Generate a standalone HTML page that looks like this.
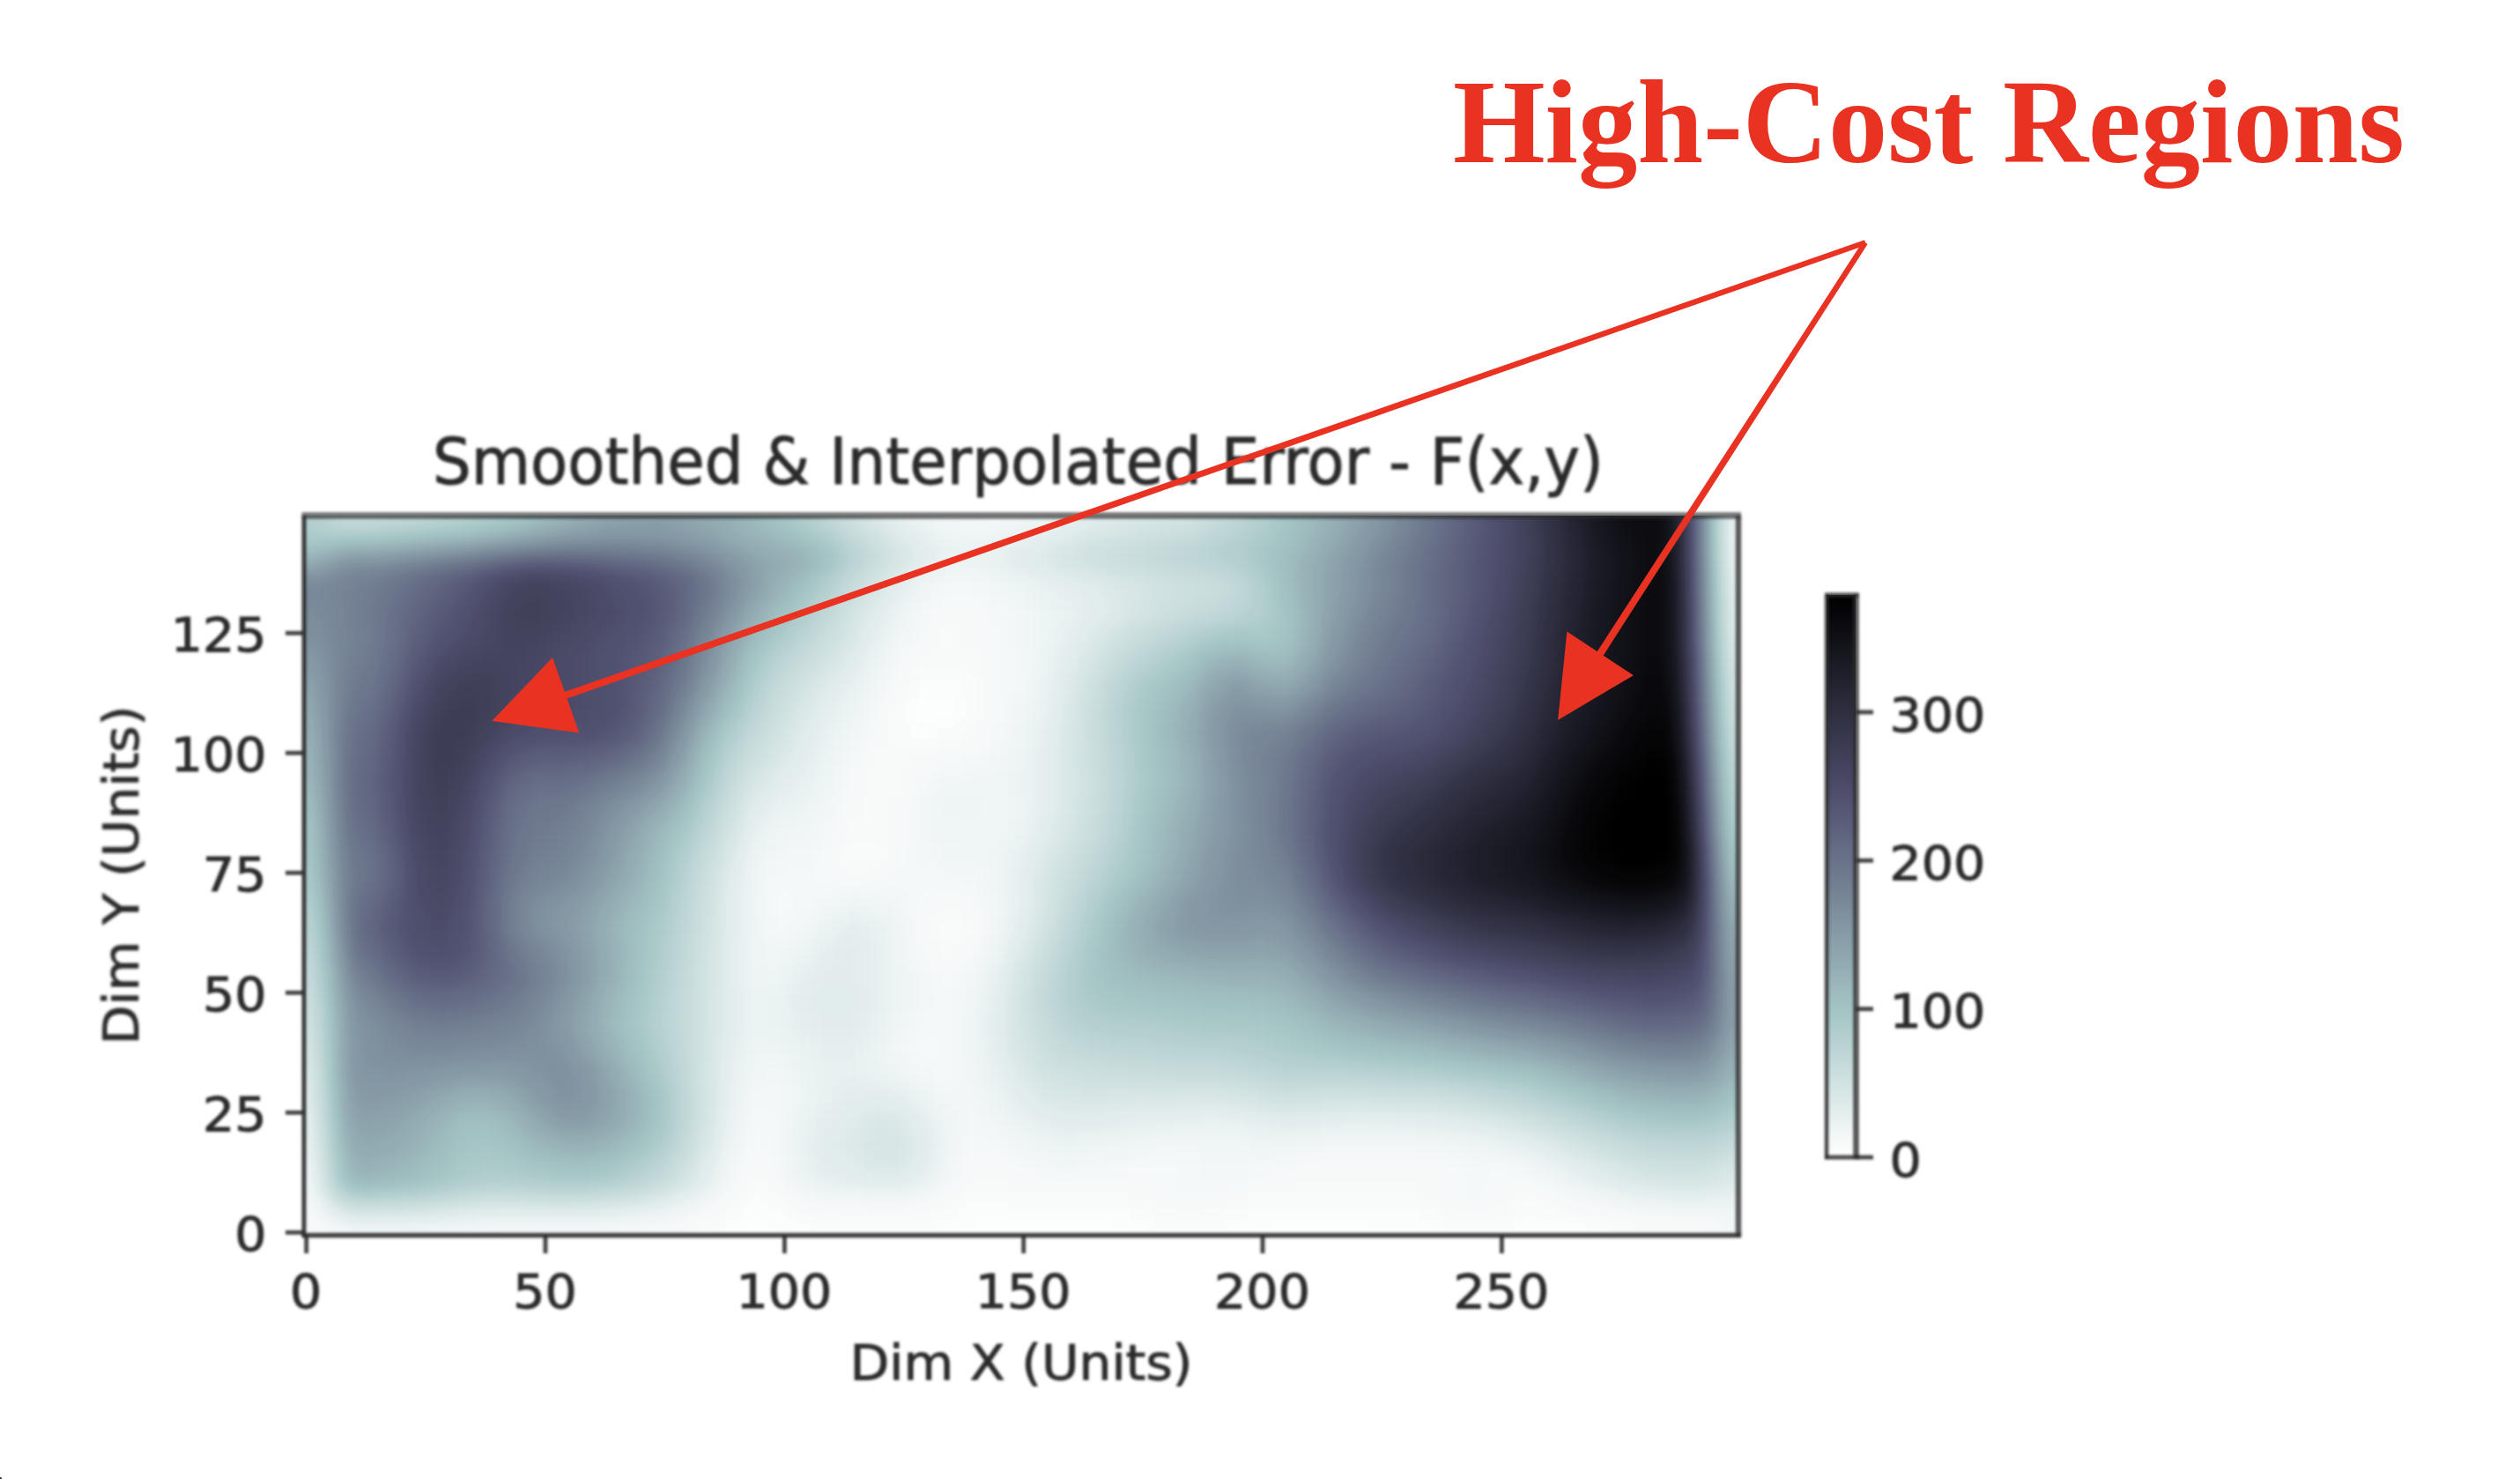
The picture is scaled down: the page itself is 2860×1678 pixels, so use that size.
<!DOCTYPE html>
<html lang="en">
<head>
<meta charset="utf-8">
<title>Smoothed &amp; Interpolated Error - F(x,y)</title>
<style>
html,body{margin:0;padding:0;background:#fff;}
body{width:2860px;height:1678px;overflow:hidden;}
svg{display:block;}
.dj{font-family:"DejaVu Sans","Liberation Sans",sans-serif;fill:#2b2b2b;}
.hc{font-family:"Liberation Serif","Times New Roman",serif;font-weight:bold;fill:#e93222;}
</style>
</head>
<body>
<svg width="2860" height="1678" viewBox="0 0 2860 1678">
<defs>
<clipPath id="axclip"><rect x="345.0" y="585.0" width="1628.0" height="816.0"/></clipPath>
<filter id="hm" filterUnits="userSpaceOnUse" primitiveUnits="userSpaceOnUse" x="275.0" y="515.0" width="1768.0" height="956.0" color-interpolation-filters="sRGB">
<feGaussianBlur in="SourceGraphic" stdDeviation="10" result="p"/>
<feComponentTransfer in="p">
<feFuncR type="table" tableValues="1.000 0.968 0.936 0.898 0.866 0.828 0.796 0.764 0.727 0.694 0.657 0.635 0.614 0.590 0.570 0.546 0.525 0.504 0.480 0.460 0.436 0.415 0.395 0.371 0.350 0.326 0.305 0.285 0.261 0.240 0.216 0.196 0.175 0.151 0.130 0.106 0.086 0.065 0.041 0.021 0.000"/>
<feFuncG type="table" tableValues="1.000 0.979 0.959 0.935 0.914 0.890 0.870 0.849 0.825 0.804 0.780 0.753 0.725 0.692 0.663 0.630 0.602 0.574 0.541 0.512 0.479 0.451 0.423 0.390 0.361 0.328 0.305 0.285 0.261 0.240 0.216 0.196 0.175 0.151 0.130 0.106 0.086 0.065 0.041 0.021 0.000"/>
<feFuncB type="table" tableValues="1.000 0.979 0.959 0.935 0.914 0.890 0.870 0.849 0.825 0.804 0.780 0.760 0.739 0.715 0.695 0.671 0.650 0.629 0.605 0.585 0.561 0.540 0.520 0.496 0.475 0.451 0.425 0.396 0.363 0.334 0.301 0.272 0.243 0.210 0.181 0.148 0.119 0.091 0.057 0.029 0.000"/>
</feComponentTransfer>
</filter>
<linearGradient id="cbg" x1="0" y1="0" x2="0" y2="1"><stop offset="0.00" stop-color="#000000"/><stop offset="0.05" stop-color="#0a0a0f"/><stop offset="0.10" stop-color="#16161e"/><stop offset="0.15" stop-color="#21212e"/><stop offset="0.20" stop-color="#2d2d3e"/><stop offset="0.25" stop-color="#37374d"/><stop offset="0.30" stop-color="#42425d"/><stop offset="0.35" stop-color="#4e4e6c"/><stop offset="0.40" stop-color="#595c79"/><stop offset="0.45" stop-color="#656c84"/><stop offset="0.50" stop-color="#6f7a8f"/><stop offset="0.55" stop-color="#7a8a9a"/><stop offset="0.60" stop-color="#869aa6"/><stop offset="0.65" stop-color="#91a9b1"/><stop offset="0.70" stop-color="#9db9bc"/><stop offset="0.75" stop-color="#a7c7c7"/><stop offset="0.80" stop-color="#b9d2d2"/><stop offset="0.85" stop-color="#cbdede"/><stop offset="0.90" stop-color="#dde9e9"/><stop offset="0.95" stop-color="#eff5f4"/><stop offset="1.00" stop-color="#ffffff"/></linearGradient>
<filter id="soft" x="-5%" y="-5%" width="110%" height="110%"><feGaussianBlur stdDeviation="1.7"/></filter>
<filter id="soft2" x="-5%" y="-5%" width="110%" height="110%"><feGaussianBlur stdDeviation="0.7"/></filter>
</defs>
<rect width="2860" height="1678" fill="#fff"/>

<!-- heatmap -->
<g clip-path="url(#axclip)">
<g filter="url(#hm)">
<rect x="265.0" y="505.0" width="1788.0" height="976.0" fill="#000"/>
<rect x="300.0" y="540.0" width="45.6" height="25.6" fill="#3a3a3a"/>
<rect x="345.0" y="540.0" width="10.6" height="25.6" fill="#393939"/>
<rect x="355.0" y="540.0" width="10.6" height="25.6" fill="#363636"/>
<rect x="365.0" y="540.0" width="10.6" height="25.6" fill="#313131"/>
<rect x="375.0" y="540.0" width="10.6" height="25.6" fill="#2c2c2c"/>
<rect x="385.0" y="540.0" width="10.6" height="25.6" fill="#282828"/>
<rect x="395.0" y="540.0" width="10.6" height="25.6" fill="#272727"/>
<rect x="405.0" y="540.0" width="28.0" height="25.6" fill="#292929"/>
<rect x="432.4" y="540.0" width="28.0" height="25.6" fill="#2b2b2b"/>
<rect x="459.7" y="540.0" width="28.0" height="25.6" fill="#2d2d2d"/>
<rect x="487.1" y="540.0" width="28.0" height="25.6" fill="#303030"/>
<rect x="514.5" y="540.0" width="28.0" height="25.6" fill="#343434"/>
<rect x="541.9" y="540.0" width="28.0" height="25.6" fill="#393939"/>
<rect x="569.2" y="540.0" width="28.0" height="25.6" fill="#3f3f3f"/>
<rect x="596.6" y="540.0" width="28.0" height="25.6" fill="#474747"/>
<rect x="624.0" y="540.0" width="28.0" height="25.6" fill="#505050"/>
<rect x="651.3" y="540.0" width="28.0" height="25.6" fill="#565656"/>
<rect x="678.7" y="540.0" width="28.0" height="25.6" fill="#5c5c5c"/>
<rect x="706.1" y="540.0" width="28.0" height="25.6" fill="#5e5e5e"/>
<rect x="733.4" y="540.0" width="28.0" height="25.6" fill="#5f5f5f"/>
<rect x="760.8" y="540.0" width="28.0" height="25.6" fill="#5c5c5c"/>
<rect x="788.2" y="540.0" width="28.0" height="25.6" fill="#585858"/>
<rect x="815.6" y="540.0" width="28.0" height="25.6" fill="#525252"/>
<rect x="842.9" y="540.0" width="28.0" height="25.6" fill="#4b4b4b"/>
<rect x="870.3" y="540.0" width="28.0" height="25.6" fill="#424242"/>
<rect x="897.7" y="540.0" width="28.0" height="25.6" fill="#383838"/>
<rect x="925.0" y="540.0" width="28.0" height="25.6" fill="#2e2e2e"/>
<rect x="952.4" y="540.0" width="28.0" height="25.6" fill="#232323"/>
<rect x="979.8" y="540.0" width="28.0" height="25.6" fill="#1a1a1a"/>
<rect x="1007.1" y="540.0" width="28.0" height="25.6" fill="#121212"/>
<rect x="1034.5" y="540.0" width="28.0" height="25.6" fill="#0d0d0d"/>
<rect x="1061.9" y="540.0" width="28.0" height="25.6" fill="#0a0a0a"/>
<rect x="1089.3" y="540.0" width="28.0" height="25.6" fill="#090909"/>
<rect x="1116.6" y="540.0" width="28.0" height="25.6" fill="#080808"/>
<rect x="1144.0" y="540.0" width="28.0" height="25.6" fill="#0a0a0a"/>
<rect x="1171.4" y="540.0" width="28.0" height="25.6" fill="#0c0c0c"/>
<rect x="1198.7" y="540.0" width="28.0" height="25.6" fill="#101010"/>
<rect x="1226.1" y="540.0" width="28.0" height="25.6" fill="#151515"/>
<rect x="1253.5" y="540.0" width="28.0" height="25.6" fill="#181818"/>
<rect x="1280.9" y="540.0" width="28.0" height="25.6" fill="#1b1b1b"/>
<rect x="1308.2" y="540.0" width="28.0" height="25.6" fill="#1d1d1d"/>
<rect x="1335.6" y="540.0" width="28.0" height="25.6" fill="#202020"/>
<rect x="1363.0" y="540.0" width="28.0" height="25.6" fill="#272727"/>
<rect x="1390.3" y="540.0" width="28.0" height="25.6" fill="#2e2e2e"/>
<rect x="1417.7" y="540.0" width="28.0" height="25.6" fill="#373737"/>
<rect x="1445.1" y="540.0" width="28.0" height="25.6" fill="#404040"/>
<rect x="1472.4" y="540.0" width="28.0" height="25.6" fill="#4a4a4a"/>
<rect x="1499.8" y="540.0" width="28.0" height="25.6" fill="#535353"/>
<rect x="1527.2" y="540.0" width="28.0" height="25.6" fill="#5e5e5e"/>
<rect x="1554.6" y="540.0" width="28.0" height="25.6" fill="#696969"/>
<rect x="1581.9" y="540.0" width="28.0" height="25.6" fill="#767676"/>
<rect x="1609.3" y="540.0" width="28.0" height="25.6" fill="#828282"/>
<rect x="1636.7" y="540.0" width="28.0" height="25.6" fill="#8f8f8f"/>
<rect x="1664.0" y="540.0" width="28.0" height="25.6" fill="#9b9b9b"/>
<rect x="1691.4" y="540.0" width="28.0" height="25.6" fill="#a7a7a7"/>
<rect x="1718.8" y="540.0" width="28.0" height="25.6" fill="#b4b4b4"/>
<rect x="1746.1" y="540.0" width="28.0" height="25.6" fill="#c5c5c5"/>
<rect x="1773.5" y="540.0" width="28.0" height="25.6" fill="#d6d6d6"/>
<rect x="1800.9" y="540.0" width="28.0" height="25.6" fill="#e4e4e4"/>
<rect x="1828.3" y="540.0" width="28.0" height="25.6" fill="#efefef"/>
<rect x="1855.6" y="540.0" width="28.0" height="25.6" fill="#f1f1f1"/>
<rect x="1883.0" y="540.0" width="10.6" height="25.6" fill="#f2f2f2"/>
<rect x="1893.0" y="540.0" width="10.6" height="25.6" fill="#e7e7e7"/>
<rect x="1903.0" y="540.0" width="10.6" height="25.6" fill="#cdcdcd"/>
<rect x="1913.0" y="540.0" width="10.6" height="25.6" fill="#ababab"/>
<rect x="1923.0" y="540.0" width="10.6" height="25.6" fill="#838383"/>
<rect x="1933.0" y="540.0" width="10.6" height="25.6" fill="#5b5b5b"/>
<rect x="1943.0" y="540.0" width="10.6" height="25.6" fill="#373737"/>
<rect x="1953.0" y="540.0" width="10.6" height="25.6" fill="#1a1a1a"/>
<rect x="1963.0" y="540.0" width="10.6" height="25.6" fill="#0a0a0a"/>
<rect x="1973.0" y="540.0" width="45.6" height="25.6" fill="#080808"/>
<rect x="300.0" y="565.0" width="45.6" height="20.6" fill="#3a3a3a"/>
<rect x="345.0" y="565.0" width="10.6" height="20.6" fill="#393939"/>
<rect x="355.0" y="565.0" width="10.6" height="20.6" fill="#363636"/>
<rect x="365.0" y="565.0" width="10.6" height="20.6" fill="#313131"/>
<rect x="375.0" y="565.0" width="10.6" height="20.6" fill="#2c2c2c"/>
<rect x="385.0" y="565.0" width="10.6" height="20.6" fill="#282828"/>
<rect x="395.0" y="565.0" width="10.6" height="20.6" fill="#272727"/>
<rect x="405.0" y="565.0" width="28.0" height="20.6" fill="#292929"/>
<rect x="432.4" y="565.0" width="28.0" height="20.6" fill="#2b2b2b"/>
<rect x="459.7" y="565.0" width="28.0" height="20.6" fill="#2d2d2d"/>
<rect x="487.1" y="565.0" width="28.0" height="20.6" fill="#303030"/>
<rect x="514.5" y="565.0" width="28.0" height="20.6" fill="#343434"/>
<rect x="541.9" y="565.0" width="28.0" height="20.6" fill="#393939"/>
<rect x="569.2" y="565.0" width="28.0" height="20.6" fill="#3f3f3f"/>
<rect x="596.6" y="565.0" width="28.0" height="20.6" fill="#474747"/>
<rect x="624.0" y="565.0" width="28.0" height="20.6" fill="#505050"/>
<rect x="651.3" y="565.0" width="28.0" height="20.6" fill="#565656"/>
<rect x="678.7" y="565.0" width="28.0" height="20.6" fill="#5c5c5c"/>
<rect x="706.1" y="565.0" width="28.0" height="20.6" fill="#5e5e5e"/>
<rect x="733.4" y="565.0" width="28.0" height="20.6" fill="#5f5f5f"/>
<rect x="760.8" y="565.0" width="28.0" height="20.6" fill="#5c5c5c"/>
<rect x="788.2" y="565.0" width="28.0" height="20.6" fill="#585858"/>
<rect x="815.6" y="565.0" width="28.0" height="20.6" fill="#525252"/>
<rect x="842.9" y="565.0" width="28.0" height="20.6" fill="#4b4b4b"/>
<rect x="870.3" y="565.0" width="28.0" height="20.6" fill="#424242"/>
<rect x="897.7" y="565.0" width="28.0" height="20.6" fill="#383838"/>
<rect x="925.0" y="565.0" width="28.0" height="20.6" fill="#2e2e2e"/>
<rect x="952.4" y="565.0" width="28.0" height="20.6" fill="#232323"/>
<rect x="979.8" y="565.0" width="28.0" height="20.6" fill="#1a1a1a"/>
<rect x="1007.1" y="565.0" width="28.0" height="20.6" fill="#121212"/>
<rect x="1034.5" y="565.0" width="28.0" height="20.6" fill="#0d0d0d"/>
<rect x="1061.9" y="565.0" width="28.0" height="20.6" fill="#0a0a0a"/>
<rect x="1089.3" y="565.0" width="28.0" height="20.6" fill="#090909"/>
<rect x="1116.6" y="565.0" width="28.0" height="20.6" fill="#080808"/>
<rect x="1144.0" y="565.0" width="28.0" height="20.6" fill="#0a0a0a"/>
<rect x="1171.4" y="565.0" width="28.0" height="20.6" fill="#0c0c0c"/>
<rect x="1198.7" y="565.0" width="28.0" height="20.6" fill="#101010"/>
<rect x="1226.1" y="565.0" width="28.0" height="20.6" fill="#151515"/>
<rect x="1253.5" y="565.0" width="28.0" height="20.6" fill="#181818"/>
<rect x="1280.9" y="565.0" width="28.0" height="20.6" fill="#1b1b1b"/>
<rect x="1308.2" y="565.0" width="28.0" height="20.6" fill="#1d1d1d"/>
<rect x="1335.6" y="565.0" width="28.0" height="20.6" fill="#202020"/>
<rect x="1363.0" y="565.0" width="28.0" height="20.6" fill="#272727"/>
<rect x="1390.3" y="565.0" width="28.0" height="20.6" fill="#2e2e2e"/>
<rect x="1417.7" y="565.0" width="28.0" height="20.6" fill="#373737"/>
<rect x="1445.1" y="565.0" width="28.0" height="20.6" fill="#404040"/>
<rect x="1472.4" y="565.0" width="28.0" height="20.6" fill="#4a4a4a"/>
<rect x="1499.8" y="565.0" width="28.0" height="20.6" fill="#535353"/>
<rect x="1527.2" y="565.0" width="28.0" height="20.6" fill="#5e5e5e"/>
<rect x="1554.6" y="565.0" width="28.0" height="20.6" fill="#696969"/>
<rect x="1581.9" y="565.0" width="28.0" height="20.6" fill="#767676"/>
<rect x="1609.3" y="565.0" width="28.0" height="20.6" fill="#828282"/>
<rect x="1636.7" y="565.0" width="28.0" height="20.6" fill="#8f8f8f"/>
<rect x="1664.0" y="565.0" width="28.0" height="20.6" fill="#9b9b9b"/>
<rect x="1691.4" y="565.0" width="28.0" height="20.6" fill="#a7a7a7"/>
<rect x="1718.8" y="565.0" width="28.0" height="20.6" fill="#b4b4b4"/>
<rect x="1746.1" y="565.0" width="28.0" height="20.6" fill="#c5c5c5"/>
<rect x="1773.5" y="565.0" width="28.0" height="20.6" fill="#d6d6d6"/>
<rect x="1800.9" y="565.0" width="28.0" height="20.6" fill="#e4e4e4"/>
<rect x="1828.3" y="565.0" width="28.0" height="20.6" fill="#efefef"/>
<rect x="1855.6" y="565.0" width="28.0" height="20.6" fill="#f1f1f1"/>
<rect x="1883.0" y="565.0" width="10.6" height="20.6" fill="#f2f2f2"/>
<rect x="1893.0" y="565.0" width="10.6" height="20.6" fill="#e7e7e7"/>
<rect x="1903.0" y="565.0" width="10.6" height="20.6" fill="#cdcdcd"/>
<rect x="1913.0" y="565.0" width="10.6" height="20.6" fill="#ababab"/>
<rect x="1923.0" y="565.0" width="10.6" height="20.6" fill="#838383"/>
<rect x="1933.0" y="565.0" width="10.6" height="20.6" fill="#5b5b5b"/>
<rect x="1943.0" y="565.0" width="10.6" height="20.6" fill="#373737"/>
<rect x="1953.0" y="565.0" width="10.6" height="20.6" fill="#1a1a1a"/>
<rect x="1963.0" y="565.0" width="10.6" height="20.6" fill="#0a0a0a"/>
<rect x="1973.0" y="565.0" width="45.6" height="20.6" fill="#080808"/>
<rect x="300.0" y="585.0" width="45.6" height="10.6" fill="#3a3a3a"/>
<rect x="345.0" y="585.0" width="10.6" height="10.6" fill="#393939"/>
<rect x="355.0" y="585.0" width="10.6" height="10.6" fill="#363636"/>
<rect x="365.0" y="585.0" width="10.6" height="10.6" fill="#323232"/>
<rect x="375.0" y="585.0" width="10.6" height="10.6" fill="#2d2d2d"/>
<rect x="385.0" y="585.0" width="10.6" height="10.6" fill="#292929"/>
<rect x="395.0" y="585.0" width="10.6" height="10.6" fill="#282828"/>
<rect x="405.0" y="585.0" width="28.0" height="10.6" fill="#2a2a2a"/>
<rect x="432.4" y="585.0" width="28.0" height="10.6" fill="#2c2c2c"/>
<rect x="459.7" y="585.0" width="28.0" height="10.6" fill="#2e2e2e"/>
<rect x="487.1" y="585.0" width="28.0" height="10.6" fill="#313131"/>
<rect x="514.5" y="585.0" width="28.0" height="10.6" fill="#353535"/>
<rect x="541.9" y="585.0" width="28.0" height="10.6" fill="#3a3a3a"/>
<rect x="569.2" y="585.0" width="28.0" height="10.6" fill="#404040"/>
<rect x="596.6" y="585.0" width="28.0" height="10.6" fill="#484848"/>
<rect x="624.0" y="585.0" width="28.0" height="10.6" fill="#505050"/>
<rect x="651.3" y="585.0" width="28.0" height="10.6" fill="#575757"/>
<rect x="678.7" y="585.0" width="28.0" height="10.6" fill="#5c5c5c"/>
<rect x="706.1" y="585.0" width="28.0" height="10.6" fill="#5f5f5f"/>
<rect x="733.4" y="585.0" width="28.0" height="10.6" fill="#606060"/>
<rect x="760.8" y="585.0" width="28.0" height="10.6" fill="#5d5d5d"/>
<rect x="788.2" y="585.0" width="28.0" height="10.6" fill="#585858"/>
<rect x="815.6" y="585.0" width="28.0" height="10.6" fill="#525252"/>
<rect x="842.9" y="585.0" width="28.0" height="10.6" fill="#4b4b4b"/>
<rect x="870.3" y="585.0" width="28.0" height="10.6" fill="#424242"/>
<rect x="897.7" y="585.0" width="28.0" height="10.6" fill="#393939"/>
<rect x="925.0" y="585.0" width="28.0" height="10.6" fill="#2e2e2e"/>
<rect x="952.4" y="585.0" width="28.0" height="10.6" fill="#232323"/>
<rect x="979.8" y="585.0" width="28.0" height="10.6" fill="#1a1a1a"/>
<rect x="1007.1" y="585.0" width="28.0" height="10.6" fill="#121212"/>
<rect x="1034.5" y="585.0" width="28.0" height="10.6" fill="#0e0e0e"/>
<rect x="1061.9" y="585.0" width="28.0" height="10.6" fill="#0a0a0a"/>
<rect x="1089.3" y="585.0" width="28.0" height="10.6" fill="#090909"/>
<rect x="1116.6" y="585.0" width="28.0" height="10.6" fill="#080808"/>
<rect x="1144.0" y="585.0" width="28.0" height="10.6" fill="#0a0a0a"/>
<rect x="1171.4" y="585.0" width="28.0" height="10.6" fill="#0c0c0c"/>
<rect x="1198.7" y="585.0" width="28.0" height="10.6" fill="#111111"/>
<rect x="1226.1" y="585.0" width="28.0" height="10.6" fill="#151515"/>
<rect x="1253.5" y="585.0" width="28.0" height="10.6" fill="#181818"/>
<rect x="1280.9" y="585.0" width="28.0" height="10.6" fill="#1b1b1b"/>
<rect x="1308.2" y="585.0" width="28.0" height="10.6" fill="#1e1e1e"/>
<rect x="1335.6" y="585.0" width="28.0" height="10.6" fill="#202020"/>
<rect x="1363.0" y="585.0" width="28.0" height="10.6" fill="#272727"/>
<rect x="1390.3" y="585.0" width="28.0" height="10.6" fill="#2e2e2e"/>
<rect x="1417.7" y="585.0" width="28.0" height="10.6" fill="#373737"/>
<rect x="1445.1" y="585.0" width="28.0" height="10.6" fill="#414141"/>
<rect x="1472.4" y="585.0" width="28.0" height="10.6" fill="#4a4a4a"/>
<rect x="1499.8" y="585.0" width="28.0" height="10.6" fill="#535353"/>
<rect x="1527.2" y="585.0" width="28.0" height="10.6" fill="#5e5e5e"/>
<rect x="1554.6" y="585.0" width="28.0" height="10.6" fill="#6a6a6a"/>
<rect x="1581.9" y="585.0" width="28.0" height="10.6" fill="#767676"/>
<rect x="1609.3" y="585.0" width="28.0" height="10.6" fill="#838383"/>
<rect x="1636.7" y="585.0" width="28.0" height="10.6" fill="#8f8f8f"/>
<rect x="1664.0" y="585.0" width="28.0" height="10.6" fill="#9b9b9b"/>
<rect x="1691.4" y="585.0" width="28.0" height="10.6" fill="#a7a7a7"/>
<rect x="1718.8" y="585.0" width="28.0" height="10.6" fill="#b4b4b4"/>
<rect x="1746.1" y="585.0" width="28.0" height="10.6" fill="#c5c5c5"/>
<rect x="1773.5" y="585.0" width="28.0" height="10.6" fill="#d6d6d6"/>
<rect x="1800.9" y="585.0" width="28.0" height="10.6" fill="#e3e3e3"/>
<rect x="1828.3" y="585.0" width="28.0" height="10.6" fill="#efefef"/>
<rect x="1855.6" y="585.0" width="28.0" height="10.6" fill="#f1f1f1"/>
<rect x="1883.0" y="585.0" width="10.6" height="10.6" fill="#f2f2f2"/>
<rect x="1893.0" y="585.0" width="10.6" height="10.6" fill="#e7e7e7"/>
<rect x="1903.0" y="585.0" width="10.6" height="10.6" fill="#cdcdcd"/>
<rect x="1913.0" y="585.0" width="10.6" height="10.6" fill="#ababab"/>
<rect x="1923.0" y="585.0" width="10.6" height="10.6" fill="#838383"/>
<rect x="1933.0" y="585.0" width="10.6" height="10.6" fill="#5b5b5b"/>
<rect x="1943.0" y="585.0" width="10.6" height="10.6" fill="#373737"/>
<rect x="1953.0" y="585.0" width="10.6" height="10.6" fill="#1a1a1a"/>
<rect x="1963.0" y="585.0" width="10.6" height="10.6" fill="#0a0a0a"/>
<rect x="1973.0" y="585.0" width="45.6" height="10.6" fill="#080808"/>
<rect x="300.0" y="595.0" width="55.6" height="10.6" fill="#3a3a3a"/>
<rect x="355.0" y="595.0" width="10.6" height="10.6" fill="#383838"/>
<rect x="365.0" y="595.0" width="10.6" height="10.6" fill="#353535"/>
<rect x="375.0" y="595.0" width="10.6" height="10.6" fill="#323232"/>
<rect x="385.0" y="595.0" width="10.6" height="10.6" fill="#313131"/>
<rect x="395.0" y="595.0" width="10.6" height="10.6" fill="#303030"/>
<rect x="405.0" y="595.0" width="28.0" height="10.6" fill="#313131"/>
<rect x="432.4" y="595.0" width="28.0" height="10.6" fill="#343434"/>
<rect x="459.7" y="595.0" width="28.0" height="10.6" fill="#363636"/>
<rect x="487.1" y="595.0" width="28.0" height="10.6" fill="#3a3a3a"/>
<rect x="514.5" y="595.0" width="28.0" height="10.6" fill="#3d3d3d"/>
<rect x="541.9" y="595.0" width="28.0" height="10.6" fill="#424242"/>
<rect x="569.2" y="595.0" width="28.0" height="10.6" fill="#484848"/>
<rect x="596.6" y="595.0" width="28.0" height="10.6" fill="#505050"/>
<rect x="624.0" y="595.0" width="28.0" height="10.6" fill="#575757"/>
<rect x="651.3" y="595.0" width="28.0" height="10.6" fill="#5d5d5d"/>
<rect x="678.7" y="595.0" width="28.0" height="10.6" fill="#616161"/>
<rect x="706.1" y="595.0" width="55.3" height="10.6" fill="#636363"/>
<rect x="760.8" y="595.0" width="28.0" height="10.6" fill="#606060"/>
<rect x="788.2" y="595.0" width="28.0" height="10.6" fill="#5b5b5b"/>
<rect x="815.6" y="595.0" width="28.0" height="10.6" fill="#545454"/>
<rect x="842.9" y="595.0" width="28.0" height="10.6" fill="#4d4d4d"/>
<rect x="870.3" y="595.0" width="28.0" height="10.6" fill="#464646"/>
<rect x="897.7" y="595.0" width="28.0" height="10.6" fill="#3d3d3d"/>
<rect x="925.0" y="595.0" width="28.0" height="10.6" fill="#333333"/>
<rect x="952.4" y="595.0" width="28.0" height="10.6" fill="#272727"/>
<rect x="979.8" y="595.0" width="28.0" height="10.6" fill="#1d1d1d"/>
<rect x="1007.1" y="595.0" width="28.0" height="10.6" fill="#141414"/>
<rect x="1034.5" y="595.0" width="28.0" height="10.6" fill="#0f0f0f"/>
<rect x="1061.9" y="595.0" width="28.0" height="10.6" fill="#0b0b0b"/>
<rect x="1089.3" y="595.0" width="55.3" height="10.6" fill="#0a0a0a"/>
<rect x="1144.0" y="595.0" width="28.0" height="10.6" fill="#0d0d0d"/>
<rect x="1171.4" y="595.0" width="28.0" height="10.6" fill="#0f0f0f"/>
<rect x="1198.7" y="595.0" width="28.0" height="10.6" fill="#141414"/>
<rect x="1226.1" y="595.0" width="28.0" height="10.6" fill="#181818"/>
<rect x="1253.5" y="595.0" width="28.0" height="10.6" fill="#1b1b1b"/>
<rect x="1280.9" y="595.0" width="28.0" height="10.6" fill="#1f1f1f"/>
<rect x="1308.2" y="595.0" width="28.0" height="10.6" fill="#212121"/>
<rect x="1335.6" y="595.0" width="28.0" height="10.6" fill="#242424"/>
<rect x="1363.0" y="595.0" width="28.0" height="10.6" fill="#2b2b2b"/>
<rect x="1390.3" y="595.0" width="28.0" height="10.6" fill="#313131"/>
<rect x="1417.7" y="595.0" width="28.0" height="10.6" fill="#393939"/>
<rect x="1445.1" y="595.0" width="28.0" height="10.6" fill="#424242"/>
<rect x="1472.4" y="595.0" width="28.0" height="10.6" fill="#4b4b4b"/>
<rect x="1499.8" y="595.0" width="28.0" height="10.6" fill="#555555"/>
<rect x="1527.2" y="595.0" width="28.0" height="10.6" fill="#606060"/>
<rect x="1554.6" y="595.0" width="28.0" height="10.6" fill="#6b6b6b"/>
<rect x="1581.9" y="595.0" width="28.0" height="10.6" fill="#777777"/>
<rect x="1609.3" y="595.0" width="28.0" height="10.6" fill="#838383"/>
<rect x="1636.7" y="595.0" width="28.0" height="10.6" fill="#8f8f8f"/>
<rect x="1664.0" y="595.0" width="28.0" height="10.6" fill="#9b9b9b"/>
<rect x="1691.4" y="595.0" width="28.0" height="10.6" fill="#a7a7a7"/>
<rect x="1718.8" y="595.0" width="28.0" height="10.6" fill="#b4b4b4"/>
<rect x="1746.1" y="595.0" width="28.0" height="10.6" fill="#c5c5c5"/>
<rect x="1773.5" y="595.0" width="28.0" height="10.6" fill="#d5d5d5"/>
<rect x="1800.9" y="595.0" width="28.0" height="10.6" fill="#e3e3e3"/>
<rect x="1828.3" y="595.0" width="28.0" height="10.6" fill="#eeeeee"/>
<rect x="1855.6" y="595.0" width="28.0" height="10.6" fill="#f0f0f0"/>
<rect x="1883.0" y="595.0" width="10.6" height="10.6" fill="#f2f2f2"/>
<rect x="1893.0" y="595.0" width="10.6" height="10.6" fill="#e7e7e7"/>
<rect x="1903.0" y="595.0" width="10.6" height="10.6" fill="#cdcdcd"/>
<rect x="1913.0" y="595.0" width="10.6" height="10.6" fill="#ababab"/>
<rect x="1923.0" y="595.0" width="10.6" height="10.6" fill="#838383"/>
<rect x="1933.0" y="595.0" width="10.6" height="10.6" fill="#5b5b5b"/>
<rect x="1943.0" y="595.0" width="10.6" height="10.6" fill="#373737"/>
<rect x="1953.0" y="595.0" width="10.6" height="10.6" fill="#1a1a1a"/>
<rect x="1963.0" y="595.0" width="10.6" height="10.6" fill="#0a0a0a"/>
<rect x="1973.0" y="595.0" width="45.6" height="10.6" fill="#080808"/>
<rect x="300.0" y="605.0" width="65.6" height="10.6" fill="#3a3a3a"/>
<rect x="365.0" y="605.0" width="10.6" height="10.6" fill="#3b3b3b"/>
<rect x="375.0" y="605.0" width="10.6" height="10.6" fill="#3c3c3c"/>
<rect x="385.0" y="605.0" width="20.6" height="10.6" fill="#3d3d3d"/>
<rect x="405.0" y="605.0" width="28.0" height="10.6" fill="#3e3e3e"/>
<rect x="432.4" y="605.0" width="28.0" height="10.6" fill="#404040"/>
<rect x="459.7" y="605.0" width="28.0" height="10.6" fill="#444444"/>
<rect x="487.1" y="605.0" width="28.0" height="10.6" fill="#484848"/>
<rect x="514.5" y="605.0" width="28.0" height="10.6" fill="#4b4b4b"/>
<rect x="541.9" y="605.0" width="28.0" height="10.6" fill="#515151"/>
<rect x="569.2" y="605.0" width="28.0" height="10.6" fill="#575757"/>
<rect x="596.6" y="605.0" width="28.0" height="10.6" fill="#5e5e5e"/>
<rect x="624.0" y="605.0" width="28.0" height="10.6" fill="#636363"/>
<rect x="651.3" y="605.0" width="28.0" height="10.6" fill="#676767"/>
<rect x="678.7" y="605.0" width="55.3" height="10.6" fill="#6a6a6a"/>
<rect x="733.4" y="605.0" width="28.0" height="10.6" fill="#696969"/>
<rect x="760.8" y="605.0" width="28.0" height="10.6" fill="#656565"/>
<rect x="788.2" y="605.0" width="28.0" height="10.6" fill="#5f5f5f"/>
<rect x="815.6" y="605.0" width="28.0" height="10.6" fill="#585858"/>
<rect x="842.9" y="605.0" width="28.0" height="10.6" fill="#515151"/>
<rect x="870.3" y="605.0" width="28.0" height="10.6" fill="#4b4b4b"/>
<rect x="897.7" y="605.0" width="28.0" height="10.6" fill="#444444"/>
<rect x="925.0" y="605.0" width="28.0" height="10.6" fill="#393939"/>
<rect x="952.4" y="605.0" width="28.0" height="10.6" fill="#2c2c2c"/>
<rect x="979.8" y="605.0" width="28.0" height="10.6" fill="#222222"/>
<rect x="1007.1" y="605.0" width="28.0" height="10.6" fill="#181818"/>
<rect x="1034.5" y="605.0" width="28.0" height="10.6" fill="#121212"/>
<rect x="1061.9" y="605.0" width="82.7" height="10.6" fill="#0d0d0d"/>
<rect x="1144.0" y="605.0" width="28.0" height="10.6" fill="#101010"/>
<rect x="1171.4" y="605.0" width="28.0" height="10.6" fill="#131313"/>
<rect x="1198.7" y="605.0" width="28.0" height="10.6" fill="#181818"/>
<rect x="1226.1" y="605.0" width="28.0" height="10.6" fill="#1d1d1d"/>
<rect x="1253.5" y="605.0" width="28.0" height="10.6" fill="#202020"/>
<rect x="1280.9" y="605.0" width="28.0" height="10.6" fill="#232323"/>
<rect x="1308.2" y="605.0" width="28.0" height="10.6" fill="#262626"/>
<rect x="1335.6" y="605.0" width="28.0" height="10.6" fill="#292929"/>
<rect x="1363.0" y="605.0" width="28.0" height="10.6" fill="#303030"/>
<rect x="1390.3" y="605.0" width="28.0" height="10.6" fill="#353535"/>
<rect x="1417.7" y="605.0" width="28.0" height="10.6" fill="#3c3c3c"/>
<rect x="1445.1" y="605.0" width="28.0" height="10.6" fill="#434343"/>
<rect x="1472.4" y="605.0" width="28.0" height="10.6" fill="#4d4d4d"/>
<rect x="1499.8" y="605.0" width="28.0" height="10.6" fill="#575757"/>
<rect x="1527.2" y="605.0" width="28.0" height="10.6" fill="#636363"/>
<rect x="1554.6" y="605.0" width="28.0" height="10.6" fill="#6e6e6e"/>
<rect x="1581.9" y="605.0" width="28.0" height="10.6" fill="#7a7a7a"/>
<rect x="1609.3" y="605.0" width="28.0" height="10.6" fill="#858585"/>
<rect x="1636.7" y="605.0" width="28.0" height="10.6" fill="#919191"/>
<rect x="1664.0" y="605.0" width="28.0" height="10.6" fill="#9c9c9c"/>
<rect x="1691.4" y="605.0" width="28.0" height="10.6" fill="#a7a7a7"/>
<rect x="1718.8" y="605.0" width="28.0" height="10.6" fill="#b3b3b3"/>
<rect x="1746.1" y="605.0" width="28.0" height="10.6" fill="#c4c4c4"/>
<rect x="1773.5" y="605.0" width="28.0" height="10.6" fill="#d4d4d4"/>
<rect x="1800.9" y="605.0" width="28.0" height="10.6" fill="#e1e1e1"/>
<rect x="1828.3" y="605.0" width="28.0" height="10.6" fill="#ececec"/>
<rect x="1855.6" y="605.0" width="28.0" height="10.6" fill="#f0f0f0"/>
<rect x="1883.0" y="605.0" width="10.6" height="10.6" fill="#f1f1f1"/>
<rect x="1893.0" y="605.0" width="10.6" height="10.6" fill="#e7e7e7"/>
<rect x="1903.0" y="605.0" width="10.6" height="10.6" fill="#cdcdcd"/>
<rect x="1913.0" y="605.0" width="10.6" height="10.6" fill="#ababab"/>
<rect x="1923.0" y="605.0" width="10.6" height="10.6" fill="#838383"/>
<rect x="1933.0" y="605.0" width="10.6" height="10.6" fill="#5b5b5b"/>
<rect x="1943.0" y="605.0" width="10.6" height="10.6" fill="#373737"/>
<rect x="1953.0" y="605.0" width="10.6" height="10.6" fill="#1a1a1a"/>
<rect x="1963.0" y="605.0" width="10.6" height="10.6" fill="#0a0a0a"/>
<rect x="1973.0" y="605.0" width="45.6" height="10.6" fill="#080808"/>
<rect x="300.0" y="615.0" width="55.6" height="10.6" fill="#424242"/>
<rect x="355.0" y="615.0" width="10.6" height="10.6" fill="#444444"/>
<rect x="365.0" y="615.0" width="10.6" height="10.6" fill="#474747"/>
<rect x="375.0" y="615.0" width="10.6" height="10.6" fill="#4a4a4a"/>
<rect x="385.0" y="615.0" width="10.6" height="10.6" fill="#4c4c4c"/>
<rect x="395.0" y="615.0" width="38.0" height="10.6" fill="#4e4e4e"/>
<rect x="432.4" y="615.0" width="28.0" height="10.6" fill="#515151"/>
<rect x="459.7" y="615.0" width="28.0" height="10.6" fill="#555555"/>
<rect x="487.1" y="615.0" width="28.0" height="10.6" fill="#595959"/>
<rect x="514.5" y="615.0" width="28.0" height="10.6" fill="#5e5e5e"/>
<rect x="541.9" y="615.0" width="28.0" height="10.6" fill="#646464"/>
<rect x="569.2" y="615.0" width="28.0" height="10.6" fill="#6b6b6b"/>
<rect x="596.6" y="615.0" width="28.0" height="10.6" fill="#707070"/>
<rect x="624.0" y="615.0" width="28.0" height="10.6" fill="#747474"/>
<rect x="651.3" y="615.0" width="28.0" height="10.6" fill="#757575"/>
<rect x="678.7" y="615.0" width="28.0" height="10.6" fill="#767676"/>
<rect x="706.1" y="615.0" width="28.0" height="10.6" fill="#757575"/>
<rect x="733.4" y="615.0" width="28.0" height="10.6" fill="#727272"/>
<rect x="760.8" y="615.0" width="28.0" height="10.6" fill="#6d6d6d"/>
<rect x="788.2" y="615.0" width="28.0" height="10.6" fill="#666666"/>
<rect x="815.6" y="615.0" width="28.0" height="10.6" fill="#5d5d5d"/>
<rect x="842.9" y="615.0" width="28.0" height="10.6" fill="#565656"/>
<rect x="870.3" y="615.0" width="28.0" height="10.6" fill="#515151"/>
<rect x="897.7" y="615.0" width="28.0" height="10.6" fill="#4b4b4b"/>
<rect x="925.0" y="615.0" width="28.0" height="10.6" fill="#404040"/>
<rect x="952.4" y="615.0" width="28.0" height="10.6" fill="#323232"/>
<rect x="979.8" y="615.0" width="28.0" height="10.6" fill="#262626"/>
<rect x="1007.1" y="615.0" width="28.0" height="10.6" fill="#1c1c1c"/>
<rect x="1034.5" y="615.0" width="28.0" height="10.6" fill="#141414"/>
<rect x="1061.9" y="615.0" width="55.3" height="10.6" fill="#0f0f0f"/>
<rect x="1116.6" y="615.0" width="28.0" height="10.6" fill="#101010"/>
<rect x="1144.0" y="615.0" width="28.0" height="10.6" fill="#131313"/>
<rect x="1171.4" y="615.0" width="28.0" height="10.6" fill="#171717"/>
<rect x="1198.7" y="615.0" width="28.0" height="10.6" fill="#1c1c1c"/>
<rect x="1226.1" y="615.0" width="28.0" height="10.6" fill="#212121"/>
<rect x="1253.5" y="615.0" width="28.0" height="10.6" fill="#242424"/>
<rect x="1280.9" y="615.0" width="28.0" height="10.6" fill="#272727"/>
<rect x="1308.2" y="615.0" width="28.0" height="10.6" fill="#2b2b2b"/>
<rect x="1335.6" y="615.0" width="28.0" height="10.6" fill="#2e2e2e"/>
<rect x="1363.0" y="615.0" width="28.0" height="10.6" fill="#343434"/>
<rect x="1390.3" y="615.0" width="28.0" height="10.6" fill="#393939"/>
<rect x="1417.7" y="615.0" width="28.0" height="10.6" fill="#3e3e3e"/>
<rect x="1445.1" y="615.0" width="28.0" height="10.6" fill="#454545"/>
<rect x="1472.4" y="615.0" width="28.0" height="10.6" fill="#4f4f4f"/>
<rect x="1499.8" y="615.0" width="28.0" height="10.6" fill="#5a5a5a"/>
<rect x="1527.2" y="615.0" width="28.0" height="10.6" fill="#666666"/>
<rect x="1554.6" y="615.0" width="28.0" height="10.6" fill="#717171"/>
<rect x="1581.9" y="615.0" width="28.0" height="10.6" fill="#7c7c7c"/>
<rect x="1609.3" y="615.0" width="28.0" height="10.6" fill="#878787"/>
<rect x="1636.7" y="615.0" width="28.0" height="10.6" fill="#929292"/>
<rect x="1664.0" y="615.0" width="28.0" height="10.6" fill="#9d9d9d"/>
<rect x="1691.4" y="615.0" width="28.0" height="10.6" fill="#a7a7a7"/>
<rect x="1718.8" y="615.0" width="28.0" height="10.6" fill="#b3b3b3"/>
<rect x="1746.1" y="615.0" width="28.0" height="10.6" fill="#c3c3c3"/>
<rect x="1773.5" y="615.0" width="28.0" height="10.6" fill="#d3d3d3"/>
<rect x="1800.9" y="615.0" width="28.0" height="10.6" fill="#e0e0e0"/>
<rect x="1828.3" y="615.0" width="28.0" height="10.6" fill="#ebebeb"/>
<rect x="1855.6" y="615.0" width="28.0" height="10.6" fill="#f0f0f0"/>
<rect x="1883.0" y="615.0" width="10.6" height="10.6" fill="#f1f1f1"/>
<rect x="1893.0" y="615.0" width="10.6" height="10.6" fill="#e7e7e7"/>
<rect x="1903.0" y="615.0" width="10.6" height="10.6" fill="#cecece"/>
<rect x="1913.0" y="615.0" width="10.6" height="10.6" fill="#ababab"/>
<rect x="1923.0" y="615.0" width="10.6" height="10.6" fill="#838383"/>
<rect x="1933.0" y="615.0" width="10.6" height="10.6" fill="#5b5b5b"/>
<rect x="1943.0" y="615.0" width="10.6" height="10.6" fill="#373737"/>
<rect x="1953.0" y="615.0" width="10.6" height="10.6" fill="#1b1b1b"/>
<rect x="1963.0" y="615.0" width="10.6" height="10.6" fill="#0b0b0b"/>
<rect x="1973.0" y="615.0" width="45.6" height="10.6" fill="#090909"/>
<rect x="300.0" y="625.0" width="55.6" height="10.6" fill="#4d4d4d"/>
<rect x="355.0" y="625.0" width="10.6" height="10.6" fill="#505050"/>
<rect x="365.0" y="625.0" width="10.6" height="10.6" fill="#545454"/>
<rect x="375.0" y="625.0" width="10.6" height="10.6" fill="#595959"/>
<rect x="385.0" y="625.0" width="10.6" height="10.6" fill="#5d5d5d"/>
<rect x="395.0" y="625.0" width="38.0" height="10.6" fill="#5f5f5f"/>
<rect x="432.4" y="625.0" width="28.0" height="10.6" fill="#626262"/>
<rect x="459.7" y="625.0" width="28.0" height="10.6" fill="#686868"/>
<rect x="487.1" y="625.0" width="28.0" height="10.6" fill="#6d6d6d"/>
<rect x="514.5" y="625.0" width="28.0" height="10.6" fill="#727272"/>
<rect x="541.9" y="625.0" width="28.0" height="10.6" fill="#7a7a7a"/>
<rect x="569.2" y="625.0" width="28.0" height="10.6" fill="#818181"/>
<rect x="596.6" y="625.0" width="28.0" height="10.6" fill="#858585"/>
<rect x="624.0" y="625.0" width="28.0" height="10.6" fill="#878787"/>
<rect x="651.3" y="625.0" width="28.0" height="10.6" fill="#868686"/>
<rect x="678.7" y="625.0" width="28.0" height="10.6" fill="#848484"/>
<rect x="706.1" y="625.0" width="28.0" height="10.6" fill="#818181"/>
<rect x="733.4" y="625.0" width="28.0" height="10.6" fill="#7e7e7e"/>
<rect x="760.8" y="625.0" width="28.0" height="10.6" fill="#777777"/>
<rect x="788.2" y="625.0" width="28.0" height="10.6" fill="#6f6f6f"/>
<rect x="815.6" y="625.0" width="28.0" height="10.6" fill="#646464"/>
<rect x="842.9" y="625.0" width="28.0" height="10.6" fill="#5b5b5b"/>
<rect x="870.3" y="625.0" width="28.0" height="10.6" fill="#555555"/>
<rect x="897.7" y="625.0" width="28.0" height="10.6" fill="#505050"/>
<rect x="925.0" y="625.0" width="28.0" height="10.6" fill="#444444"/>
<rect x="952.4" y="625.0" width="28.0" height="10.6" fill="#353535"/>
<rect x="979.8" y="625.0" width="28.0" height="10.6" fill="#282828"/>
<rect x="1007.1" y="625.0" width="28.0" height="10.6" fill="#1d1d1d"/>
<rect x="1034.5" y="625.0" width="28.0" height="10.6" fill="#151515"/>
<rect x="1061.9" y="625.0" width="28.0" height="10.6" fill="#101010"/>
<rect x="1089.3" y="625.0" width="28.0" height="10.6" fill="#0f0f0f"/>
<rect x="1116.6" y="625.0" width="28.0" height="10.6" fill="#111111"/>
<rect x="1144.0" y="625.0" width="28.0" height="10.6" fill="#151515"/>
<rect x="1171.4" y="625.0" width="28.0" height="10.6" fill="#191919"/>
<rect x="1198.7" y="625.0" width="28.0" height="10.6" fill="#1e1e1e"/>
<rect x="1226.1" y="625.0" width="28.0" height="10.6" fill="#232323"/>
<rect x="1253.5" y="625.0" width="28.0" height="10.6" fill="#262626"/>
<rect x="1280.9" y="625.0" width="28.0" height="10.6" fill="#292929"/>
<rect x="1308.2" y="625.0" width="28.0" height="10.6" fill="#2d2d2d"/>
<rect x="1335.6" y="625.0" width="28.0" height="10.6" fill="#303030"/>
<rect x="1363.0" y="625.0" width="28.0" height="10.6" fill="#343434"/>
<rect x="1390.3" y="625.0" width="28.0" height="10.6" fill="#393939"/>
<rect x="1417.7" y="625.0" width="28.0" height="10.6" fill="#3f3f3f"/>
<rect x="1445.1" y="625.0" width="28.0" height="10.6" fill="#474747"/>
<rect x="1472.4" y="625.0" width="28.0" height="10.6" fill="#515151"/>
<rect x="1499.8" y="625.0" width="28.0" height="10.6" fill="#5c5c5c"/>
<rect x="1527.2" y="625.0" width="28.0" height="10.6" fill="#686868"/>
<rect x="1554.6" y="625.0" width="28.0" height="10.6" fill="#737373"/>
<rect x="1581.9" y="625.0" width="28.0" height="10.6" fill="#7e7e7e"/>
<rect x="1609.3" y="625.0" width="28.0" height="10.6" fill="#888888"/>
<rect x="1636.7" y="625.0" width="28.0" height="10.6" fill="#939393"/>
<rect x="1664.0" y="625.0" width="28.0" height="10.6" fill="#9d9d9d"/>
<rect x="1691.4" y="625.0" width="28.0" height="10.6" fill="#a8a8a8"/>
<rect x="1718.8" y="625.0" width="28.0" height="10.6" fill="#b3b3b3"/>
<rect x="1746.1" y="625.0" width="28.0" height="10.6" fill="#c3c3c3"/>
<rect x="1773.5" y="625.0" width="28.0" height="10.6" fill="#d2d2d2"/>
<rect x="1800.9" y="625.0" width="28.0" height="10.6" fill="#dfdfdf"/>
<rect x="1828.3" y="625.0" width="28.0" height="10.6" fill="#e9e9e9"/>
<rect x="1855.6" y="625.0" width="28.0" height="10.6" fill="#efefef"/>
<rect x="1883.0" y="625.0" width="10.6" height="10.6" fill="#f2f2f2"/>
<rect x="1893.0" y="625.0" width="10.6" height="10.6" fill="#e7e7e7"/>
<rect x="1903.0" y="625.0" width="10.6" height="10.6" fill="#cecece"/>
<rect x="1913.0" y="625.0" width="10.6" height="10.6" fill="#acacac"/>
<rect x="1923.0" y="625.0" width="10.6" height="10.6" fill="#848484"/>
<rect x="1933.0" y="625.0" width="10.6" height="10.6" fill="#5c5c5c"/>
<rect x="1943.0" y="625.0" width="10.6" height="10.6" fill="#383838"/>
<rect x="1953.0" y="625.0" width="10.6" height="10.6" fill="#1c1c1c"/>
<rect x="1963.0" y="625.0" width="10.6" height="10.6" fill="#0c0c0c"/>
<rect x="1973.0" y="625.0" width="45.6" height="10.6" fill="#0a0a0a"/>
<rect x="300.0" y="635.0" width="45.6" height="10.6" fill="#575757"/>
<rect x="345.0" y="635.0" width="10.6" height="10.6" fill="#585858"/>
<rect x="355.0" y="635.0" width="10.6" height="10.6" fill="#5b5b5b"/>
<rect x="365.0" y="635.0" width="10.6" height="10.6" fill="#606060"/>
<rect x="375.0" y="635.0" width="10.6" height="10.6" fill="#666666"/>
<rect x="385.0" y="635.0" width="10.6" height="10.6" fill="#6b6b6b"/>
<rect x="395.0" y="635.0" width="38.0" height="10.6" fill="#6e6e6e"/>
<rect x="432.4" y="635.0" width="28.0" height="10.6" fill="#727272"/>
<rect x="459.7" y="635.0" width="28.0" height="10.6" fill="#797979"/>
<rect x="487.1" y="635.0" width="28.0" height="10.6" fill="#7f7f7f"/>
<rect x="514.5" y="635.0" width="28.0" height="10.6" fill="#868686"/>
<rect x="541.9" y="635.0" width="28.0" height="10.6" fill="#8e8e8e"/>
<rect x="569.2" y="635.0" width="28.0" height="10.6" fill="#969696"/>
<rect x="596.6" y="635.0" width="28.0" height="10.6" fill="#9a9a9a"/>
<rect x="624.0" y="635.0" width="28.0" height="10.6" fill="#999999"/>
<rect x="651.3" y="635.0" width="28.0" height="10.6" fill="#979797"/>
<rect x="678.7" y="635.0" width="28.0" height="10.6" fill="#939393"/>
<rect x="706.1" y="635.0" width="28.0" height="10.6" fill="#8f8f8f"/>
<rect x="733.4" y="635.0" width="28.0" height="10.6" fill="#8a8a8a"/>
<rect x="760.8" y="635.0" width="28.0" height="10.6" fill="#828282"/>
<rect x="788.2" y="635.0" width="28.0" height="10.6" fill="#777777"/>
<rect x="815.6" y="635.0" width="28.0" height="10.6" fill="#6b6b6b"/>
<rect x="842.9" y="635.0" width="28.0" height="10.6" fill="#5f5f5f"/>
<rect x="870.3" y="635.0" width="28.0" height="10.6" fill="#585858"/>
<rect x="897.7" y="635.0" width="28.0" height="10.6" fill="#515151"/>
<rect x="925.0" y="635.0" width="28.0" height="10.6" fill="#444444"/>
<rect x="952.4" y="635.0" width="28.0" height="10.6" fill="#343434"/>
<rect x="979.8" y="635.0" width="28.0" height="10.6" fill="#272727"/>
<rect x="1007.1" y="635.0" width="28.0" height="10.6" fill="#1c1c1c"/>
<rect x="1034.5" y="635.0" width="28.0" height="10.6" fill="#141414"/>
<rect x="1061.9" y="635.0" width="28.0" height="10.6" fill="#0f0f0f"/>
<rect x="1089.3" y="635.0" width="28.0" height="10.6" fill="#0e0e0e"/>
<rect x="1116.6" y="635.0" width="28.0" height="10.6" fill="#111111"/>
<rect x="1144.0" y="635.0" width="28.0" height="10.6" fill="#151515"/>
<rect x="1171.4" y="635.0" width="28.0" height="10.6" fill="#191919"/>
<rect x="1198.7" y="635.0" width="28.0" height="10.6" fill="#1d1d1d"/>
<rect x="1226.1" y="635.0" width="28.0" height="10.6" fill="#212121"/>
<rect x="1253.5" y="635.0" width="28.0" height="10.6" fill="#252525"/>
<rect x="1280.9" y="635.0" width="28.0" height="10.6" fill="#282828"/>
<rect x="1308.2" y="635.0" width="28.0" height="10.6" fill="#2b2b2b"/>
<rect x="1335.6" y="635.0" width="28.0" height="10.6" fill="#2e2e2e"/>
<rect x="1363.0" y="635.0" width="28.0" height="10.6" fill="#323232"/>
<rect x="1390.3" y="635.0" width="28.0" height="10.6" fill="#363636"/>
<rect x="1417.7" y="635.0" width="28.0" height="10.6" fill="#3e3e3e"/>
<rect x="1445.1" y="635.0" width="28.0" height="10.6" fill="#484848"/>
<rect x="1472.4" y="635.0" width="28.0" height="10.6" fill="#535353"/>
<rect x="1499.8" y="635.0" width="28.0" height="10.6" fill="#5e5e5e"/>
<rect x="1527.2" y="635.0" width="28.0" height="10.6" fill="#6a6a6a"/>
<rect x="1554.6" y="635.0" width="28.0" height="10.6" fill="#757575"/>
<rect x="1581.9" y="635.0" width="28.0" height="10.6" fill="#7f7f7f"/>
<rect x="1609.3" y="635.0" width="28.0" height="10.6" fill="#898989"/>
<rect x="1636.7" y="635.0" width="28.0" height="10.6" fill="#949494"/>
<rect x="1664.0" y="635.0" width="28.0" height="10.6" fill="#9e9e9e"/>
<rect x="1691.4" y="635.0" width="28.0" height="10.6" fill="#a8a8a8"/>
<rect x="1718.8" y="635.0" width="28.0" height="10.6" fill="#b4b4b4"/>
<rect x="1746.1" y="635.0" width="28.0" height="10.6" fill="#c3c3c3"/>
<rect x="1773.5" y="635.0" width="28.0" height="10.6" fill="#d2d2d2"/>
<rect x="1800.9" y="635.0" width="28.0" height="10.6" fill="#dedede"/>
<rect x="1828.3" y="635.0" width="28.0" height="10.6" fill="#e9e9e9"/>
<rect x="1855.6" y="635.0" width="28.0" height="10.6" fill="#f0f0f0"/>
<rect x="1883.0" y="635.0" width="10.6" height="10.6" fill="#f2f2f2"/>
<rect x="1893.0" y="635.0" width="10.6" height="10.6" fill="#e8e8e8"/>
<rect x="1903.0" y="635.0" width="10.6" height="10.6" fill="#cfcfcf"/>
<rect x="1913.0" y="635.0" width="10.6" height="10.6" fill="#acacac"/>
<rect x="1923.0" y="635.0" width="10.6" height="10.6" fill="#858585"/>
<rect x="1933.0" y="635.0" width="10.6" height="10.6" fill="#5d5d5d"/>
<rect x="1943.0" y="635.0" width="10.6" height="10.6" fill="#393939"/>
<rect x="1953.0" y="635.0" width="10.6" height="10.6" fill="#1d1d1d"/>
<rect x="1963.0" y="635.0" width="10.6" height="10.6" fill="#0d0d0d"/>
<rect x="1973.0" y="635.0" width="45.6" height="10.6" fill="#0b0b0b"/>
<rect x="300.0" y="645.0" width="55.6" height="10.6" fill="#626262"/>
<rect x="355.0" y="645.0" width="10.6" height="10.6" fill="#656565"/>
<rect x="365.0" y="645.0" width="10.6" height="10.6" fill="#6a6a6a"/>
<rect x="375.0" y="645.0" width="10.6" height="10.6" fill="#6f6f6f"/>
<rect x="385.0" y="645.0" width="10.6" height="10.6" fill="#737373"/>
<rect x="395.0" y="645.0" width="10.6" height="10.6" fill="#767676"/>
<rect x="405.0" y="645.0" width="28.0" height="10.6" fill="#787878"/>
<rect x="432.4" y="645.0" width="28.0" height="10.6" fill="#7d7d7d"/>
<rect x="459.7" y="645.0" width="28.0" height="10.6" fill="#848484"/>
<rect x="487.1" y="645.0" width="28.0" height="10.6" fill="#8c8c8c"/>
<rect x="514.5" y="645.0" width="28.0" height="10.6" fill="#939393"/>
<rect x="541.9" y="645.0" width="28.0" height="10.6" fill="#9d9d9d"/>
<rect x="569.2" y="645.0" width="28.0" height="10.6" fill="#a5a5a5"/>
<rect x="596.6" y="645.0" width="28.0" height="10.6" fill="#a9a9a9"/>
<rect x="624.0" y="645.0" width="28.0" height="10.6" fill="#a7a7a7"/>
<rect x="651.3" y="645.0" width="28.0" height="10.6" fill="#a3a3a3"/>
<rect x="678.7" y="645.0" width="28.0" height="10.6" fill="#9e9e9e"/>
<rect x="706.1" y="645.0" width="28.0" height="10.6" fill="#999999"/>
<rect x="733.4" y="645.0" width="28.0" height="10.6" fill="#939393"/>
<rect x="760.8" y="645.0" width="28.0" height="10.6" fill="#8b8b8b"/>
<rect x="788.2" y="645.0" width="28.0" height="10.6" fill="#7e7e7e"/>
<rect x="815.6" y="645.0" width="28.0" height="10.6" fill="#707070"/>
<rect x="842.9" y="645.0" width="28.0" height="10.6" fill="#626262"/>
<rect x="870.3" y="645.0" width="28.0" height="10.6" fill="#575757"/>
<rect x="897.7" y="645.0" width="28.0" height="10.6" fill="#4e4e4e"/>
<rect x="925.0" y="645.0" width="28.0" height="10.6" fill="#404040"/>
<rect x="952.4" y="645.0" width="28.0" height="10.6" fill="#303030"/>
<rect x="979.8" y="645.0" width="28.0" height="10.6" fill="#242424"/>
<rect x="1007.1" y="645.0" width="28.0" height="10.6" fill="#1a1a1a"/>
<rect x="1034.5" y="645.0" width="28.0" height="10.6" fill="#111111"/>
<rect x="1061.9" y="645.0" width="55.3" height="10.6" fill="#0c0c0c"/>
<rect x="1116.6" y="645.0" width="28.0" height="10.6" fill="#0f0f0f"/>
<rect x="1144.0" y="645.0" width="28.0" height="10.6" fill="#121212"/>
<rect x="1171.4" y="645.0" width="28.0" height="10.6" fill="#161616"/>
<rect x="1198.7" y="645.0" width="28.0" height="10.6" fill="#1a1a1a"/>
<rect x="1226.1" y="645.0" width="28.0" height="10.6" fill="#1e1e1e"/>
<rect x="1253.5" y="645.0" width="28.0" height="10.6" fill="#212121"/>
<rect x="1280.9" y="645.0" width="28.0" height="10.6" fill="#242424"/>
<rect x="1308.2" y="645.0" width="28.0" height="10.6" fill="#272727"/>
<rect x="1335.6" y="645.0" width="28.0" height="10.6" fill="#2a2a2a"/>
<rect x="1363.0" y="645.0" width="28.0" height="10.6" fill="#2d2d2d"/>
<rect x="1390.3" y="645.0" width="28.0" height="10.6" fill="#323232"/>
<rect x="1417.7" y="645.0" width="28.0" height="10.6" fill="#3c3c3c"/>
<rect x="1445.1" y="645.0" width="28.0" height="10.6" fill="#484848"/>
<rect x="1472.4" y="645.0" width="28.0" height="10.6" fill="#545454"/>
<rect x="1499.8" y="645.0" width="28.0" height="10.6" fill="#5f5f5f"/>
<rect x="1527.2" y="645.0" width="28.0" height="10.6" fill="#6a6a6a"/>
<rect x="1554.6" y="645.0" width="28.0" height="10.6" fill="#757575"/>
<rect x="1581.9" y="645.0" width="28.0" height="10.6" fill="#7f7f7f"/>
<rect x="1609.3" y="645.0" width="28.0" height="10.6" fill="#8a8a8a"/>
<rect x="1636.7" y="645.0" width="28.0" height="10.6" fill="#949494"/>
<rect x="1664.0" y="645.0" width="28.0" height="10.6" fill="#9e9e9e"/>
<rect x="1691.4" y="645.0" width="28.0" height="10.6" fill="#a8a8a8"/>
<rect x="1718.8" y="645.0" width="28.0" height="10.6" fill="#b5b5b5"/>
<rect x="1746.1" y="645.0" width="28.0" height="10.6" fill="#c4c4c4"/>
<rect x="1773.5" y="645.0" width="28.0" height="10.6" fill="#d2d2d2"/>
<rect x="1800.9" y="645.0" width="28.0" height="10.6" fill="#dfdfdf"/>
<rect x="1828.3" y="645.0" width="28.0" height="10.6" fill="#e9e9e9"/>
<rect x="1855.6" y="645.0" width="28.0" height="10.6" fill="#f0f0f0"/>
<rect x="1883.0" y="645.0" width="10.6" height="10.6" fill="#f3f3f3"/>
<rect x="1893.0" y="645.0" width="10.6" height="10.6" fill="#e8e8e8"/>
<rect x="1903.0" y="645.0" width="10.6" height="10.6" fill="#d0d0d0"/>
<rect x="1913.0" y="645.0" width="10.6" height="10.6" fill="#adadad"/>
<rect x="1923.0" y="645.0" width="10.6" height="10.6" fill="#868686"/>
<rect x="1933.0" y="645.0" width="10.6" height="10.6" fill="#5e5e5e"/>
<rect x="1943.0" y="645.0" width="10.6" height="10.6" fill="#3a3a3a"/>
<rect x="1953.0" y="645.0" width="10.6" height="10.6" fill="#1e1e1e"/>
<rect x="1963.0" y="645.0" width="10.6" height="10.6" fill="#0e0e0e"/>
<rect x="1973.0" y="645.0" width="45.6" height="10.6" fill="#0c0c0c"/>
<rect x="300.0" y="655.0" width="45.6" height="28.0" fill="#737373"/>
<rect x="345.0" y="655.0" width="20.6" height="28.0" fill="#747474"/>
<rect x="365.0" y="655.0" width="10.6" height="28.0" fill="#757575"/>
<rect x="375.0" y="655.0" width="10.6" height="28.0" fill="#767676"/>
<rect x="385.0" y="655.0" width="10.6" height="28.0" fill="#787878"/>
<rect x="395.0" y="655.0" width="10.6" height="28.0" fill="#797979"/>
<rect x="405.0" y="655.0" width="28.0" height="28.0" fill="#7d7d7d"/>
<rect x="432.4" y="655.0" width="28.0" height="28.0" fill="#838383"/>
<rect x="459.7" y="655.0" width="28.0" height="28.0" fill="#8c8c8c"/>
<rect x="487.1" y="655.0" width="28.0" height="28.0" fill="#949494"/>
<rect x="514.5" y="655.0" width="28.0" height="28.0" fill="#9d9d9d"/>
<rect x="541.9" y="655.0" width="28.0" height="28.0" fill="#a7a7a7"/>
<rect x="569.2" y="655.0" width="28.0" height="28.0" fill="#b0b0b0"/>
<rect x="596.6" y="655.0" width="28.0" height="28.0" fill="#b3b3b3"/>
<rect x="624.0" y="655.0" width="28.0" height="28.0" fill="#b0b0b0"/>
<rect x="651.3" y="655.0" width="28.0" height="28.0" fill="#acacac"/>
<rect x="678.7" y="655.0" width="28.0" height="28.0" fill="#a6a6a6"/>
<rect x="706.1" y="655.0" width="28.0" height="28.0" fill="#a2a2a2"/>
<rect x="733.4" y="655.0" width="28.0" height="28.0" fill="#9b9b9b"/>
<rect x="760.8" y="655.0" width="28.0" height="28.0" fill="#919191"/>
<rect x="788.2" y="655.0" width="28.0" height="28.0" fill="#838383"/>
<rect x="815.6" y="655.0" width="28.0" height="28.0" fill="#717171"/>
<rect x="842.9" y="655.0" width="28.0" height="28.0" fill="#606060"/>
<rect x="870.3" y="655.0" width="28.0" height="28.0" fill="#515151"/>
<rect x="897.7" y="655.0" width="28.0" height="28.0" fill="#444444"/>
<rect x="925.0" y="655.0" width="28.0" height="28.0" fill="#363636"/>
<rect x="952.4" y="655.0" width="28.0" height="28.0" fill="#282828"/>
<rect x="979.8" y="655.0" width="28.0" height="28.0" fill="#1c1c1c"/>
<rect x="1007.1" y="655.0" width="28.0" height="28.0" fill="#131313"/>
<rect x="1034.5" y="655.0" width="28.0" height="28.0" fill="#0c0c0c"/>
<rect x="1061.9" y="655.0" width="55.3" height="28.0" fill="#080808"/>
<rect x="1116.6" y="655.0" width="28.0" height="28.0" fill="#0a0a0a"/>
<rect x="1144.0" y="655.0" width="28.0" height="28.0" fill="#0d0d0d"/>
<rect x="1171.4" y="655.0" width="28.0" height="28.0" fill="#101010"/>
<rect x="1198.7" y="655.0" width="28.0" height="28.0" fill="#131313"/>
<rect x="1226.1" y="655.0" width="28.0" height="28.0" fill="#161616"/>
<rect x="1253.5" y="655.0" width="28.0" height="28.0" fill="#1a1a1a"/>
<rect x="1280.9" y="655.0" width="28.0" height="28.0" fill="#1d1d1d"/>
<rect x="1308.2" y="655.0" width="28.0" height="28.0" fill="#212121"/>
<rect x="1335.6" y="655.0" width="28.0" height="28.0" fill="#242424"/>
<rect x="1363.0" y="655.0" width="28.0" height="28.0" fill="#262626"/>
<rect x="1390.3" y="655.0" width="28.0" height="28.0" fill="#2c2c2c"/>
<rect x="1417.7" y="655.0" width="28.0" height="28.0" fill="#373737"/>
<rect x="1445.1" y="655.0" width="28.0" height="28.0" fill="#464646"/>
<rect x="1472.4" y="655.0" width="28.0" height="28.0" fill="#535353"/>
<rect x="1499.8" y="655.0" width="28.0" height="28.0" fill="#5f5f5f"/>
<rect x="1527.2" y="655.0" width="28.0" height="28.0" fill="#6a6a6a"/>
<rect x="1554.6" y="655.0" width="28.0" height="28.0" fill="#757575"/>
<rect x="1581.9" y="655.0" width="28.0" height="28.0" fill="#7f7f7f"/>
<rect x="1609.3" y="655.0" width="28.0" height="28.0" fill="#8a8a8a"/>
<rect x="1636.7" y="655.0" width="28.0" height="28.0" fill="#949494"/>
<rect x="1664.0" y="655.0" width="28.0" height="28.0" fill="#9e9e9e"/>
<rect x="1691.4" y="655.0" width="28.0" height="28.0" fill="#a9a9a9"/>
<rect x="1718.8" y="655.0" width="28.0" height="28.0" fill="#b6b6b6"/>
<rect x="1746.1" y="655.0" width="28.0" height="28.0" fill="#c6c6c6"/>
<rect x="1773.5" y="655.0" width="28.0" height="28.0" fill="#d4d4d4"/>
<rect x="1800.9" y="655.0" width="28.0" height="28.0" fill="#e0e0e0"/>
<rect x="1828.3" y="655.0" width="28.0" height="28.0" fill="#eaeaea"/>
<rect x="1855.6" y="655.0" width="28.0" height="28.0" fill="#f1f1f1"/>
<rect x="1883.0" y="655.0" width="10.6" height="28.0" fill="#f3f3f3"/>
<rect x="1893.0" y="655.0" width="10.6" height="28.0" fill="#e9e9e9"/>
<rect x="1903.0" y="655.0" width="10.6" height="28.0" fill="#d1d1d1"/>
<rect x="1913.0" y="655.0" width="10.6" height="28.0" fill="#aeaeae"/>
<rect x="1923.0" y="655.0" width="10.6" height="28.0" fill="#878787"/>
<rect x="1933.0" y="655.0" width="10.6" height="28.0" fill="#606060"/>
<rect x="1943.0" y="655.0" width="10.6" height="28.0" fill="#3c3c3c"/>
<rect x="1953.0" y="655.0" width="10.6" height="28.0" fill="#202020"/>
<rect x="1963.0" y="655.0" width="10.6" height="28.0" fill="#101010"/>
<rect x="1973.0" y="655.0" width="45.6" height="28.0" fill="#0e0e0e"/>
<rect x="300.0" y="682.4" width="45.6" height="28.0" fill="#707070"/>
<rect x="345.0" y="682.4" width="20.6" height="28.0" fill="#717171"/>
<rect x="365.0" y="682.4" width="10.6" height="28.0" fill="#737373"/>
<rect x="375.0" y="682.4" width="10.6" height="28.0" fill="#757575"/>
<rect x="385.0" y="682.4" width="10.6" height="28.0" fill="#777777"/>
<rect x="395.0" y="682.4" width="10.6" height="28.0" fill="#7a7a7a"/>
<rect x="405.0" y="682.4" width="28.0" height="28.0" fill="#7e7e7e"/>
<rect x="432.4" y="682.4" width="28.0" height="28.0" fill="#878787"/>
<rect x="459.7" y="682.4" width="28.0" height="28.0" fill="#929292"/>
<rect x="487.1" y="682.4" width="28.0" height="28.0" fill="#9b9b9b"/>
<rect x="514.5" y="682.4" width="28.0" height="28.0" fill="#a3a3a3"/>
<rect x="541.9" y="682.4" width="28.0" height="28.0" fill="#acacac"/>
<rect x="569.2" y="682.4" width="28.0" height="28.0" fill="#b4b4b4"/>
<rect x="596.6" y="682.4" width="28.0" height="28.0" fill="#b5b5b5"/>
<rect x="624.0" y="682.4" width="28.0" height="28.0" fill="#b1b1b1"/>
<rect x="651.3" y="682.4" width="28.0" height="28.0" fill="#acacac"/>
<rect x="678.7" y="682.4" width="28.0" height="28.0" fill="#a8a8a8"/>
<rect x="706.1" y="682.4" width="28.0" height="28.0" fill="#a4a4a4"/>
<rect x="733.4" y="682.4" width="28.0" height="28.0" fill="#9d9d9d"/>
<rect x="760.8" y="682.4" width="28.0" height="28.0" fill="#909090"/>
<rect x="788.2" y="682.4" width="28.0" height="28.0" fill="#7e7e7e"/>
<rect x="815.6" y="682.4" width="28.0" height="28.0" fill="#6a6a6a"/>
<rect x="842.9" y="682.4" width="28.0" height="28.0" fill="#565656"/>
<rect x="870.3" y="682.4" width="28.0" height="28.0" fill="#474747"/>
<rect x="897.7" y="682.4" width="28.0" height="28.0" fill="#3a3a3a"/>
<rect x="925.0" y="682.4" width="28.0" height="28.0" fill="#2d2d2d"/>
<rect x="952.4" y="682.4" width="28.0" height="28.0" fill="#202020"/>
<rect x="979.8" y="682.4" width="28.0" height="28.0" fill="#161616"/>
<rect x="1007.1" y="682.4" width="28.0" height="28.0" fill="#0e0e0e"/>
<rect x="1034.5" y="682.4" width="28.0" height="28.0" fill="#080808"/>
<rect x="1061.9" y="682.4" width="55.3" height="28.0" fill="#060606"/>
<rect x="1116.6" y="682.4" width="28.0" height="28.0" fill="#080808"/>
<rect x="1144.0" y="682.4" width="28.0" height="28.0" fill="#0a0a0a"/>
<rect x="1171.4" y="682.4" width="28.0" height="28.0" fill="#0d0d0d"/>
<rect x="1198.7" y="682.4" width="28.0" height="28.0" fill="#101010"/>
<rect x="1226.1" y="682.4" width="28.0" height="28.0" fill="#141414"/>
<rect x="1253.5" y="682.4" width="28.0" height="28.0" fill="#191919"/>
<rect x="1280.9" y="682.4" width="28.0" height="28.0" fill="#1f1f1f"/>
<rect x="1308.2" y="682.4" width="28.0" height="28.0" fill="#242424"/>
<rect x="1335.6" y="682.4" width="28.0" height="28.0" fill="#292929"/>
<rect x="1363.0" y="682.4" width="28.0" height="28.0" fill="#2c2c2c"/>
<rect x="1390.3" y="682.4" width="28.0" height="28.0" fill="#313131"/>
<rect x="1417.7" y="682.4" width="28.0" height="28.0" fill="#383838"/>
<rect x="1445.1" y="682.4" width="28.0" height="28.0" fill="#424242"/>
<rect x="1472.4" y="682.4" width="28.0" height="28.0" fill="#515151"/>
<rect x="1499.8" y="682.4" width="28.0" height="28.0" fill="#616161"/>
<rect x="1527.2" y="682.4" width="28.0" height="28.0" fill="#6e6e6e"/>
<rect x="1554.6" y="682.4" width="28.0" height="28.0" fill="#797979"/>
<rect x="1581.9" y="682.4" width="28.0" height="28.0" fill="#818181"/>
<rect x="1609.3" y="682.4" width="28.0" height="28.0" fill="#8a8a8a"/>
<rect x="1636.7" y="682.4" width="28.0" height="28.0" fill="#959595"/>
<rect x="1664.0" y="682.4" width="28.0" height="28.0" fill="#a1a1a1"/>
<rect x="1691.4" y="682.4" width="28.0" height="28.0" fill="#acacac"/>
<rect x="1718.8" y="682.4" width="28.0" height="28.0" fill="#b9b9b9"/>
<rect x="1746.1" y="682.4" width="28.0" height="28.0" fill="#c8c8c8"/>
<rect x="1773.5" y="682.4" width="28.0" height="28.0" fill="#d6d6d6"/>
<rect x="1800.9" y="682.4" width="28.0" height="28.0" fill="#e2e2e2"/>
<rect x="1828.3" y="682.4" width="28.0" height="28.0" fill="#ebebeb"/>
<rect x="1855.6" y="682.4" width="28.0" height="28.0" fill="#f1f1f1"/>
<rect x="1883.0" y="682.4" width="10.6" height="28.0" fill="#f3f3f3"/>
<rect x="1893.0" y="682.4" width="10.6" height="28.0" fill="#eaeaea"/>
<rect x="1903.0" y="682.4" width="10.6" height="28.0" fill="#d2d2d2"/>
<rect x="1913.0" y="682.4" width="10.6" height="28.0" fill="#b0b0b0"/>
<rect x="1923.0" y="682.4" width="10.6" height="28.0" fill="#898989"/>
<rect x="1933.0" y="682.4" width="10.6" height="28.0" fill="#626262"/>
<rect x="1943.0" y="682.4" width="10.6" height="28.0" fill="#3e3e3e"/>
<rect x="1953.0" y="682.4" width="10.6" height="28.0" fill="#222222"/>
<rect x="1963.0" y="682.4" width="10.6" height="28.0" fill="#131313"/>
<rect x="1973.0" y="682.4" width="45.6" height="28.0" fill="#101010"/>
<rect x="300.0" y="709.9" width="55.6" height="28.0" fill="#6d6d6d"/>
<rect x="355.0" y="709.9" width="10.6" height="28.0" fill="#6e6e6e"/>
<rect x="365.0" y="709.9" width="10.6" height="28.0" fill="#717171"/>
<rect x="375.0" y="709.9" width="10.6" height="28.0" fill="#747474"/>
<rect x="385.0" y="709.9" width="10.6" height="28.0" fill="#777777"/>
<rect x="395.0" y="709.9" width="10.6" height="28.0" fill="#797979"/>
<rect x="405.0" y="709.9" width="28.0" height="28.0" fill="#7d7d7d"/>
<rect x="432.4" y="709.9" width="28.0" height="28.0" fill="#888888"/>
<rect x="459.7" y="709.9" width="28.0" height="28.0" fill="#969696"/>
<rect x="487.1" y="709.9" width="28.0" height="28.0" fill="#a0a0a0"/>
<rect x="514.5" y="709.9" width="28.0" height="28.0" fill="#a7a7a7"/>
<rect x="541.9" y="709.9" width="28.0" height="28.0" fill="#adadad"/>
<rect x="569.2" y="709.9" width="28.0" height="28.0" fill="#b2b2b2"/>
<rect x="596.6" y="709.9" width="28.0" height="28.0" fill="#b1b1b1"/>
<rect x="624.0" y="709.9" width="28.0" height="28.0" fill="#acacac"/>
<rect x="651.3" y="709.9" width="28.0" height="28.0" fill="#a8a8a8"/>
<rect x="678.7" y="709.9" width="28.0" height="28.0" fill="#a4a4a4"/>
<rect x="706.1" y="709.9" width="28.0" height="28.0" fill="#a0a0a0"/>
<rect x="733.4" y="709.9" width="28.0" height="28.0" fill="#999999"/>
<rect x="760.8" y="709.9" width="28.0" height="28.0" fill="#8a8a8a"/>
<rect x="788.2" y="709.9" width="28.0" height="28.0" fill="#757575"/>
<rect x="815.6" y="709.9" width="28.0" height="28.0" fill="#5e5e5e"/>
<rect x="842.9" y="709.9" width="28.0" height="28.0" fill="#4a4a4a"/>
<rect x="870.3" y="709.9" width="28.0" height="28.0" fill="#3c3c3c"/>
<rect x="897.7" y="709.9" width="28.0" height="28.0" fill="#313131"/>
<rect x="925.0" y="709.9" width="28.0" height="28.0" fill="#262626"/>
<rect x="952.4" y="709.9" width="28.0" height="28.0" fill="#1c1c1c"/>
<rect x="979.8" y="709.9" width="28.0" height="28.0" fill="#121212"/>
<rect x="1007.1" y="709.9" width="28.0" height="28.0" fill="#0b0b0b"/>
<rect x="1034.5" y="709.9" width="28.0" height="28.0" fill="#070707"/>
<rect x="1061.9" y="709.9" width="28.0" height="28.0" fill="#050505"/>
<rect x="1089.3" y="709.9" width="28.0" height="28.0" fill="#060606"/>
<rect x="1116.6" y="709.9" width="28.0" height="28.0" fill="#070707"/>
<rect x="1144.0" y="709.9" width="28.0" height="28.0" fill="#0a0a0a"/>
<rect x="1171.4" y="709.9" width="28.0" height="28.0" fill="#0d0d0d"/>
<rect x="1198.7" y="709.9" width="28.0" height="28.0" fill="#121212"/>
<rect x="1226.1" y="709.9" width="28.0" height="28.0" fill="#191919"/>
<rect x="1253.5" y="709.9" width="28.0" height="28.0" fill="#202020"/>
<rect x="1280.9" y="709.9" width="28.0" height="28.0" fill="#282828"/>
<rect x="1308.2" y="709.9" width="28.0" height="28.0" fill="#2f2f2f"/>
<rect x="1335.6" y="709.9" width="28.0" height="28.0" fill="#363636"/>
<rect x="1363.0" y="709.9" width="28.0" height="28.0" fill="#3d3d3d"/>
<rect x="1390.3" y="709.9" width="28.0" height="28.0" fill="#404040"/>
<rect x="1417.7" y="709.9" width="28.0" height="28.0" fill="#3f3f3f"/>
<rect x="1445.1" y="709.9" width="28.0" height="28.0" fill="#434343"/>
<rect x="1472.4" y="709.9" width="28.0" height="28.0" fill="#525252"/>
<rect x="1499.8" y="709.9" width="28.0" height="28.0" fill="#656565"/>
<rect x="1527.2" y="709.9" width="28.0" height="28.0" fill="#737373"/>
<rect x="1554.6" y="709.9" width="28.0" height="28.0" fill="#7e7e7e"/>
<rect x="1581.9" y="709.9" width="28.0" height="28.0" fill="#858585"/>
<rect x="1609.3" y="709.9" width="28.0" height="28.0" fill="#8d8d8d"/>
<rect x="1636.7" y="709.9" width="28.0" height="28.0" fill="#999999"/>
<rect x="1664.0" y="709.9" width="28.0" height="28.0" fill="#a4a4a4"/>
<rect x="1691.4" y="709.9" width="28.0" height="28.0" fill="#afafaf"/>
<rect x="1718.8" y="709.9" width="28.0" height="28.0" fill="#bbbbbb"/>
<rect x="1746.1" y="709.9" width="28.0" height="28.0" fill="#cacaca"/>
<rect x="1773.5" y="709.9" width="28.0" height="28.0" fill="#d8d8d8"/>
<rect x="1800.9" y="709.9" width="28.0" height="28.0" fill="#e3e3e3"/>
<rect x="1828.3" y="709.9" width="28.0" height="28.0" fill="#ebebeb"/>
<rect x="1855.6" y="709.9" width="28.0" height="28.0" fill="#f1f1f1"/>
<rect x="1883.0" y="709.9" width="10.6" height="28.0" fill="#f3f3f3"/>
<rect x="1893.0" y="709.9" width="10.6" height="28.0" fill="#eaeaea"/>
<rect x="1903.0" y="709.9" width="10.6" height="28.0" fill="#d2d2d2"/>
<rect x="1913.0" y="709.9" width="10.6" height="28.0" fill="#b1b1b1"/>
<rect x="1923.0" y="709.9" width="10.6" height="28.0" fill="#8b8b8b"/>
<rect x="1933.0" y="709.9" width="10.6" height="28.0" fill="#646464"/>
<rect x="1943.0" y="709.9" width="10.6" height="28.0" fill="#414141"/>
<rect x="1953.0" y="709.9" width="10.6" height="28.0" fill="#252525"/>
<rect x="1963.0" y="709.9" width="10.6" height="28.0" fill="#151515"/>
<rect x="1973.0" y="709.9" width="45.6" height="28.0" fill="#131313"/>
<rect x="300.0" y="737.3" width="45.6" height="28.0" fill="#646464"/>
<rect x="345.0" y="737.3" width="10.6" height="28.0" fill="#656565"/>
<rect x="355.0" y="737.3" width="10.6" height="28.0" fill="#686868"/>
<rect x="365.0" y="737.3" width="10.6" height="28.0" fill="#6d6d6d"/>
<rect x="375.0" y="737.3" width="10.6" height="28.0" fill="#737373"/>
<rect x="385.0" y="737.3" width="10.6" height="28.0" fill="#787878"/>
<rect x="395.0" y="737.3" width="10.6" height="28.0" fill="#7b7b7b"/>
<rect x="405.0" y="737.3" width="28.0" height="28.0" fill="#7f7f7f"/>
<rect x="432.4" y="737.3" width="28.0" height="28.0" fill="#8b8b8b"/>
<rect x="459.7" y="737.3" width="28.0" height="28.0" fill="#9c9c9c"/>
<rect x="487.1" y="737.3" width="28.0" height="28.0" fill="#a9a9a9"/>
<rect x="514.5" y="737.3" width="28.0" height="28.0" fill="#afafaf"/>
<rect x="541.9" y="737.3" width="28.0" height="28.0" fill="#b1b1b1"/>
<rect x="569.2" y="737.3" width="28.0" height="28.0" fill="#b0b0b0"/>
<rect x="596.6" y="737.3" width="28.0" height="28.0" fill="#adadad"/>
<rect x="624.0" y="737.3" width="28.0" height="28.0" fill="#a9a9a9"/>
<rect x="651.3" y="737.3" width="28.0" height="28.0" fill="#a6a6a6"/>
<rect x="678.7" y="737.3" width="28.0" height="28.0" fill="#a2a2a2"/>
<rect x="706.1" y="737.3" width="28.0" height="28.0" fill="#9d9d9d"/>
<rect x="733.4" y="737.3" width="28.0" height="28.0" fill="#959595"/>
<rect x="760.8" y="737.3" width="28.0" height="28.0" fill="#858585"/>
<rect x="788.2" y="737.3" width="28.0" height="28.0" fill="#6e6e6e"/>
<rect x="815.6" y="737.3" width="28.0" height="28.0" fill="#565656"/>
<rect x="842.9" y="737.3" width="28.0" height="28.0" fill="#404040"/>
<rect x="870.3" y="737.3" width="28.0" height="28.0" fill="#323232"/>
<rect x="897.7" y="737.3" width="28.0" height="28.0" fill="#282828"/>
<rect x="925.0" y="737.3" width="28.0" height="28.0" fill="#1f1f1f"/>
<rect x="952.4" y="737.3" width="28.0" height="28.0" fill="#161616"/>
<rect x="979.8" y="737.3" width="28.0" height="28.0" fill="#0e0e0e"/>
<rect x="1007.1" y="737.3" width="28.0" height="28.0" fill="#080808"/>
<rect x="1034.5" y="737.3" width="82.7" height="28.0" fill="#050505"/>
<rect x="1116.6" y="737.3" width="28.0" height="28.0" fill="#070707"/>
<rect x="1144.0" y="737.3" width="28.0" height="28.0" fill="#090909"/>
<rect x="1171.4" y="737.3" width="28.0" height="28.0" fill="#0e0e0e"/>
<rect x="1198.7" y="737.3" width="28.0" height="28.0" fill="#151515"/>
<rect x="1226.1" y="737.3" width="28.0" height="28.0" fill="#1e1e1e"/>
<rect x="1253.5" y="737.3" width="28.0" height="28.0" fill="#292929"/>
<rect x="1280.9" y="737.3" width="28.0" height="28.0" fill="#323232"/>
<rect x="1308.2" y="737.3" width="28.0" height="28.0" fill="#3a3a3a"/>
<rect x="1335.6" y="737.3" width="28.0" height="28.0" fill="#424242"/>
<rect x="1363.0" y="737.3" width="28.0" height="28.0" fill="#4e4e4e"/>
<rect x="1390.3" y="737.3" width="28.0" height="28.0" fill="#535353"/>
<rect x="1417.7" y="737.3" width="28.0" height="28.0" fill="#4d4d4d"/>
<rect x="1445.1" y="737.3" width="28.0" height="28.0" fill="#4b4b4b"/>
<rect x="1472.4" y="737.3" width="28.0" height="28.0" fill="#595959"/>
<rect x="1499.8" y="737.3" width="28.0" height="28.0" fill="#6b6b6b"/>
<rect x="1527.2" y="737.3" width="28.0" height="28.0" fill="#787878"/>
<rect x="1554.6" y="737.3" width="28.0" height="28.0" fill="#818181"/>
<rect x="1581.9" y="737.3" width="28.0" height="28.0" fill="#8a8a8a"/>
<rect x="1609.3" y="737.3" width="28.0" height="28.0" fill="#939393"/>
<rect x="1636.7" y="737.3" width="28.0" height="28.0" fill="#9d9d9d"/>
<rect x="1664.0" y="737.3" width="28.0" height="28.0" fill="#a7a7a7"/>
<rect x="1691.4" y="737.3" width="28.0" height="28.0" fill="#b1b1b1"/>
<rect x="1718.8" y="737.3" width="28.0" height="28.0" fill="#bdbdbd"/>
<rect x="1746.1" y="737.3" width="28.0" height="28.0" fill="#cbcbcb"/>
<rect x="1773.5" y="737.3" width="28.0" height="28.0" fill="#d9d9d9"/>
<rect x="1800.9" y="737.3" width="28.0" height="28.0" fill="#e4e4e4"/>
<rect x="1828.3" y="737.3" width="28.0" height="28.0" fill="#ececec"/>
<rect x="1855.6" y="737.3" width="28.0" height="28.0" fill="#f2f2f2"/>
<rect x="1883.0" y="737.3" width="10.6" height="28.0" fill="#f4f4f4"/>
<rect x="1893.0" y="737.3" width="10.6" height="28.0" fill="#ececec"/>
<rect x="1903.0" y="737.3" width="10.6" height="28.0" fill="#d6d6d6"/>
<rect x="1913.0" y="737.3" width="10.6" height="28.0" fill="#b6b6b6"/>
<rect x="1923.0" y="737.3" width="10.6" height="28.0" fill="#909090"/>
<rect x="1933.0" y="737.3" width="10.6" height="28.0" fill="#696969"/>
<rect x="1943.0" y="737.3" width="10.6" height="28.0" fill="#454545"/>
<rect x="1953.0" y="737.3" width="10.6" height="28.0" fill="#292929"/>
<rect x="1963.0" y="737.3" width="10.6" height="28.0" fill="#191919"/>
<rect x="1973.0" y="737.3" width="45.6" height="28.0" fill="#171717"/>
<rect x="300.0" y="764.8" width="45.6" height="28.0" fill="#5c5c5c"/>
<rect x="345.0" y="764.8" width="10.6" height="28.0" fill="#5d5d5d"/>
<rect x="355.0" y="764.8" width="10.6" height="28.0" fill="#626262"/>
<rect x="365.0" y="764.8" width="10.6" height="28.0" fill="#6a6a6a"/>
<rect x="375.0" y="764.8" width="10.6" height="28.0" fill="#737373"/>
<rect x="385.0" y="764.8" width="10.6" height="28.0" fill="#7a7a7a"/>
<rect x="395.0" y="764.8" width="10.6" height="28.0" fill="#7f7f7f"/>
<rect x="405.0" y="764.8" width="28.0" height="28.0" fill="#828282"/>
<rect x="432.4" y="764.8" width="28.0" height="28.0" fill="#909090"/>
<rect x="459.7" y="764.8" width="28.0" height="28.0" fill="#a3a3a3"/>
<rect x="487.1" y="764.8" width="28.0" height="28.0" fill="#b1b1b1"/>
<rect x="514.5" y="764.8" width="28.0" height="28.0" fill="#b6b6b6"/>
<rect x="541.9" y="764.8" width="28.0" height="28.0" fill="#b5b5b5"/>
<rect x="569.2" y="764.8" width="28.0" height="28.0" fill="#b0b0b0"/>
<rect x="596.6" y="764.8" width="28.0" height="28.0" fill="#acacac"/>
<rect x="624.0" y="764.8" width="28.0" height="28.0" fill="#a9a9a9"/>
<rect x="651.3" y="764.8" width="28.0" height="28.0" fill="#a6a6a6"/>
<rect x="678.7" y="764.8" width="28.0" height="28.0" fill="#a3a3a3"/>
<rect x="706.1" y="764.8" width="28.0" height="28.0" fill="#9c9c9c"/>
<rect x="733.4" y="764.8" width="28.0" height="28.0" fill="#919191"/>
<rect x="760.8" y="764.8" width="28.0" height="28.0" fill="#7e7e7e"/>
<rect x="788.2" y="764.8" width="28.0" height="28.0" fill="#666666"/>
<rect x="815.6" y="764.8" width="28.0" height="28.0" fill="#4e4e4e"/>
<rect x="842.9" y="764.8" width="28.0" height="28.0" fill="#393939"/>
<rect x="870.3" y="764.8" width="28.0" height="28.0" fill="#2a2a2a"/>
<rect x="897.7" y="764.8" width="28.0" height="28.0" fill="#202020"/>
<rect x="925.0" y="764.8" width="28.0" height="28.0" fill="#181818"/>
<rect x="952.4" y="764.8" width="28.0" height="28.0" fill="#111111"/>
<rect x="979.8" y="764.8" width="28.0" height="28.0" fill="#0b0b0b"/>
<rect x="1007.1" y="764.8" width="28.0" height="28.0" fill="#060606"/>
<rect x="1034.5" y="764.8" width="55.3" height="28.0" fill="#030303"/>
<rect x="1089.3" y="764.8" width="28.0" height="28.0" fill="#040404"/>
<rect x="1116.6" y="764.8" width="28.0" height="28.0" fill="#070707"/>
<rect x="1144.0" y="764.8" width="28.0" height="28.0" fill="#090909"/>
<rect x="1171.4" y="764.8" width="28.0" height="28.0" fill="#0f0f0f"/>
<rect x="1198.7" y="764.8" width="28.0" height="28.0" fill="#181818"/>
<rect x="1226.1" y="764.8" width="28.0" height="28.0" fill="#232323"/>
<rect x="1253.5" y="764.8" width="28.0" height="28.0" fill="#303030"/>
<rect x="1280.9" y="764.8" width="28.0" height="28.0" fill="#3b3b3b"/>
<rect x="1308.2" y="764.8" width="28.0" height="28.0" fill="#434343"/>
<rect x="1335.6" y="764.8" width="28.0" height="28.0" fill="#4c4c4c"/>
<rect x="1363.0" y="764.8" width="28.0" height="28.0" fill="#5b5b5b"/>
<rect x="1390.3" y="764.8" width="28.0" height="28.0" fill="#636363"/>
<rect x="1417.7" y="764.8" width="28.0" height="28.0" fill="#5d5d5d"/>
<rect x="1445.1" y="764.8" width="28.0" height="28.0" fill="#5a5a5a"/>
<rect x="1472.4" y="764.8" width="28.0" height="28.0" fill="#656565"/>
<rect x="1499.8" y="764.8" width="28.0" height="28.0" fill="#767676"/>
<rect x="1527.2" y="764.8" width="28.0" height="28.0" fill="#808080"/>
<rect x="1554.6" y="764.8" width="28.0" height="28.0" fill="#878787"/>
<rect x="1581.9" y="764.8" width="28.0" height="28.0" fill="#8f8f8f"/>
<rect x="1609.3" y="764.8" width="28.0" height="28.0" fill="#999999"/>
<rect x="1636.7" y="764.8" width="28.0" height="28.0" fill="#a1a1a1"/>
<rect x="1664.0" y="764.8" width="28.0" height="28.0" fill="#aaaaaa"/>
<rect x="1691.4" y="764.8" width="28.0" height="28.0" fill="#b4b4b4"/>
<rect x="1718.8" y="764.8" width="28.0" height="28.0" fill="#c0c0c0"/>
<rect x="1746.1" y="764.8" width="28.0" height="28.0" fill="#cecece"/>
<rect x="1773.5" y="764.8" width="28.0" height="28.0" fill="#dbdbdb"/>
<rect x="1800.9" y="764.8" width="28.0" height="28.0" fill="#e5e5e5"/>
<rect x="1828.3" y="764.8" width="28.0" height="28.0" fill="#ededed"/>
<rect x="1855.6" y="764.8" width="28.0" height="28.0" fill="#f3f3f3"/>
<rect x="1883.0" y="764.8" width="10.6" height="28.0" fill="#f5f5f5"/>
<rect x="1893.0" y="764.8" width="10.6" height="28.0" fill="#efefef"/>
<rect x="1903.0" y="764.8" width="10.6" height="28.0" fill="#dadada"/>
<rect x="1913.0" y="764.8" width="10.6" height="28.0" fill="#bababa"/>
<rect x="1923.0" y="764.8" width="10.6" height="28.0" fill="#949494"/>
<rect x="1933.0" y="764.8" width="10.6" height="28.0" fill="#6d6d6d"/>
<rect x="1943.0" y="764.8" width="10.6" height="28.0" fill="#494949"/>
<rect x="1953.0" y="764.8" width="10.6" height="28.0" fill="#2d2d2d"/>
<rect x="1963.0" y="764.8" width="10.6" height="28.0" fill="#1c1c1c"/>
<rect x="1973.0" y="764.8" width="45.6" height="28.0" fill="#1a1a1a"/>
<rect x="300.0" y="792.2" width="45.6" height="28.0" fill="#565656"/>
<rect x="345.0" y="792.2" width="10.6" height="28.0" fill="#575757"/>
<rect x="355.0" y="792.2" width="10.6" height="28.0" fill="#5e5e5e"/>
<rect x="365.0" y="792.2" width="10.6" height="28.0" fill="#686868"/>
<rect x="375.0" y="792.2" width="10.6" height="28.0" fill="#737373"/>
<rect x="385.0" y="792.2" width="10.6" height="28.0" fill="#7d7d7d"/>
<rect x="395.0" y="792.2" width="10.6" height="28.0" fill="#838383"/>
<rect x="405.0" y="792.2" width="28.0" height="28.0" fill="#878787"/>
<rect x="432.4" y="792.2" width="28.0" height="28.0" fill="#969696"/>
<rect x="459.7" y="792.2" width="28.0" height="28.0" fill="#aaaaaa"/>
<rect x="487.1" y="792.2" width="28.0" height="28.0" fill="#b6b6b6"/>
<rect x="514.5" y="792.2" width="28.0" height="28.0" fill="#b9b9b9"/>
<rect x="541.9" y="792.2" width="28.0" height="28.0" fill="#b5b5b5"/>
<rect x="569.2" y="792.2" width="28.0" height="28.0" fill="#afafaf"/>
<rect x="596.6" y="792.2" width="28.0" height="28.0" fill="#aaaaaa"/>
<rect x="624.0" y="792.2" width="28.0" height="28.0" fill="#a8a8a8"/>
<rect x="651.3" y="792.2" width="28.0" height="28.0" fill="#a7a7a7"/>
<rect x="678.7" y="792.2" width="28.0" height="28.0" fill="#a4a4a4"/>
<rect x="706.1" y="792.2" width="28.0" height="28.0" fill="#9b9b9b"/>
<rect x="733.4" y="792.2" width="28.0" height="28.0" fill="#8c8c8c"/>
<rect x="760.8" y="792.2" width="28.0" height="28.0" fill="#757575"/>
<rect x="788.2" y="792.2" width="28.0" height="28.0" fill="#5a5a5a"/>
<rect x="815.6" y="792.2" width="28.0" height="28.0" fill="#444444"/>
<rect x="842.9" y="792.2" width="28.0" height="28.0" fill="#323232"/>
<rect x="870.3" y="792.2" width="28.0" height="28.0" fill="#252525"/>
<rect x="897.7" y="792.2" width="28.0" height="28.0" fill="#1b1b1b"/>
<rect x="925.0" y="792.2" width="28.0" height="28.0" fill="#131313"/>
<rect x="952.4" y="792.2" width="28.0" height="28.0" fill="#0e0e0e"/>
<rect x="979.8" y="792.2" width="28.0" height="28.0" fill="#080808"/>
<rect x="1007.1" y="792.2" width="28.0" height="28.0" fill="#040404"/>
<rect x="1034.5" y="792.2" width="55.3" height="28.0" fill="#020202"/>
<rect x="1089.3" y="792.2" width="28.0" height="28.0" fill="#040404"/>
<rect x="1116.6" y="792.2" width="28.0" height="28.0" fill="#070707"/>
<rect x="1144.0" y="792.2" width="28.0" height="28.0" fill="#0b0b0b"/>
<rect x="1171.4" y="792.2" width="28.0" height="28.0" fill="#101010"/>
<rect x="1198.7" y="792.2" width="28.0" height="28.0" fill="#1a1a1a"/>
<rect x="1226.1" y="792.2" width="28.0" height="28.0" fill="#262626"/>
<rect x="1253.5" y="792.2" width="28.0" height="28.0" fill="#333333"/>
<rect x="1280.9" y="792.2" width="28.0" height="28.0" fill="#3e3e3e"/>
<rect x="1308.2" y="792.2" width="28.0" height="28.0" fill="#484848"/>
<rect x="1335.6" y="792.2" width="28.0" height="28.0" fill="#535353"/>
<rect x="1363.0" y="792.2" width="28.0" height="28.0" fill="#636363"/>
<rect x="1390.3" y="792.2" width="28.0" height="28.0" fill="#6d6d6d"/>
<rect x="1417.7" y="792.2" width="28.0" height="28.0" fill="#6c6c6c"/>
<rect x="1445.1" y="792.2" width="28.0" height="28.0" fill="#6b6b6b"/>
<rect x="1472.4" y="792.2" width="28.0" height="28.0" fill="#767676"/>
<rect x="1499.8" y="792.2" width="28.0" height="28.0" fill="#848484"/>
<rect x="1527.2" y="792.2" width="28.0" height="28.0" fill="#8c8c8c"/>
<rect x="1554.6" y="792.2" width="28.0" height="28.0" fill="#919191"/>
<rect x="1581.9" y="792.2" width="28.0" height="28.0" fill="#969696"/>
<rect x="1609.3" y="792.2" width="28.0" height="28.0" fill="#9d9d9d"/>
<rect x="1636.7" y="792.2" width="28.0" height="28.0" fill="#a5a5a5"/>
<rect x="1664.0" y="792.2" width="28.0" height="28.0" fill="#aeaeae"/>
<rect x="1691.4" y="792.2" width="28.0" height="28.0" fill="#b8b8b8"/>
<rect x="1718.8" y="792.2" width="28.0" height="28.0" fill="#c4c4c4"/>
<rect x="1746.1" y="792.2" width="28.0" height="28.0" fill="#d1d1d1"/>
<rect x="1773.5" y="792.2" width="28.0" height="28.0" fill="#dddddd"/>
<rect x="1800.9" y="792.2" width="28.0" height="28.0" fill="#e7e7e7"/>
<rect x="1828.3" y="792.2" width="28.0" height="28.0" fill="#efefef"/>
<rect x="1855.6" y="792.2" width="28.0" height="28.0" fill="#f5f5f5"/>
<rect x="1883.0" y="792.2" width="10.6" height="28.0" fill="#f8f8f8"/>
<rect x="1893.0" y="792.2" width="10.6" height="28.0" fill="#f3f3f3"/>
<rect x="1903.0" y="792.2" width="10.6" height="28.0" fill="#dedede"/>
<rect x="1913.0" y="792.2" width="10.6" height="28.0" fill="#bfbfbf"/>
<rect x="1923.0" y="792.2" width="10.6" height="28.0" fill="#999999"/>
<rect x="1933.0" y="792.2" width="10.6" height="28.0" fill="#727272"/>
<rect x="1943.0" y="792.2" width="10.6" height="28.0" fill="#4d4d4d"/>
<rect x="1953.0" y="792.2" width="10.6" height="28.0" fill="#313131"/>
<rect x="1963.0" y="792.2" width="10.6" height="28.0" fill="#202020"/>
<rect x="1973.0" y="792.2" width="45.6" height="28.0" fill="#1e1e1e"/>
<rect x="300.0" y="819.6" width="45.6" height="28.0" fill="#515151"/>
<rect x="345.0" y="819.6" width="10.6" height="28.0" fill="#525252"/>
<rect x="355.0" y="819.6" width="10.6" height="28.0" fill="#5a5a5a"/>
<rect x="365.0" y="819.6" width="10.6" height="28.0" fill="#666666"/>
<rect x="375.0" y="819.6" width="10.6" height="28.0" fill="#737373"/>
<rect x="385.0" y="819.6" width="10.6" height="28.0" fill="#7f7f7f"/>
<rect x="395.0" y="819.6" width="10.6" height="28.0" fill="#878787"/>
<rect x="405.0" y="819.6" width="28.0" height="28.0" fill="#8b8b8b"/>
<rect x="432.4" y="819.6" width="28.0" height="28.0" fill="#9b9b9b"/>
<rect x="459.7" y="819.6" width="28.0" height="28.0" fill="#afafaf"/>
<rect x="487.1" y="819.6" width="28.0" height="28.0" fill="#b9b9b9"/>
<rect x="514.5" y="819.6" width="28.0" height="28.0" fill="#b8b8b8"/>
<rect x="541.9" y="819.6" width="28.0" height="28.0" fill="#b1b1b1"/>
<rect x="569.2" y="819.6" width="28.0" height="28.0" fill="#a8a8a8"/>
<rect x="596.6" y="819.6" width="28.0" height="28.0" fill="#a4a4a4"/>
<rect x="624.0" y="819.6" width="55.3" height="28.0" fill="#a2a2a2"/>
<rect x="678.7" y="819.6" width="28.0" height="28.0" fill="#9e9e9e"/>
<rect x="706.1" y="819.6" width="28.0" height="28.0" fill="#959595"/>
<rect x="733.4" y="819.6" width="28.0" height="28.0" fill="#848484"/>
<rect x="760.8" y="819.6" width="28.0" height="28.0" fill="#6a6a6a"/>
<rect x="788.2" y="819.6" width="28.0" height="28.0" fill="#4e4e4e"/>
<rect x="815.6" y="819.6" width="28.0" height="28.0" fill="#393939"/>
<rect x="842.9" y="819.6" width="28.0" height="28.0" fill="#2b2b2b"/>
<rect x="870.3" y="819.6" width="28.0" height="28.0" fill="#202020"/>
<rect x="897.7" y="819.6" width="28.0" height="28.0" fill="#171717"/>
<rect x="925.0" y="819.6" width="28.0" height="28.0" fill="#101010"/>
<rect x="952.4" y="819.6" width="28.0" height="28.0" fill="#0b0b0b"/>
<rect x="979.8" y="819.6" width="28.0" height="28.0" fill="#070707"/>
<rect x="1007.1" y="819.6" width="28.0" height="28.0" fill="#040404"/>
<rect x="1034.5" y="819.6" width="28.0" height="28.0" fill="#030303"/>
<rect x="1061.9" y="819.6" width="28.0" height="28.0" fill="#040404"/>
<rect x="1089.3" y="819.6" width="28.0" height="28.0" fill="#050505"/>
<rect x="1116.6" y="819.6" width="28.0" height="28.0" fill="#080808"/>
<rect x="1144.0" y="819.6" width="28.0" height="28.0" fill="#0c0c0c"/>
<rect x="1171.4" y="819.6" width="28.0" height="28.0" fill="#121212"/>
<rect x="1198.7" y="819.6" width="28.0" height="28.0" fill="#1b1b1b"/>
<rect x="1226.1" y="819.6" width="28.0" height="28.0" fill="#262626"/>
<rect x="1253.5" y="819.6" width="28.0" height="28.0" fill="#323232"/>
<rect x="1280.9" y="819.6" width="28.0" height="28.0" fill="#3e3e3e"/>
<rect x="1308.2" y="819.6" width="28.0" height="28.0" fill="#494949"/>
<rect x="1335.6" y="819.6" width="28.0" height="28.0" fill="#555555"/>
<rect x="1363.0" y="819.6" width="28.0" height="28.0" fill="#656565"/>
<rect x="1390.3" y="819.6" width="28.0" height="28.0" fill="#717171"/>
<rect x="1417.7" y="819.6" width="28.0" height="28.0" fill="#767676"/>
<rect x="1445.1" y="819.6" width="28.0" height="28.0" fill="#797979"/>
<rect x="1472.4" y="819.6" width="28.0" height="28.0" fill="#848484"/>
<rect x="1499.8" y="819.6" width="28.0" height="28.0" fill="#919191"/>
<rect x="1527.2" y="819.6" width="28.0" height="28.0" fill="#999999"/>
<rect x="1554.6" y="819.6" width="28.0" height="28.0" fill="#9c9c9c"/>
<rect x="1581.9" y="819.6" width="28.0" height="28.0" fill="#9f9f9f"/>
<rect x="1609.3" y="819.6" width="28.0" height="28.0" fill="#a3a3a3"/>
<rect x="1636.7" y="819.6" width="28.0" height="28.0" fill="#ababab"/>
<rect x="1664.0" y="819.6" width="28.0" height="28.0" fill="#b5b5b5"/>
<rect x="1691.4" y="819.6" width="28.0" height="28.0" fill="#bebebe"/>
<rect x="1718.8" y="819.6" width="28.0" height="28.0" fill="#c9c9c9"/>
<rect x="1746.1" y="819.6" width="28.0" height="28.0" fill="#d6d6d6"/>
<rect x="1773.5" y="819.6" width="28.0" height="28.0" fill="#e2e2e2"/>
<rect x="1800.9" y="819.6" width="28.0" height="28.0" fill="#ebebeb"/>
<rect x="1828.3" y="819.6" width="28.0" height="28.0" fill="#f3f3f3"/>
<rect x="1855.6" y="819.6" width="28.0" height="28.0" fill="#f8f8f8"/>
<rect x="1883.0" y="819.6" width="10.6" height="28.0" fill="#fafafa"/>
<rect x="1893.0" y="819.6" width="10.6" height="28.0" fill="#f7f7f7"/>
<rect x="1903.0" y="819.6" width="10.6" height="28.0" fill="#e3e3e3"/>
<rect x="1913.0" y="819.6" width="10.6" height="28.0" fill="#c4c4c4"/>
<rect x="1923.0" y="819.6" width="10.6" height="28.0" fill="#9e9e9e"/>
<rect x="1933.0" y="819.6" width="10.6" height="28.0" fill="#777777"/>
<rect x="1943.0" y="819.6" width="10.6" height="28.0" fill="#525252"/>
<rect x="1953.0" y="819.6" width="10.6" height="28.0" fill="#353535"/>
<rect x="1963.0" y="819.6" width="10.6" height="28.0" fill="#242424"/>
<rect x="1973.0" y="819.6" width="45.6" height="28.0" fill="#222222"/>
<rect x="300.0" y="847.1" width="45.6" height="28.0" fill="#4d4d4d"/>
<rect x="345.0" y="847.1" width="10.6" height="28.0" fill="#4e4e4e"/>
<rect x="355.0" y="847.1" width="10.6" height="28.0" fill="#575757"/>
<rect x="365.0" y="847.1" width="10.6" height="28.0" fill="#646464"/>
<rect x="375.0" y="847.1" width="10.6" height="28.0" fill="#737373"/>
<rect x="385.0" y="847.1" width="10.6" height="28.0" fill="#808080"/>
<rect x="395.0" y="847.1" width="10.6" height="28.0" fill="#898989"/>
<rect x="405.0" y="847.1" width="28.0" height="28.0" fill="#8e8e8e"/>
<rect x="432.4" y="847.1" width="28.0" height="28.0" fill="#9d9d9d"/>
<rect x="459.7" y="847.1" width="28.0" height="28.0" fill="#b0b0b0"/>
<rect x="487.1" y="847.1" width="28.0" height="28.0" fill="#b9b9b9"/>
<rect x="514.5" y="847.1" width="28.0" height="28.0" fill="#b5b5b5"/>
<rect x="541.9" y="847.1" width="28.0" height="28.0" fill="#a8a8a8"/>
<rect x="569.2" y="847.1" width="28.0" height="28.0" fill="#9c9c9c"/>
<rect x="596.6" y="847.1" width="55.3" height="28.0" fill="#969696"/>
<rect x="651.3" y="847.1" width="28.0" height="28.0" fill="#949494"/>
<rect x="678.7" y="847.1" width="28.0" height="28.0" fill="#8f8f8f"/>
<rect x="706.1" y="847.1" width="28.0" height="28.0" fill="#868686"/>
<rect x="733.4" y="847.1" width="28.0" height="28.0" fill="#787878"/>
<rect x="760.8" y="847.1" width="28.0" height="28.0" fill="#606060"/>
<rect x="788.2" y="847.1" width="28.0" height="28.0" fill="#454545"/>
<rect x="815.6" y="847.1" width="28.0" height="28.0" fill="#313131"/>
<rect x="842.9" y="847.1" width="28.0" height="28.0" fill="#242424"/>
<rect x="870.3" y="847.1" width="28.0" height="28.0" fill="#1b1b1b"/>
<rect x="897.7" y="847.1" width="28.0" height="28.0" fill="#141414"/>
<rect x="925.0" y="847.1" width="28.0" height="28.0" fill="#0e0e0e"/>
<rect x="952.4" y="847.1" width="28.0" height="28.0" fill="#090909"/>
<rect x="979.8" y="847.1" width="55.3" height="28.0" fill="#050505"/>
<rect x="1034.5" y="847.1" width="28.0" height="28.0" fill="#060606"/>
<rect x="1061.9" y="847.1" width="28.0" height="28.0" fill="#070707"/>
<rect x="1089.3" y="847.1" width="28.0" height="28.0" fill="#080808"/>
<rect x="1116.6" y="847.1" width="28.0" height="28.0" fill="#0a0a0a"/>
<rect x="1144.0" y="847.1" width="28.0" height="28.0" fill="#0d0d0d"/>
<rect x="1171.4" y="847.1" width="28.0" height="28.0" fill="#131313"/>
<rect x="1198.7" y="847.1" width="28.0" height="28.0" fill="#1b1b1b"/>
<rect x="1226.1" y="847.1" width="28.0" height="28.0" fill="#252525"/>
<rect x="1253.5" y="847.1" width="28.0" height="28.0" fill="#313131"/>
<rect x="1280.9" y="847.1" width="28.0" height="28.0" fill="#3d3d3d"/>
<rect x="1308.2" y="847.1" width="28.0" height="28.0" fill="#474747"/>
<rect x="1335.6" y="847.1" width="28.0" height="28.0" fill="#525252"/>
<rect x="1363.0" y="847.1" width="28.0" height="28.0" fill="#626262"/>
<rect x="1390.3" y="847.1" width="28.0" height="28.0" fill="#707070"/>
<rect x="1417.7" y="847.1" width="28.0" height="28.0" fill="#787878"/>
<rect x="1445.1" y="847.1" width="28.0" height="28.0" fill="#7f7f7f"/>
<rect x="1472.4" y="847.1" width="28.0" height="28.0" fill="#8c8c8c"/>
<rect x="1499.8" y="847.1" width="28.0" height="28.0" fill="#9a9a9a"/>
<rect x="1527.2" y="847.1" width="28.0" height="28.0" fill="#a2a2a2"/>
<rect x="1554.6" y="847.1" width="28.0" height="28.0" fill="#a6a6a6"/>
<rect x="1581.9" y="847.1" width="28.0" height="28.0" fill="#a9a9a9"/>
<rect x="1609.3" y="847.1" width="28.0" height="28.0" fill="#aeaeae"/>
<rect x="1636.7" y="847.1" width="28.0" height="28.0" fill="#b6b6b6"/>
<rect x="1664.0" y="847.1" width="28.0" height="28.0" fill="#bfbfbf"/>
<rect x="1691.4" y="847.1" width="28.0" height="28.0" fill="#c6c6c6"/>
<rect x="1718.8" y="847.1" width="28.0" height="28.0" fill="#cfcfcf"/>
<rect x="1746.1" y="847.1" width="28.0" height="28.0" fill="#dcdcdc"/>
<rect x="1773.5" y="847.1" width="28.0" height="28.0" fill="#e8e8e8"/>
<rect x="1800.9" y="847.1" width="28.0" height="28.0" fill="#f1f1f1"/>
<rect x="1828.3" y="847.1" width="28.0" height="28.0" fill="#f7f7f7"/>
<rect x="1855.6" y="847.1" width="28.0" height="28.0" fill="#fcfcfc"/>
<rect x="1883.0" y="847.1" width="10.6" height="28.0" fill="#fdfdfd"/>
<rect x="1893.0" y="847.1" width="10.6" height="28.0" fill="#fbfbfb"/>
<rect x="1903.0" y="847.1" width="10.6" height="28.0" fill="#eaeaea"/>
<rect x="1913.0" y="847.1" width="10.6" height="28.0" fill="#cccccc"/>
<rect x="1923.0" y="847.1" width="10.6" height="28.0" fill="#a6a6a6"/>
<rect x="1933.0" y="847.1" width="10.6" height="28.0" fill="#7d7d7d"/>
<rect x="1943.0" y="847.1" width="10.6" height="28.0" fill="#585858"/>
<rect x="1953.0" y="847.1" width="10.6" height="28.0" fill="#3a3a3a"/>
<rect x="1963.0" y="847.1" width="10.6" height="28.0" fill="#292929"/>
<rect x="1973.0" y="847.1" width="45.6" height="28.0" fill="#262626"/>
<rect x="300.0" y="874.5" width="45.6" height="28.0" fill="#494949"/>
<rect x="345.0" y="874.5" width="10.6" height="28.0" fill="#4b4b4b"/>
<rect x="355.0" y="874.5" width="10.6" height="28.0" fill="#545454"/>
<rect x="365.0" y="874.5" width="10.6" height="28.0" fill="#626262"/>
<rect x="375.0" y="874.5" width="10.6" height="28.0" fill="#727272"/>
<rect x="385.0" y="874.5" width="10.6" height="28.0" fill="#818181"/>
<rect x="395.0" y="874.5" width="10.6" height="28.0" fill="#8a8a8a"/>
<rect x="405.0" y="874.5" width="28.0" height="28.0" fill="#8f8f8f"/>
<rect x="432.4" y="874.5" width="28.0" height="28.0" fill="#9e9e9e"/>
<rect x="459.7" y="874.5" width="28.0" height="28.0" fill="#b0b0b0"/>
<rect x="487.1" y="874.5" width="28.0" height="28.0" fill="#b7b7b7"/>
<rect x="514.5" y="874.5" width="28.0" height="28.0" fill="#b0b0b0"/>
<rect x="541.9" y="874.5" width="28.0" height="28.0" fill="#a0a0a0"/>
<rect x="569.2" y="874.5" width="28.0" height="28.0" fill="#909090"/>
<rect x="596.6" y="874.5" width="55.3" height="28.0" fill="#898989"/>
<rect x="651.3" y="874.5" width="28.0" height="28.0" fill="#858585"/>
<rect x="678.7" y="874.5" width="28.0" height="28.0" fill="#7d7d7d"/>
<rect x="706.1" y="874.5" width="28.0" height="28.0" fill="#757575"/>
<rect x="733.4" y="874.5" width="28.0" height="28.0" fill="#696969"/>
<rect x="760.8" y="874.5" width="28.0" height="28.0" fill="#555555"/>
<rect x="788.2" y="874.5" width="28.0" height="28.0" fill="#3e3e3e"/>
<rect x="815.6" y="874.5" width="28.0" height="28.0" fill="#2a2a2a"/>
<rect x="842.9" y="874.5" width="28.0" height="28.0" fill="#1d1d1d"/>
<rect x="870.3" y="874.5" width="28.0" height="28.0" fill="#151515"/>
<rect x="897.7" y="874.5" width="28.0" height="28.0" fill="#111111"/>
<rect x="925.0" y="874.5" width="28.0" height="28.0" fill="#0c0c0c"/>
<rect x="952.4" y="874.5" width="28.0" height="28.0" fill="#070707"/>
<rect x="979.8" y="874.5" width="55.3" height="28.0" fill="#050505"/>
<rect x="1034.5" y="874.5" width="28.0" height="28.0" fill="#080808"/>
<rect x="1061.9" y="874.5" width="82.7" height="28.0" fill="#0b0b0b"/>
<rect x="1144.0" y="874.5" width="28.0" height="28.0" fill="#0e0e0e"/>
<rect x="1171.4" y="874.5" width="28.0" height="28.0" fill="#131313"/>
<rect x="1198.7" y="874.5" width="28.0" height="28.0" fill="#1b1b1b"/>
<rect x="1226.1" y="874.5" width="28.0" height="28.0" fill="#242424"/>
<rect x="1253.5" y="874.5" width="28.0" height="28.0" fill="#303030"/>
<rect x="1280.9" y="874.5" width="28.0" height="28.0" fill="#3c3c3c"/>
<rect x="1308.2" y="874.5" width="28.0" height="28.0" fill="#464646"/>
<rect x="1335.6" y="874.5" width="28.0" height="28.0" fill="#515151"/>
<rect x="1363.0" y="874.5" width="28.0" height="28.0" fill="#606060"/>
<rect x="1390.3" y="874.5" width="28.0" height="28.0" fill="#6e6e6e"/>
<rect x="1417.7" y="874.5" width="28.0" height="28.0" fill="#777777"/>
<rect x="1445.1" y="874.5" width="28.0" height="28.0" fill="#818181"/>
<rect x="1472.4" y="874.5" width="28.0" height="28.0" fill="#909090"/>
<rect x="1499.8" y="874.5" width="28.0" height="28.0" fill="#9f9f9f"/>
<rect x="1527.2" y="874.5" width="28.0" height="28.0" fill="#a8a8a8"/>
<rect x="1554.6" y="874.5" width="28.0" height="28.0" fill="#aeaeae"/>
<rect x="1581.9" y="874.5" width="28.0" height="28.0" fill="#b3b3b3"/>
<rect x="1609.3" y="874.5" width="28.0" height="28.0" fill="#b9b9b9"/>
<rect x="1636.7" y="874.5" width="28.0" height="28.0" fill="#c2c2c2"/>
<rect x="1664.0" y="874.5" width="28.0" height="28.0" fill="#c9c9c9"/>
<rect x="1691.4" y="874.5" width="28.0" height="28.0" fill="#cfcfcf"/>
<rect x="1718.8" y="874.5" width="28.0" height="28.0" fill="#d6d6d6"/>
<rect x="1746.1" y="874.5" width="28.0" height="28.0" fill="#e2e2e2"/>
<rect x="1773.5" y="874.5" width="28.0" height="28.0" fill="#eeeeee"/>
<rect x="1800.9" y="874.5" width="28.0" height="28.0" fill="#f6f6f6"/>
<rect x="1828.3" y="874.5" width="28.0" height="28.0" fill="#fcfcfc"/>
<rect x="1855.6" y="874.5" width="38.0" height="28.0" fill="#ffffff"/>
<rect x="1893.0" y="874.5" width="10.6" height="28.0" fill="#fefefe"/>
<rect x="1903.0" y="874.5" width="10.6" height="28.0" fill="#efefef"/>
<rect x="1913.0" y="874.5" width="10.6" height="28.0" fill="#d2d2d2"/>
<rect x="1923.0" y="874.5" width="10.6" height="28.0" fill="#acacac"/>
<rect x="1933.0" y="874.5" width="10.6" height="28.0" fill="#848484"/>
<rect x="1943.0" y="874.5" width="10.6" height="28.0" fill="#5d5d5d"/>
<rect x="1953.0" y="874.5" width="10.6" height="28.0" fill="#3f3f3f"/>
<rect x="1963.0" y="874.5" width="10.6" height="28.0" fill="#2d2d2d"/>
<rect x="1973.0" y="874.5" width="45.6" height="28.0" fill="#2a2a2a"/>
<rect x="300.0" y="902.0" width="45.6" height="28.0" fill="#444444"/>
<rect x="345.0" y="902.0" width="10.6" height="28.0" fill="#464646"/>
<rect x="355.0" y="902.0" width="10.6" height="28.0" fill="#4f4f4f"/>
<rect x="365.0" y="902.0" width="10.6" height="28.0" fill="#5f5f5f"/>
<rect x="375.0" y="902.0" width="10.6" height="28.0" fill="#707070"/>
<rect x="385.0" y="902.0" width="10.6" height="28.0" fill="#7f7f7f"/>
<rect x="395.0" y="902.0" width="10.6" height="28.0" fill="#898989"/>
<rect x="405.0" y="902.0" width="28.0" height="28.0" fill="#8e8e8e"/>
<rect x="432.4" y="902.0" width="28.0" height="28.0" fill="#9d9d9d"/>
<rect x="459.7" y="902.0" width="28.0" height="28.0" fill="#afafaf"/>
<rect x="487.1" y="902.0" width="28.0" height="28.0" fill="#b5b5b5"/>
<rect x="514.5" y="902.0" width="28.0" height="28.0" fill="#acacac"/>
<rect x="541.9" y="902.0" width="28.0" height="28.0" fill="#9a9a9a"/>
<rect x="569.2" y="902.0" width="28.0" height="28.0" fill="#898989"/>
<rect x="596.6" y="902.0" width="28.0" height="28.0" fill="#828282"/>
<rect x="624.0" y="902.0" width="28.0" height="28.0" fill="#818181"/>
<rect x="651.3" y="902.0" width="28.0" height="28.0" fill="#7a7a7a"/>
<rect x="678.7" y="902.0" width="28.0" height="28.0" fill="#707070"/>
<rect x="706.1" y="902.0" width="28.0" height="28.0" fill="#666666"/>
<rect x="733.4" y="902.0" width="28.0" height="28.0" fill="#5a5a5a"/>
<rect x="760.8" y="902.0" width="28.0" height="28.0" fill="#4a4a4a"/>
<rect x="788.2" y="902.0" width="28.0" height="28.0" fill="#363636"/>
<rect x="815.6" y="902.0" width="28.0" height="28.0" fill="#242424"/>
<rect x="842.9" y="902.0" width="28.0" height="28.0" fill="#161616"/>
<rect x="870.3" y="902.0" width="28.0" height="28.0" fill="#101010"/>
<rect x="897.7" y="902.0" width="28.0" height="28.0" fill="#0e0e0e"/>
<rect x="925.0" y="902.0" width="28.0" height="28.0" fill="#0a0a0a"/>
<rect x="952.4" y="902.0" width="28.0" height="28.0" fill="#060606"/>
<rect x="979.8" y="902.0" width="28.0" height="28.0" fill="#050505"/>
<rect x="1007.1" y="902.0" width="28.0" height="28.0" fill="#060606"/>
<rect x="1034.5" y="902.0" width="28.0" height="28.0" fill="#0a0a0a"/>
<rect x="1061.9" y="902.0" width="55.3" height="28.0" fill="#0c0c0c"/>
<rect x="1116.6" y="902.0" width="28.0" height="28.0" fill="#0b0b0b"/>
<rect x="1144.0" y="902.0" width="28.0" height="28.0" fill="#0d0d0d"/>
<rect x="1171.4" y="902.0" width="28.0" height="28.0" fill="#131313"/>
<rect x="1198.7" y="902.0" width="28.0" height="28.0" fill="#1b1b1b"/>
<rect x="1226.1" y="902.0" width="28.0" height="28.0" fill="#252525"/>
<rect x="1253.5" y="902.0" width="28.0" height="28.0" fill="#313131"/>
<rect x="1280.9" y="902.0" width="28.0" height="28.0" fill="#3e3e3e"/>
<rect x="1308.2" y="902.0" width="28.0" height="28.0" fill="#494949"/>
<rect x="1335.6" y="902.0" width="28.0" height="28.0" fill="#545454"/>
<rect x="1363.0" y="902.0" width="28.0" height="28.0" fill="#616161"/>
<rect x="1390.3" y="902.0" width="28.0" height="28.0" fill="#6d6d6d"/>
<rect x="1417.7" y="902.0" width="28.0" height="28.0" fill="#777777"/>
<rect x="1445.1" y="902.0" width="28.0" height="28.0" fill="#828282"/>
<rect x="1472.4" y="902.0" width="28.0" height="28.0" fill="#929292"/>
<rect x="1499.8" y="902.0" width="28.0" height="28.0" fill="#a2a2a2"/>
<rect x="1527.2" y="902.0" width="28.0" height="28.0" fill="#adadad"/>
<rect x="1554.6" y="902.0" width="28.0" height="28.0" fill="#b5b5b5"/>
<rect x="1581.9" y="902.0" width="28.0" height="28.0" fill="#bcbcbc"/>
<rect x="1609.3" y="902.0" width="28.0" height="28.0" fill="#c3c3c3"/>
<rect x="1636.7" y="902.0" width="28.0" height="28.0" fill="#cacaca"/>
<rect x="1664.0" y="902.0" width="28.0" height="28.0" fill="#d1d1d1"/>
<rect x="1691.4" y="902.0" width="28.0" height="28.0" fill="#d6d6d6"/>
<rect x="1718.8" y="902.0" width="28.0" height="28.0" fill="#dddddd"/>
<rect x="1746.1" y="902.0" width="28.0" height="28.0" fill="#e8e8e8"/>
<rect x="1773.5" y="902.0" width="28.0" height="28.0" fill="#f2f2f2"/>
<rect x="1800.9" y="902.0" width="28.0" height="28.0" fill="#fafafa"/>
<rect x="1828.3" y="902.0" width="28.0" height="28.0" fill="#fefefe"/>
<rect x="1855.6" y="902.0" width="48.0" height="28.0" fill="#ffffff"/>
<rect x="1903.0" y="902.0" width="10.6" height="28.0" fill="#f3f3f3"/>
<rect x="1913.0" y="902.0" width="10.6" height="28.0" fill="#d7d7d7"/>
<rect x="1923.0" y="902.0" width="10.6" height="28.0" fill="#b3b3b3"/>
<rect x="1933.0" y="902.0" width="10.6" height="28.0" fill="#8a8a8a"/>
<rect x="1943.0" y="902.0" width="10.6" height="28.0" fill="#636363"/>
<rect x="1953.0" y="902.0" width="10.6" height="28.0" fill="#444444"/>
<rect x="1963.0" y="902.0" width="10.6" height="28.0" fill="#323232"/>
<rect x="1973.0" y="902.0" width="45.6" height="28.0" fill="#2f2f2f"/>
<rect x="300.0" y="929.4" width="45.6" height="28.0" fill="#404040"/>
<rect x="345.0" y="929.4" width="10.6" height="28.0" fill="#414141"/>
<rect x="355.0" y="929.4" width="10.6" height="28.0" fill="#4b4b4b"/>
<rect x="365.0" y="929.4" width="10.6" height="28.0" fill="#5b5b5b"/>
<rect x="375.0" y="929.4" width="10.6" height="28.0" fill="#6d6d6d"/>
<rect x="385.0" y="929.4" width="10.6" height="28.0" fill="#7c7c7c"/>
<rect x="395.0" y="929.4" width="10.6" height="28.0" fill="#868686"/>
<rect x="405.0" y="929.4" width="28.0" height="28.0" fill="#8a8a8a"/>
<rect x="432.4" y="929.4" width="28.0" height="28.0" fill="#9a9a9a"/>
<rect x="459.7" y="929.4" width="28.0" height="28.0" fill="#adadad"/>
<rect x="487.1" y="929.4" width="28.0" height="28.0" fill="#b2b2b2"/>
<rect x="514.5" y="929.4" width="28.0" height="28.0" fill="#a9a9a9"/>
<rect x="541.9" y="929.4" width="28.0" height="28.0" fill="#979797"/>
<rect x="569.2" y="929.4" width="28.0" height="28.0" fill="#868686"/>
<rect x="596.6" y="929.4" width="28.0" height="28.0" fill="#7f7f7f"/>
<rect x="624.0" y="929.4" width="28.0" height="28.0" fill="#7c7c7c"/>
<rect x="651.3" y="929.4" width="28.0" height="28.0" fill="#757575"/>
<rect x="678.7" y="929.4" width="28.0" height="28.0" fill="#696969"/>
<rect x="706.1" y="929.4" width="28.0" height="28.0" fill="#5c5c5c"/>
<rect x="733.4" y="929.4" width="28.0" height="28.0" fill="#4e4e4e"/>
<rect x="760.8" y="929.4" width="28.0" height="28.0" fill="#404040"/>
<rect x="788.2" y="929.4" width="28.0" height="28.0" fill="#2f2f2f"/>
<rect x="815.6" y="929.4" width="28.0" height="28.0" fill="#1f1f1f"/>
<rect x="842.9" y="929.4" width="28.0" height="28.0" fill="#111111"/>
<rect x="870.3" y="929.4" width="28.0" height="28.0" fill="#0c0c0c"/>
<rect x="897.7" y="929.4" width="28.0" height="28.0" fill="#0b0b0b"/>
<rect x="925.0" y="929.4" width="28.0" height="28.0" fill="#090909"/>
<rect x="952.4" y="929.4" width="55.3" height="28.0" fill="#050505"/>
<rect x="1007.1" y="929.4" width="28.0" height="28.0" fill="#060606"/>
<rect x="1034.5" y="929.4" width="28.0" height="28.0" fill="#0a0a0a"/>
<rect x="1061.9" y="929.4" width="28.0" height="28.0" fill="#0c0c0c"/>
<rect x="1089.3" y="929.4" width="55.3" height="28.0" fill="#0b0b0b"/>
<rect x="1144.0" y="929.4" width="28.0" height="28.0" fill="#0e0e0e"/>
<rect x="1171.4" y="929.4" width="28.0" height="28.0" fill="#151515"/>
<rect x="1198.7" y="929.4" width="28.0" height="28.0" fill="#1d1d1d"/>
<rect x="1226.1" y="929.4" width="28.0" height="28.0" fill="#272727"/>
<rect x="1253.5" y="929.4" width="28.0" height="28.0" fill="#333333"/>
<rect x="1280.9" y="929.4" width="28.0" height="28.0" fill="#404040"/>
<rect x="1308.2" y="929.4" width="28.0" height="28.0" fill="#4c4c4c"/>
<rect x="1335.6" y="929.4" width="28.0" height="28.0" fill="#585858"/>
<rect x="1363.0" y="929.4" width="28.0" height="28.0" fill="#636363"/>
<rect x="1390.3" y="929.4" width="28.0" height="28.0" fill="#6d6d6d"/>
<rect x="1417.7" y="929.4" width="28.0" height="28.0" fill="#767676"/>
<rect x="1445.1" y="929.4" width="28.0" height="28.0" fill="#828282"/>
<rect x="1472.4" y="929.4" width="28.0" height="28.0" fill="#929292"/>
<rect x="1499.8" y="929.4" width="28.0" height="28.0" fill="#a3a3a3"/>
<rect x="1527.2" y="929.4" width="28.0" height="28.0" fill="#b1b1b1"/>
<rect x="1554.6" y="929.4" width="28.0" height="28.0" fill="#bcbcbc"/>
<rect x="1581.9" y="929.4" width="28.0" height="28.0" fill="#c4c4c4"/>
<rect x="1609.3" y="929.4" width="28.0" height="28.0" fill="#cacaca"/>
<rect x="1636.7" y="929.4" width="28.0" height="28.0" fill="#d1d1d1"/>
<rect x="1664.0" y="929.4" width="28.0" height="28.0" fill="#d8d8d8"/>
<rect x="1691.4" y="929.4" width="28.0" height="28.0" fill="#dddddd"/>
<rect x="1718.8" y="929.4" width="28.0" height="28.0" fill="#e3e3e3"/>
<rect x="1746.1" y="929.4" width="28.0" height="28.0" fill="#ececec"/>
<rect x="1773.5" y="929.4" width="28.0" height="28.0" fill="#f5f5f5"/>
<rect x="1800.9" y="929.4" width="28.0" height="28.0" fill="#fcfcfc"/>
<rect x="1828.3" y="929.4" width="65.3" height="28.0" fill="#ffffff"/>
<rect x="1893.0" y="929.4" width="10.6" height="28.0" fill="#fefefe"/>
<rect x="1903.0" y="929.4" width="10.6" height="28.0" fill="#f6f6f6"/>
<rect x="1913.0" y="929.4" width="10.6" height="28.0" fill="#dddddd"/>
<rect x="1923.0" y="929.4" width="10.6" height="28.0" fill="#b9b9b9"/>
<rect x="1933.0" y="929.4" width="10.6" height="28.0" fill="#909090"/>
<rect x="1943.0" y="929.4" width="10.6" height="28.0" fill="#696969"/>
<rect x="1953.0" y="929.4" width="10.6" height="28.0" fill="#494949"/>
<rect x="1963.0" y="929.4" width="10.6" height="28.0" fill="#373737"/>
<rect x="1973.0" y="929.4" width="45.6" height="28.0" fill="#343434"/>
<rect x="300.0" y="956.8" width="45.6" height="28.0" fill="#3d3d3d"/>
<rect x="345.0" y="956.8" width="10.6" height="28.0" fill="#3f3f3f"/>
<rect x="355.0" y="956.8" width="10.6" height="28.0" fill="#494949"/>
<rect x="365.0" y="956.8" width="10.6" height="28.0" fill="#595959"/>
<rect x="375.0" y="956.8" width="10.6" height="28.0" fill="#6a6a6a"/>
<rect x="385.0" y="956.8" width="10.6" height="28.0" fill="#797979"/>
<rect x="395.0" y="956.8" width="10.6" height="28.0" fill="#828282"/>
<rect x="405.0" y="956.8" width="28.0" height="28.0" fill="#858585"/>
<rect x="432.4" y="956.8" width="28.0" height="28.0" fill="#959595"/>
<rect x="459.7" y="956.8" width="28.0" height="28.0" fill="#aaaaaa"/>
<rect x="487.1" y="956.8" width="28.0" height="28.0" fill="#b0b0b0"/>
<rect x="514.5" y="956.8" width="28.0" height="28.0" fill="#a7a7a7"/>
<rect x="541.9" y="956.8" width="28.0" height="28.0" fill="#959595"/>
<rect x="569.2" y="956.8" width="28.0" height="28.0" fill="#848484"/>
<rect x="596.6" y="956.8" width="28.0" height="28.0" fill="#7c7c7c"/>
<rect x="624.0" y="956.8" width="28.0" height="28.0" fill="#797979"/>
<rect x="651.3" y="956.8" width="28.0" height="28.0" fill="#717171"/>
<rect x="678.7" y="956.8" width="28.0" height="28.0" fill="#656565"/>
<rect x="706.1" y="956.8" width="28.0" height="28.0" fill="#575757"/>
<rect x="733.4" y="956.8" width="28.0" height="28.0" fill="#494949"/>
<rect x="760.8" y="956.8" width="28.0" height="28.0" fill="#393939"/>
<rect x="788.2" y="956.8" width="28.0" height="28.0" fill="#292929"/>
<rect x="815.6" y="956.8" width="28.0" height="28.0" fill="#1a1a1a"/>
<rect x="842.9" y="956.8" width="28.0" height="28.0" fill="#0e0e0e"/>
<rect x="870.3" y="956.8" width="28.0" height="28.0" fill="#0a0a0a"/>
<rect x="897.7" y="956.8" width="28.0" height="28.0" fill="#090909"/>
<rect x="925.0" y="956.8" width="28.0" height="28.0" fill="#070707"/>
<rect x="952.4" y="956.8" width="55.3" height="28.0" fill="#040404"/>
<rect x="1007.1" y="956.8" width="28.0" height="28.0" fill="#070707"/>
<rect x="1034.5" y="956.8" width="28.0" height="28.0" fill="#090909"/>
<rect x="1061.9" y="956.8" width="55.3" height="28.0" fill="#0b0b0b"/>
<rect x="1116.6" y="956.8" width="28.0" height="28.0" fill="#0c0c0c"/>
<rect x="1144.0" y="956.8" width="28.0" height="28.0" fill="#111111"/>
<rect x="1171.4" y="956.8" width="28.0" height="28.0" fill="#191919"/>
<rect x="1198.7" y="956.8" width="28.0" height="28.0" fill="#222222"/>
<rect x="1226.1" y="956.8" width="28.0" height="28.0" fill="#2c2c2c"/>
<rect x="1253.5" y="956.8" width="28.0" height="28.0" fill="#373737"/>
<rect x="1280.9" y="956.8" width="28.0" height="28.0" fill="#424242"/>
<rect x="1308.2" y="956.8" width="28.0" height="28.0" fill="#4e4e4e"/>
<rect x="1335.6" y="956.8" width="28.0" height="28.0" fill="#5a5a5a"/>
<rect x="1363.0" y="956.8" width="28.0" height="28.0" fill="#666666"/>
<rect x="1390.3" y="956.8" width="28.0" height="28.0" fill="#6f6f6f"/>
<rect x="1417.7" y="956.8" width="28.0" height="28.0" fill="#757575"/>
<rect x="1445.1" y="956.8" width="28.0" height="28.0" fill="#7e7e7e"/>
<rect x="1472.4" y="956.8" width="28.0" height="28.0" fill="#8f8f8f"/>
<rect x="1499.8" y="956.8" width="28.0" height="28.0" fill="#a3a3a3"/>
<rect x="1527.2" y="956.8" width="28.0" height="28.0" fill="#b4b4b4"/>
<rect x="1554.6" y="956.8" width="28.0" height="28.0" fill="#c1c1c1"/>
<rect x="1581.9" y="956.8" width="28.0" height="28.0" fill="#cacaca"/>
<rect x="1609.3" y="956.8" width="28.0" height="28.0" fill="#d0d0d0"/>
<rect x="1636.7" y="956.8" width="28.0" height="28.0" fill="#d7d7d7"/>
<rect x="1664.0" y="956.8" width="28.0" height="28.0" fill="#dcdcdc"/>
<rect x="1691.4" y="956.8" width="28.0" height="28.0" fill="#e1e1e1"/>
<rect x="1718.8" y="956.8" width="28.0" height="28.0" fill="#e7e7e7"/>
<rect x="1746.1" y="956.8" width="28.0" height="28.0" fill="#efefef"/>
<rect x="1773.5" y="956.8" width="28.0" height="28.0" fill="#f7f7f7"/>
<rect x="1800.9" y="956.8" width="28.0" height="28.0" fill="#fcfcfc"/>
<rect x="1828.3" y="956.8" width="55.3" height="28.0" fill="#ffffff"/>
<rect x="1883.0" y="956.8" width="10.6" height="28.0" fill="#fefefe"/>
<rect x="1893.0" y="956.8" width="10.6" height="28.0" fill="#fdfdfd"/>
<rect x="1903.0" y="956.8" width="10.6" height="28.0" fill="#f9f9f9"/>
<rect x="1913.0" y="956.8" width="10.6" height="28.0" fill="#e3e3e3"/>
<rect x="1923.0" y="956.8" width="10.6" height="28.0" fill="#c0c0c0"/>
<rect x="1933.0" y="956.8" width="10.6" height="28.0" fill="#989898"/>
<rect x="1943.0" y="956.8" width="10.6" height="28.0" fill="#717171"/>
<rect x="1953.0" y="956.8" width="10.6" height="28.0" fill="#505050"/>
<rect x="1963.0" y="956.8" width="10.6" height="28.0" fill="#3d3d3d"/>
<rect x="1973.0" y="956.8" width="45.6" height="28.0" fill="#3a3a3a"/>
<rect x="300.0" y="984.3" width="45.6" height="28.0" fill="#3a3a3a"/>
<rect x="345.0" y="984.3" width="10.6" height="28.0" fill="#3c3c3c"/>
<rect x="355.0" y="984.3" width="10.6" height="28.0" fill="#454545"/>
<rect x="365.0" y="984.3" width="10.6" height="28.0" fill="#555555"/>
<rect x="375.0" y="984.3" width="10.6" height="28.0" fill="#676767"/>
<rect x="385.0" y="984.3" width="10.6" height="28.0" fill="#777777"/>
<rect x="395.0" y="984.3" width="10.6" height="28.0" fill="#808080"/>
<rect x="405.0" y="984.3" width="28.0" height="28.0" fill="#858585"/>
<rect x="432.4" y="984.3" width="28.0" height="28.0" fill="#949494"/>
<rect x="459.7" y="984.3" width="28.0" height="28.0" fill="#a8a8a8"/>
<rect x="487.1" y="984.3" width="28.0" height="28.0" fill="#aeaeae"/>
<rect x="514.5" y="984.3" width="28.0" height="28.0" fill="#a5a5a5"/>
<rect x="541.9" y="984.3" width="28.0" height="28.0" fill="#939393"/>
<rect x="569.2" y="984.3" width="28.0" height="28.0" fill="#808080"/>
<rect x="596.6" y="984.3" width="28.0" height="28.0" fill="#777777"/>
<rect x="624.0" y="984.3" width="28.0" height="28.0" fill="#737373"/>
<rect x="651.3" y="984.3" width="28.0" height="28.0" fill="#6b6b6b"/>
<rect x="678.7" y="984.3" width="28.0" height="28.0" fill="#5f5f5f"/>
<rect x="706.1" y="984.3" width="28.0" height="28.0" fill="#535353"/>
<rect x="733.4" y="984.3" width="28.0" height="28.0" fill="#454545"/>
<rect x="760.8" y="984.3" width="28.0" height="28.0" fill="#353535"/>
<rect x="788.2" y="984.3" width="28.0" height="28.0" fill="#252525"/>
<rect x="815.6" y="984.3" width="28.0" height="28.0" fill="#161616"/>
<rect x="842.9" y="984.3" width="28.0" height="28.0" fill="#0c0c0c"/>
<rect x="870.3" y="984.3" width="55.3" height="28.0" fill="#080808"/>
<rect x="925.0" y="984.3" width="28.0" height="28.0" fill="#070707"/>
<rect x="952.4" y="984.3" width="28.0" height="28.0" fill="#060606"/>
<rect x="979.8" y="984.3" width="28.0" height="28.0" fill="#070707"/>
<rect x="1007.1" y="984.3" width="55.3" height="28.0" fill="#080808"/>
<rect x="1061.9" y="984.3" width="55.3" height="28.0" fill="#090909"/>
<rect x="1116.6" y="984.3" width="28.0" height="28.0" fill="#0c0c0c"/>
<rect x="1144.0" y="984.3" width="28.0" height="28.0" fill="#121212"/>
<rect x="1171.4" y="984.3" width="28.0" height="28.0" fill="#1c1c1c"/>
<rect x="1198.7" y="984.3" width="28.0" height="28.0" fill="#262626"/>
<rect x="1226.1" y="984.3" width="28.0" height="28.0" fill="#313131"/>
<rect x="1253.5" y="984.3" width="28.0" height="28.0" fill="#3c3c3c"/>
<rect x="1280.9" y="984.3" width="28.0" height="28.0" fill="#474747"/>
<rect x="1308.2" y="984.3" width="28.0" height="28.0" fill="#535353"/>
<rect x="1335.6" y="984.3" width="28.0" height="28.0" fill="#5e5e5e"/>
<rect x="1363.0" y="984.3" width="28.0" height="28.0" fill="#686868"/>
<rect x="1390.3" y="984.3" width="28.0" height="28.0" fill="#6f6f6f"/>
<rect x="1417.7" y="984.3" width="28.0" height="28.0" fill="#727272"/>
<rect x="1445.1" y="984.3" width="28.0" height="28.0" fill="#787878"/>
<rect x="1472.4" y="984.3" width="28.0" height="28.0" fill="#898989"/>
<rect x="1499.8" y="984.3" width="28.0" height="28.0" fill="#9e9e9e"/>
<rect x="1527.2" y="984.3" width="28.0" height="28.0" fill="#b1b1b1"/>
<rect x="1554.6" y="984.3" width="28.0" height="28.0" fill="#bfbfbf"/>
<rect x="1581.9" y="984.3" width="28.0" height="28.0" fill="#c8c8c8"/>
<rect x="1609.3" y="984.3" width="28.0" height="28.0" fill="#cfcfcf"/>
<rect x="1636.7" y="984.3" width="28.0" height="28.0" fill="#d5d5d5"/>
<rect x="1664.0" y="984.3" width="28.0" height="28.0" fill="#dbdbdb"/>
<rect x="1691.4" y="984.3" width="28.0" height="28.0" fill="#dfdfdf"/>
<rect x="1718.8" y="984.3" width="28.0" height="28.0" fill="#e4e4e4"/>
<rect x="1746.1" y="984.3" width="28.0" height="28.0" fill="#ebebeb"/>
<rect x="1773.5" y="984.3" width="28.0" height="28.0" fill="#f1f1f1"/>
<rect x="1800.9" y="984.3" width="28.0" height="28.0" fill="#f6f6f6"/>
<rect x="1828.3" y="984.3" width="55.3" height="28.0" fill="#f9f9f9"/>
<rect x="1883.0" y="984.3" width="10.6" height="28.0" fill="#f7f7f7"/>
<rect x="1893.0" y="984.3" width="10.6" height="28.0" fill="#f6f6f6"/>
<rect x="1903.0" y="984.3" width="10.6" height="28.0" fill="#f3f3f3"/>
<rect x="1913.0" y="984.3" width="10.6" height="28.0" fill="#e2e2e2"/>
<rect x="1923.0" y="984.3" width="10.6" height="28.0" fill="#c3c3c3"/>
<rect x="1933.0" y="984.3" width="10.6" height="28.0" fill="#9d9d9d"/>
<rect x="1943.0" y="984.3" width="10.6" height="28.0" fill="#767676"/>
<rect x="1953.0" y="984.3" width="10.6" height="28.0" fill="#575757"/>
<rect x="1963.0" y="984.3" width="10.6" height="28.0" fill="#444444"/>
<rect x="1973.0" y="984.3" width="45.6" height="28.0" fill="#414141"/>
<rect x="300.0" y="1011.7" width="45.6" height="28.0" fill="#343434"/>
<rect x="345.0" y="1011.7" width="10.6" height="28.0" fill="#353535"/>
<rect x="355.0" y="1011.7" width="10.6" height="28.0" fill="#404040"/>
<rect x="365.0" y="1011.7" width="10.6" height="28.0" fill="#505050"/>
<rect x="375.0" y="1011.7" width="10.6" height="28.0" fill="#646464"/>
<rect x="385.0" y="1011.7" width="10.6" height="28.0" fill="#767676"/>
<rect x="395.0" y="1011.7" width="10.6" height="28.0" fill="#838383"/>
<rect x="405.0" y="1011.7" width="28.0" height="28.0" fill="#8b8b8b"/>
<rect x="432.4" y="1011.7" width="28.0" height="28.0" fill="#999999"/>
<rect x="459.7" y="1011.7" width="28.0" height="28.0" fill="#a6a6a6"/>
<rect x="487.1" y="1011.7" width="28.0" height="28.0" fill="#ababab"/>
<rect x="514.5" y="1011.7" width="28.0" height="28.0" fill="#a3a3a3"/>
<rect x="541.9" y="1011.7" width="28.0" height="28.0" fill="#909090"/>
<rect x="569.2" y="1011.7" width="28.0" height="28.0" fill="#7b7b7b"/>
<rect x="596.6" y="1011.7" width="28.0" height="28.0" fill="#6f6f6f"/>
<rect x="624.0" y="1011.7" width="28.0" height="28.0" fill="#6a6a6a"/>
<rect x="651.3" y="1011.7" width="28.0" height="28.0" fill="#626262"/>
<rect x="678.7" y="1011.7" width="28.0" height="28.0" fill="#575757"/>
<rect x="706.1" y="1011.7" width="28.0" height="28.0" fill="#4c4c4c"/>
<rect x="733.4" y="1011.7" width="28.0" height="28.0" fill="#414141"/>
<rect x="760.8" y="1011.7" width="28.0" height="28.0" fill="#323232"/>
<rect x="788.2" y="1011.7" width="28.0" height="28.0" fill="#232323"/>
<rect x="815.6" y="1011.7" width="28.0" height="28.0" fill="#151515"/>
<rect x="842.9" y="1011.7" width="28.0" height="28.0" fill="#0c0c0c"/>
<rect x="870.3" y="1011.7" width="28.0" height="28.0" fill="#070707"/>
<rect x="897.7" y="1011.7" width="28.0" height="28.0" fill="#080808"/>
<rect x="925.0" y="1011.7" width="28.0" height="28.0" fill="#0a0a0a"/>
<rect x="952.4" y="1011.7" width="28.0" height="28.0" fill="#0d0d0d"/>
<rect x="979.8" y="1011.7" width="28.0" height="28.0" fill="#0c0c0c"/>
<rect x="1007.1" y="1011.7" width="28.0" height="28.0" fill="#0a0a0a"/>
<rect x="1034.5" y="1011.7" width="28.0" height="28.0" fill="#070707"/>
<rect x="1061.9" y="1011.7" width="28.0" height="28.0" fill="#060606"/>
<rect x="1089.3" y="1011.7" width="28.0" height="28.0" fill="#070707"/>
<rect x="1116.6" y="1011.7" width="28.0" height="28.0" fill="#0b0b0b"/>
<rect x="1144.0" y="1011.7" width="28.0" height="28.0" fill="#121212"/>
<rect x="1171.4" y="1011.7" width="28.0" height="28.0" fill="#1d1d1d"/>
<rect x="1198.7" y="1011.7" width="28.0" height="28.0" fill="#2a2a2a"/>
<rect x="1226.1" y="1011.7" width="28.0" height="28.0" fill="#373737"/>
<rect x="1253.5" y="1011.7" width="28.0" height="28.0" fill="#444444"/>
<rect x="1280.9" y="1011.7" width="28.0" height="28.0" fill="#505050"/>
<rect x="1308.2" y="1011.7" width="28.0" height="28.0" fill="#5b5b5b"/>
<rect x="1335.6" y="1011.7" width="28.0" height="28.0" fill="#656565"/>
<rect x="1363.0" y="1011.7" width="28.0" height="28.0" fill="#6b6b6b"/>
<rect x="1390.3" y="1011.7" width="28.0" height="28.0" fill="#6e6e6e"/>
<rect x="1417.7" y="1011.7" width="28.0" height="28.0" fill="#6d6d6d"/>
<rect x="1445.1" y="1011.7" width="28.0" height="28.0" fill="#717171"/>
<rect x="1472.4" y="1011.7" width="28.0" height="28.0" fill="#7f7f7f"/>
<rect x="1499.8" y="1011.7" width="28.0" height="28.0" fill="#939393"/>
<rect x="1527.2" y="1011.7" width="28.0" height="28.0" fill="#a4a4a4"/>
<rect x="1554.6" y="1011.7" width="28.0" height="28.0" fill="#b2b2b2"/>
<rect x="1581.9" y="1011.7" width="28.0" height="28.0" fill="#bcbcbc"/>
<rect x="1609.3" y="1011.7" width="28.0" height="28.0" fill="#c3c3c3"/>
<rect x="1636.7" y="1011.7" width="28.0" height="28.0" fill="#cbcbcb"/>
<rect x="1664.0" y="1011.7" width="28.0" height="28.0" fill="#d0d0d0"/>
<rect x="1691.4" y="1011.7" width="28.0" height="28.0" fill="#d4d4d4"/>
<rect x="1718.8" y="1011.7" width="28.0" height="28.0" fill="#d8d8d8"/>
<rect x="1746.1" y="1011.7" width="28.0" height="28.0" fill="#dedede"/>
<rect x="1773.5" y="1011.7" width="28.0" height="28.0" fill="#e3e3e3"/>
<rect x="1800.9" y="1011.7" width="28.0" height="28.0" fill="#e8e8e8"/>
<rect x="1828.3" y="1011.7" width="55.3" height="28.0" fill="#eaeaea"/>
<rect x="1883.0" y="1011.7" width="10.6" height="28.0" fill="#e7e7e7"/>
<rect x="1893.0" y="1011.7" width="10.6" height="28.0" fill="#e5e5e5"/>
<rect x="1903.0" y="1011.7" width="10.6" height="28.0" fill="#e1e1e1"/>
<rect x="1913.0" y="1011.7" width="10.6" height="28.0" fill="#d8d8d8"/>
<rect x="1923.0" y="1011.7" width="10.6" height="28.0" fill="#bfbfbf"/>
<rect x="1933.0" y="1011.7" width="10.6" height="28.0" fill="#9e9e9e"/>
<rect x="1943.0" y="1011.7" width="10.6" height="28.0" fill="#7b7b7b"/>
<rect x="1953.0" y="1011.7" width="10.6" height="28.0" fill="#5e5e5e"/>
<rect x="1963.0" y="1011.7" width="10.6" height="28.0" fill="#4c4c4c"/>
<rect x="1973.0" y="1011.7" width="45.6" height="28.0" fill="#4a4a4a"/>
<rect x="300.0" y="1039.2" width="45.6" height="28.0" fill="#2e2e2e"/>
<rect x="345.0" y="1039.2" width="10.6" height="28.0" fill="#303030"/>
<rect x="355.0" y="1039.2" width="10.6" height="28.0" fill="#3a3a3a"/>
<rect x="365.0" y="1039.2" width="10.6" height="28.0" fill="#4b4b4b"/>
<rect x="375.0" y="1039.2" width="10.6" height="28.0" fill="#606060"/>
<rect x="385.0" y="1039.2" width="10.6" height="28.0" fill="#747474"/>
<rect x="395.0" y="1039.2" width="10.6" height="28.0" fill="#848484"/>
<rect x="405.0" y="1039.2" width="28.0" height="28.0" fill="#8f8f8f"/>
<rect x="432.4" y="1039.2" width="28.0" height="28.0" fill="#9c9c9c"/>
<rect x="459.7" y="1039.2" width="28.0" height="28.0" fill="#a5a5a5"/>
<rect x="487.1" y="1039.2" width="28.0" height="28.0" fill="#a8a8a8"/>
<rect x="514.5" y="1039.2" width="28.0" height="28.0" fill="#a1a1a1"/>
<rect x="541.9" y="1039.2" width="28.0" height="28.0" fill="#909090"/>
<rect x="569.2" y="1039.2" width="28.0" height="28.0" fill="#7b7b7b"/>
<rect x="596.6" y="1039.2" width="28.0" height="28.0" fill="#6e6e6e"/>
<rect x="624.0" y="1039.2" width="28.0" height="28.0" fill="#676767"/>
<rect x="651.3" y="1039.2" width="28.0" height="28.0" fill="#5e5e5e"/>
<rect x="678.7" y="1039.2" width="28.0" height="28.0" fill="#525252"/>
<rect x="706.1" y="1039.2" width="28.0" height="28.0" fill="#474747"/>
<rect x="733.4" y="1039.2" width="28.0" height="28.0" fill="#3d3d3d"/>
<rect x="760.8" y="1039.2" width="28.0" height="28.0" fill="#303030"/>
<rect x="788.2" y="1039.2" width="28.0" height="28.0" fill="#222222"/>
<rect x="815.6" y="1039.2" width="28.0" height="28.0" fill="#151515"/>
<rect x="842.9" y="1039.2" width="28.0" height="28.0" fill="#0c0c0c"/>
<rect x="870.3" y="1039.2" width="28.0" height="28.0" fill="#080808"/>
<rect x="897.7" y="1039.2" width="28.0" height="28.0" fill="#0a0a0a"/>
<rect x="925.0" y="1039.2" width="28.0" height="28.0" fill="#0f0f0f"/>
<rect x="952.4" y="1039.2" width="28.0" height="28.0" fill="#131313"/>
<rect x="979.8" y="1039.2" width="28.0" height="28.0" fill="#111111"/>
<rect x="1007.1" y="1039.2" width="28.0" height="28.0" fill="#0c0c0c"/>
<rect x="1034.5" y="1039.2" width="28.0" height="28.0" fill="#060606"/>
<rect x="1061.9" y="1039.2" width="28.0" height="28.0" fill="#040404"/>
<rect x="1089.3" y="1039.2" width="28.0" height="28.0" fill="#050505"/>
<rect x="1116.6" y="1039.2" width="28.0" height="28.0" fill="#0b0b0b"/>
<rect x="1144.0" y="1039.2" width="28.0" height="28.0" fill="#141414"/>
<rect x="1171.4" y="1039.2" width="28.0" height="28.0" fill="#202020"/>
<rect x="1198.7" y="1039.2" width="28.0" height="28.0" fill="#2e2e2e"/>
<rect x="1226.1" y="1039.2" width="28.0" height="28.0" fill="#3c3c3c"/>
<rect x="1253.5" y="1039.2" width="28.0" height="28.0" fill="#494949"/>
<rect x="1280.9" y="1039.2" width="28.0" height="28.0" fill="#555555"/>
<rect x="1308.2" y="1039.2" width="28.0" height="28.0" fill="#5f5f5f"/>
<rect x="1335.6" y="1039.2" width="28.0" height="28.0" fill="#666666"/>
<rect x="1363.0" y="1039.2" width="55.3" height="28.0" fill="#686868"/>
<rect x="1417.7" y="1039.2" width="28.0" height="28.0" fill="#666666"/>
<rect x="1445.1" y="1039.2" width="28.0" height="28.0" fill="#696969"/>
<rect x="1472.4" y="1039.2" width="28.0" height="28.0" fill="#757575"/>
<rect x="1499.8" y="1039.2" width="28.0" height="28.0" fill="#858585"/>
<rect x="1527.2" y="1039.2" width="28.0" height="28.0" fill="#959595"/>
<rect x="1554.6" y="1039.2" width="28.0" height="28.0" fill="#a2a2a2"/>
<rect x="1581.9" y="1039.2" width="28.0" height="28.0" fill="#ababab"/>
<rect x="1609.3" y="1039.2" width="28.0" height="28.0" fill="#b3b3b3"/>
<rect x="1636.7" y="1039.2" width="28.0" height="28.0" fill="#bababa"/>
<rect x="1664.0" y="1039.2" width="28.0" height="28.0" fill="#c0c0c0"/>
<rect x="1691.4" y="1039.2" width="28.0" height="28.0" fill="#c4c4c4"/>
<rect x="1718.8" y="1039.2" width="28.0" height="28.0" fill="#c7c7c7"/>
<rect x="1746.1" y="1039.2" width="28.0" height="28.0" fill="#cccccc"/>
<rect x="1773.5" y="1039.2" width="28.0" height="28.0" fill="#d1d1d1"/>
<rect x="1800.9" y="1039.2" width="28.0" height="28.0" fill="#d5d5d5"/>
<rect x="1828.3" y="1039.2" width="28.0" height="28.0" fill="#d7d7d7"/>
<rect x="1855.6" y="1039.2" width="28.0" height="28.0" fill="#d6d6d6"/>
<rect x="1883.0" y="1039.2" width="10.6" height="28.0" fill="#d3d3d3"/>
<rect x="1893.0" y="1039.2" width="10.6" height="28.0" fill="#d0d0d0"/>
<rect x="1903.0" y="1039.2" width="10.6" height="28.0" fill="#cccccc"/>
<rect x="1913.0" y="1039.2" width="10.6" height="28.0" fill="#c8c8c8"/>
<rect x="1923.0" y="1039.2" width="10.6" height="28.0" fill="#b7b7b7"/>
<rect x="1933.0" y="1039.2" width="10.6" height="28.0" fill="#9c9c9c"/>
<rect x="1943.0" y="1039.2" width="10.6" height="28.0" fill="#7e7e7e"/>
<rect x="1953.0" y="1039.2" width="10.6" height="28.0" fill="#646464"/>
<rect x="1963.0" y="1039.2" width="10.6" height="28.0" fill="#545454"/>
<rect x="1973.0" y="1039.2" width="45.6" height="28.0" fill="#525252"/>
<rect x="300.0" y="1066.6" width="45.6" height="28.0" fill="#2a2a2a"/>
<rect x="345.0" y="1066.6" width="10.6" height="28.0" fill="#2c2c2c"/>
<rect x="355.0" y="1066.6" width="10.6" height="28.0" fill="#363636"/>
<rect x="365.0" y="1066.6" width="10.6" height="28.0" fill="#464646"/>
<rect x="375.0" y="1066.6" width="10.6" height="28.0" fill="#5a5a5a"/>
<rect x="385.0" y="1066.6" width="10.6" height="28.0" fill="#6e6e6e"/>
<rect x="395.0" y="1066.6" width="10.6" height="28.0" fill="#7e7e7e"/>
<rect x="405.0" y="1066.6" width="28.0" height="28.0" fill="#898989"/>
<rect x="432.4" y="1066.6" width="28.0" height="28.0" fill="#979797"/>
<rect x="459.7" y="1066.6" width="28.0" height="28.0" fill="#a1a1a1"/>
<rect x="487.1" y="1066.6" width="28.0" height="28.0" fill="#a4a4a4"/>
<rect x="514.5" y="1066.6" width="28.0" height="28.0" fill="#9f9f9f"/>
<rect x="541.9" y="1066.6" width="28.0" height="28.0" fill="#929292"/>
<rect x="569.2" y="1066.6" width="28.0" height="28.0" fill="#828282"/>
<rect x="596.6" y="1066.6" width="28.0" height="28.0" fill="#767676"/>
<rect x="624.0" y="1066.6" width="28.0" height="28.0" fill="#6d6d6d"/>
<rect x="651.3" y="1066.6" width="28.0" height="28.0" fill="#616161"/>
<rect x="678.7" y="1066.6" width="28.0" height="28.0" fill="#545454"/>
<rect x="706.1" y="1066.6" width="28.0" height="28.0" fill="#474747"/>
<rect x="733.4" y="1066.6" width="28.0" height="28.0" fill="#3b3b3b"/>
<rect x="760.8" y="1066.6" width="28.0" height="28.0" fill="#2e2e2e"/>
<rect x="788.2" y="1066.6" width="28.0" height="28.0" fill="#202020"/>
<rect x="815.6" y="1066.6" width="28.0" height="28.0" fill="#141414"/>
<rect x="842.9" y="1066.6" width="28.0" height="28.0" fill="#0c0c0c"/>
<rect x="870.3" y="1066.6" width="28.0" height="28.0" fill="#0b0b0b"/>
<rect x="897.7" y="1066.6" width="28.0" height="28.0" fill="#0e0e0e"/>
<rect x="925.0" y="1066.6" width="28.0" height="28.0" fill="#131313"/>
<rect x="952.4" y="1066.6" width="28.0" height="28.0" fill="#151515"/>
<rect x="979.8" y="1066.6" width="28.0" height="28.0" fill="#121212"/>
<rect x="1007.1" y="1066.6" width="28.0" height="28.0" fill="#0c0c0c"/>
<rect x="1034.5" y="1066.6" width="28.0" height="28.0" fill="#070707"/>
<rect x="1061.9" y="1066.6" width="28.0" height="28.0" fill="#050505"/>
<rect x="1089.3" y="1066.6" width="28.0" height="28.0" fill="#070707"/>
<rect x="1116.6" y="1066.6" width="28.0" height="28.0" fill="#0d0d0d"/>
<rect x="1144.0" y="1066.6" width="28.0" height="28.0" fill="#181818"/>
<rect x="1171.4" y="1066.6" width="28.0" height="28.0" fill="#252525"/>
<rect x="1198.7" y="1066.6" width="28.0" height="28.0" fill="#333333"/>
<rect x="1226.1" y="1066.6" width="28.0" height="28.0" fill="#3f3f3f"/>
<rect x="1253.5" y="1066.6" width="28.0" height="28.0" fill="#4a4a4a"/>
<rect x="1280.9" y="1066.6" width="28.0" height="28.0" fill="#525252"/>
<rect x="1308.2" y="1066.6" width="28.0" height="28.0" fill="#585858"/>
<rect x="1335.6" y="1066.6" width="28.0" height="28.0" fill="#5c5c5c"/>
<rect x="1363.0" y="1066.6" width="55.3" height="28.0" fill="#5e5e5e"/>
<rect x="1417.7" y="1066.6" width="28.0" height="28.0" fill="#5d5d5d"/>
<rect x="1445.1" y="1066.6" width="28.0" height="28.0" fill="#606060"/>
<rect x="1472.4" y="1066.6" width="28.0" height="28.0" fill="#6a6a6a"/>
<rect x="1499.8" y="1066.6" width="28.0" height="28.0" fill="#787878"/>
<rect x="1527.2" y="1066.6" width="28.0" height="28.0" fill="#868686"/>
<rect x="1554.6" y="1066.6" width="28.0" height="28.0" fill="#929292"/>
<rect x="1581.9" y="1066.6" width="28.0" height="28.0" fill="#9a9a9a"/>
<rect x="1609.3" y="1066.6" width="28.0" height="28.0" fill="#a1a1a1"/>
<rect x="1636.7" y="1066.6" width="28.0" height="28.0" fill="#a8a8a8"/>
<rect x="1664.0" y="1066.6" width="28.0" height="28.0" fill="#adadad"/>
<rect x="1691.4" y="1066.6" width="28.0" height="28.0" fill="#b1b1b1"/>
<rect x="1718.8" y="1066.6" width="28.0" height="28.0" fill="#b5b5b5"/>
<rect x="1746.1" y="1066.6" width="28.0" height="28.0" fill="#b9b9b9"/>
<rect x="1773.5" y="1066.6" width="28.0" height="28.0" fill="#bebebe"/>
<rect x="1800.9" y="1066.6" width="28.0" height="28.0" fill="#c1c1c1"/>
<rect x="1828.3" y="1066.6" width="28.0" height="28.0" fill="#c2c2c2"/>
<rect x="1855.6" y="1066.6" width="28.0" height="28.0" fill="#c1c1c1"/>
<rect x="1883.0" y="1066.6" width="10.6" height="28.0" fill="#bfbfbf"/>
<rect x="1893.0" y="1066.6" width="10.6" height="28.0" fill="#bcbcbc"/>
<rect x="1903.0" y="1066.6" width="10.6" height="28.0" fill="#bababa"/>
<rect x="1913.0" y="1066.6" width="10.6" height="28.0" fill="#b7b7b7"/>
<rect x="1923.0" y="1066.6" width="10.6" height="28.0" fill="#afafaf"/>
<rect x="1933.0" y="1066.6" width="10.6" height="28.0" fill="#999999"/>
<rect x="1943.0" y="1066.6" width="10.6" height="28.0" fill="#7f7f7f"/>
<rect x="1953.0" y="1066.6" width="10.6" height="28.0" fill="#676767"/>
<rect x="1963.0" y="1066.6" width="10.6" height="28.0" fill="#585858"/>
<rect x="1973.0" y="1066.6" width="45.6" height="28.0" fill="#565656"/>
<rect x="300.0" y="1094.0" width="45.6" height="28.0" fill="#262626"/>
<rect x="345.0" y="1094.0" width="10.6" height="28.0" fill="#282828"/>
<rect x="355.0" y="1094.0" width="10.6" height="28.0" fill="#313131"/>
<rect x="365.0" y="1094.0" width="10.6" height="28.0" fill="#414141"/>
<rect x="375.0" y="1094.0" width="10.6" height="28.0" fill="#545454"/>
<rect x="385.0" y="1094.0" width="10.6" height="28.0" fill="#666666"/>
<rect x="395.0" y="1094.0" width="10.6" height="28.0" fill="#747474"/>
<rect x="405.0" y="1094.0" width="28.0" height="28.0" fill="#7f7f7f"/>
<rect x="432.4" y="1094.0" width="28.0" height="28.0" fill="#8d8d8d"/>
<rect x="459.7" y="1094.0" width="28.0" height="28.0" fill="#989898"/>
<rect x="487.1" y="1094.0" width="28.0" height="28.0" fill="#9b9b9b"/>
<rect x="514.5" y="1094.0" width="28.0" height="28.0" fill="#979797"/>
<rect x="541.9" y="1094.0" width="28.0" height="28.0" fill="#8f8f8f"/>
<rect x="569.2" y="1094.0" width="28.0" height="28.0" fill="#868686"/>
<rect x="596.6" y="1094.0" width="28.0" height="28.0" fill="#7b7b7b"/>
<rect x="624.0" y="1094.0" width="28.0" height="28.0" fill="#707070"/>
<rect x="651.3" y="1094.0" width="28.0" height="28.0" fill="#636363"/>
<rect x="678.7" y="1094.0" width="28.0" height="28.0" fill="#545454"/>
<rect x="706.1" y="1094.0" width="28.0" height="28.0" fill="#464646"/>
<rect x="733.4" y="1094.0" width="28.0" height="28.0" fill="#393939"/>
<rect x="760.8" y="1094.0" width="28.0" height="28.0" fill="#2c2c2c"/>
<rect x="788.2" y="1094.0" width="28.0" height="28.0" fill="#202020"/>
<rect x="815.6" y="1094.0" width="28.0" height="28.0" fill="#141414"/>
<rect x="842.9" y="1094.0" width="55.3" height="28.0" fill="#0d0d0d"/>
<rect x="897.7" y="1094.0" width="28.0" height="28.0" fill="#121212"/>
<rect x="925.0" y="1094.0" width="55.3" height="28.0" fill="#151515"/>
<rect x="979.8" y="1094.0" width="28.0" height="28.0" fill="#121212"/>
<rect x="1007.1" y="1094.0" width="28.0" height="28.0" fill="#0d0d0d"/>
<rect x="1034.5" y="1094.0" width="28.0" height="28.0" fill="#090909"/>
<rect x="1061.9" y="1094.0" width="28.0" height="28.0" fill="#070707"/>
<rect x="1089.3" y="1094.0" width="28.0" height="28.0" fill="#0a0a0a"/>
<rect x="1116.6" y="1094.0" width="28.0" height="28.0" fill="#111111"/>
<rect x="1144.0" y="1094.0" width="28.0" height="28.0" fill="#1d1d1d"/>
<rect x="1171.4" y="1094.0" width="28.0" height="28.0" fill="#2a2a2a"/>
<rect x="1198.7" y="1094.0" width="28.0" height="28.0" fill="#363636"/>
<rect x="1226.1" y="1094.0" width="28.0" height="28.0" fill="#404040"/>
<rect x="1253.5" y="1094.0" width="28.0" height="28.0" fill="#464646"/>
<rect x="1280.9" y="1094.0" width="28.0" height="28.0" fill="#4a4a4a"/>
<rect x="1308.2" y="1094.0" width="28.0" height="28.0" fill="#4d4d4d"/>
<rect x="1335.6" y="1094.0" width="28.0" height="28.0" fill="#4f4f4f"/>
<rect x="1363.0" y="1094.0" width="28.0" height="28.0" fill="#515151"/>
<rect x="1390.3" y="1094.0" width="55.3" height="28.0" fill="#525252"/>
<rect x="1445.1" y="1094.0" width="28.0" height="28.0" fill="#555555"/>
<rect x="1472.4" y="1094.0" width="28.0" height="28.0" fill="#5f5f5f"/>
<rect x="1499.8" y="1094.0" width="28.0" height="28.0" fill="#6b6b6b"/>
<rect x="1527.2" y="1094.0" width="28.0" height="28.0" fill="#767676"/>
<rect x="1554.6" y="1094.0" width="28.0" height="28.0" fill="#808080"/>
<rect x="1581.9" y="1094.0" width="28.0" height="28.0" fill="#878787"/>
<rect x="1609.3" y="1094.0" width="28.0" height="28.0" fill="#8d8d8d"/>
<rect x="1636.7" y="1094.0" width="28.0" height="28.0" fill="#939393"/>
<rect x="1664.0" y="1094.0" width="28.0" height="28.0" fill="#989898"/>
<rect x="1691.4" y="1094.0" width="28.0" height="28.0" fill="#9d9d9d"/>
<rect x="1718.8" y="1094.0" width="28.0" height="28.0" fill="#a1a1a1"/>
<rect x="1746.1" y="1094.0" width="28.0" height="28.0" fill="#a6a6a6"/>
<rect x="1773.5" y="1094.0" width="28.0" height="28.0" fill="#aaaaaa"/>
<rect x="1800.9" y="1094.0" width="28.0" height="28.0" fill="#adadad"/>
<rect x="1828.3" y="1094.0" width="28.0" height="28.0" fill="#aeaeae"/>
<rect x="1855.6" y="1094.0" width="28.0" height="28.0" fill="#afafaf"/>
<rect x="1883.0" y="1094.0" width="10.6" height="28.0" fill="#adadad"/>
<rect x="1893.0" y="1094.0" width="10.6" height="28.0" fill="#acacac"/>
<rect x="1903.0" y="1094.0" width="10.6" height="28.0" fill="#ababab"/>
<rect x="1913.0" y="1094.0" width="10.6" height="28.0" fill="#a9a9a9"/>
<rect x="1923.0" y="1094.0" width="10.6" height="28.0" fill="#a6a6a6"/>
<rect x="1933.0" y="1094.0" width="10.6" height="28.0" fill="#979797"/>
<rect x="1943.0" y="1094.0" width="10.6" height="28.0" fill="#808080"/>
<rect x="1953.0" y="1094.0" width="10.6" height="28.0" fill="#6a6a6a"/>
<rect x="1963.0" y="1094.0" width="10.6" height="28.0" fill="#5c5c5c"/>
<rect x="1973.0" y="1094.0" width="45.6" height="28.0" fill="#595959"/>
<rect x="300.0" y="1121.5" width="45.6" height="28.0" fill="#222222"/>
<rect x="345.0" y="1121.5" width="10.6" height="28.0" fill="#242424"/>
<rect x="355.0" y="1121.5" width="10.6" height="28.0" fill="#2d2d2d"/>
<rect x="365.0" y="1121.5" width="10.6" height="28.0" fill="#3c3c3c"/>
<rect x="375.0" y="1121.5" width="10.6" height="28.0" fill="#4e4e4e"/>
<rect x="385.0" y="1121.5" width="10.6" height="28.0" fill="#5f5f5f"/>
<rect x="395.0" y="1121.5" width="10.6" height="28.0" fill="#6c6c6c"/>
<rect x="405.0" y="1121.5" width="28.0" height="28.0" fill="#747474"/>
<rect x="432.4" y="1121.5" width="28.0" height="28.0" fill="#808080"/>
<rect x="459.7" y="1121.5" width="28.0" height="28.0" fill="#898989"/>
<rect x="487.1" y="1121.5" width="28.0" height="28.0" fill="#8c8c8c"/>
<rect x="514.5" y="1121.5" width="28.0" height="28.0" fill="#8a8a8a"/>
<rect x="541.9" y="1121.5" width="28.0" height="28.0" fill="#858585"/>
<rect x="569.2" y="1121.5" width="28.0" height="28.0" fill="#7f7f7f"/>
<rect x="596.6" y="1121.5" width="28.0" height="28.0" fill="#767676"/>
<rect x="624.0" y="1121.5" width="28.0" height="28.0" fill="#6a6a6a"/>
<rect x="651.3" y="1121.5" width="28.0" height="28.0" fill="#5d5d5d"/>
<rect x="678.7" y="1121.5" width="28.0" height="28.0" fill="#4f4f4f"/>
<rect x="706.1" y="1121.5" width="28.0" height="28.0" fill="#434343"/>
<rect x="733.4" y="1121.5" width="28.0" height="28.0" fill="#373737"/>
<rect x="760.8" y="1121.5" width="28.0" height="28.0" fill="#2b2b2b"/>
<rect x="788.2" y="1121.5" width="28.0" height="28.0" fill="#1f1f1f"/>
<rect x="815.6" y="1121.5" width="28.0" height="28.0" fill="#151515"/>
<rect x="842.9" y="1121.5" width="28.0" height="28.0" fill="#0e0e0e"/>
<rect x="870.3" y="1121.5" width="28.0" height="28.0" fill="#0f0f0f"/>
<rect x="897.7" y="1121.5" width="28.0" height="28.0" fill="#141414"/>
<rect x="925.0" y="1121.5" width="55.3" height="28.0" fill="#161616"/>
<rect x="979.8" y="1121.5" width="28.0" height="28.0" fill="#121212"/>
<rect x="1007.1" y="1121.5" width="28.0" height="28.0" fill="#0d0d0d"/>
<rect x="1034.5" y="1121.5" width="28.0" height="28.0" fill="#090909"/>
<rect x="1061.9" y="1121.5" width="28.0" height="28.0" fill="#080808"/>
<rect x="1089.3" y="1121.5" width="28.0" height="28.0" fill="#0b0b0b"/>
<rect x="1116.6" y="1121.5" width="28.0" height="28.0" fill="#131313"/>
<rect x="1144.0" y="1121.5" width="28.0" height="28.0" fill="#1f1f1f"/>
<rect x="1171.4" y="1121.5" width="28.0" height="28.0" fill="#2b2b2b"/>
<rect x="1198.7" y="1121.5" width="28.0" height="28.0" fill="#363636"/>
<rect x="1226.1" y="1121.5" width="28.0" height="28.0" fill="#3d3d3d"/>
<rect x="1253.5" y="1121.5" width="28.0" height="28.0" fill="#404040"/>
<rect x="1280.9" y="1121.5" width="28.0" height="28.0" fill="#424242"/>
<rect x="1308.2" y="1121.5" width="28.0" height="28.0" fill="#434343"/>
<rect x="1335.6" y="1121.5" width="28.0" height="28.0" fill="#454545"/>
<rect x="1363.0" y="1121.5" width="28.0" height="28.0" fill="#464646"/>
<rect x="1390.3" y="1121.5" width="28.0" height="28.0" fill="#474747"/>
<rect x="1417.7" y="1121.5" width="28.0" height="28.0" fill="#484848"/>
<rect x="1445.1" y="1121.5" width="28.0" height="28.0" fill="#4b4b4b"/>
<rect x="1472.4" y="1121.5" width="28.0" height="28.0" fill="#525252"/>
<rect x="1499.8" y="1121.5" width="28.0" height="28.0" fill="#5c5c5c"/>
<rect x="1527.2" y="1121.5" width="28.0" height="28.0" fill="#646464"/>
<rect x="1554.6" y="1121.5" width="28.0" height="28.0" fill="#6b6b6b"/>
<rect x="1581.9" y="1121.5" width="28.0" height="28.0" fill="#717171"/>
<rect x="1609.3" y="1121.5" width="28.0" height="28.0" fill="#777777"/>
<rect x="1636.7" y="1121.5" width="28.0" height="28.0" fill="#7c7c7c"/>
<rect x="1664.0" y="1121.5" width="28.0" height="28.0" fill="#828282"/>
<rect x="1691.4" y="1121.5" width="28.0" height="28.0" fill="#878787"/>
<rect x="1718.8" y="1121.5" width="28.0" height="28.0" fill="#8b8b8b"/>
<rect x="1746.1" y="1121.5" width="28.0" height="28.0" fill="#909090"/>
<rect x="1773.5" y="1121.5" width="28.0" height="28.0" fill="#959595"/>
<rect x="1800.9" y="1121.5" width="28.0" height="28.0" fill="#9a9a9a"/>
<rect x="1828.3" y="1121.5" width="28.0" height="28.0" fill="#9d9d9d"/>
<rect x="1855.6" y="1121.5" width="38.0" height="28.0" fill="#9f9f9f"/>
<rect x="1893.0" y="1121.5" width="10.6" height="28.0" fill="#9e9e9e"/>
<rect x="1903.0" y="1121.5" width="10.6" height="28.0" fill="#9d9d9d"/>
<rect x="1913.0" y="1121.5" width="10.6" height="28.0" fill="#9c9c9c"/>
<rect x="1923.0" y="1121.5" width="10.6" height="28.0" fill="#9a9a9a"/>
<rect x="1933.0" y="1121.5" width="10.6" height="28.0" fill="#909090"/>
<rect x="1943.0" y="1121.5" width="10.6" height="28.0" fill="#7d7d7d"/>
<rect x="1953.0" y="1121.5" width="10.6" height="28.0" fill="#6b6b6b"/>
<rect x="1963.0" y="1121.5" width="10.6" height="28.0" fill="#5e5e5e"/>
<rect x="1973.0" y="1121.5" width="45.6" height="28.0" fill="#5c5c5c"/>
<rect x="300.0" y="1148.9" width="45.6" height="28.0" fill="#1f1f1f"/>
<rect x="345.0" y="1148.9" width="10.6" height="28.0" fill="#202020"/>
<rect x="355.0" y="1148.9" width="10.6" height="28.0" fill="#292929"/>
<rect x="365.0" y="1148.9" width="10.6" height="28.0" fill="#393939"/>
<rect x="375.0" y="1148.9" width="10.6" height="28.0" fill="#4b4b4b"/>
<rect x="385.0" y="1148.9" width="10.6" height="28.0" fill="#5c5c5c"/>
<rect x="395.0" y="1148.9" width="10.6" height="28.0" fill="#686868"/>
<rect x="405.0" y="1148.9" width="28.0" height="28.0" fill="#6e6e6e"/>
<rect x="432.4" y="1148.9" width="28.0" height="28.0" fill="#757575"/>
<rect x="459.7" y="1148.9" width="28.0" height="28.0" fill="#7c7c7c"/>
<rect x="487.1" y="1148.9" width="28.0" height="28.0" fill="#7e7e7e"/>
<rect x="514.5" y="1148.9" width="28.0" height="28.0" fill="#7c7c7c"/>
<rect x="541.9" y="1148.9" width="28.0" height="28.0" fill="#7a7a7a"/>
<rect x="569.2" y="1148.9" width="28.0" height="28.0" fill="#777777"/>
<rect x="596.6" y="1148.9" width="28.0" height="28.0" fill="#707070"/>
<rect x="624.0" y="1148.9" width="28.0" height="28.0" fill="#666666"/>
<rect x="651.3" y="1148.9" width="28.0" height="28.0" fill="#5a5a5a"/>
<rect x="678.7" y="1148.9" width="28.0" height="28.0" fill="#4d4d4d"/>
<rect x="706.1" y="1148.9" width="28.0" height="28.0" fill="#414141"/>
<rect x="733.4" y="1148.9" width="28.0" height="28.0" fill="#363636"/>
<rect x="760.8" y="1148.9" width="28.0" height="28.0" fill="#2b2b2b"/>
<rect x="788.2" y="1148.9" width="28.0" height="28.0" fill="#1f1f1f"/>
<rect x="815.6" y="1148.9" width="28.0" height="28.0" fill="#151515"/>
<rect x="842.9" y="1148.9" width="28.0" height="28.0" fill="#0e0e0e"/>
<rect x="870.3" y="1148.9" width="28.0" height="28.0" fill="#0f0f0f"/>
<rect x="897.7" y="1148.9" width="28.0" height="28.0" fill="#131313"/>
<rect x="925.0" y="1148.9" width="55.3" height="28.0" fill="#151515"/>
<rect x="979.8" y="1148.9" width="28.0" height="28.0" fill="#111111"/>
<rect x="1007.1" y="1148.9" width="28.0" height="28.0" fill="#0c0c0c"/>
<rect x="1034.5" y="1148.9" width="55.3" height="28.0" fill="#080808"/>
<rect x="1089.3" y="1148.9" width="28.0" height="28.0" fill="#0c0c0c"/>
<rect x="1116.6" y="1148.9" width="28.0" height="28.0" fill="#141414"/>
<rect x="1144.0" y="1148.9" width="28.0" height="28.0" fill="#1f1f1f"/>
<rect x="1171.4" y="1148.9" width="28.0" height="28.0" fill="#292929"/>
<rect x="1198.7" y="1148.9" width="28.0" height="28.0" fill="#323232"/>
<rect x="1226.1" y="1148.9" width="28.0" height="28.0" fill="#373737"/>
<rect x="1253.5" y="1148.9" width="55.3" height="28.0" fill="#393939"/>
<rect x="1308.2" y="1148.9" width="28.0" height="28.0" fill="#3b3b3b"/>
<rect x="1335.6" y="1148.9" width="28.0" height="28.0" fill="#3d3d3d"/>
<rect x="1363.0" y="1148.9" width="55.3" height="28.0" fill="#3e3e3e"/>
<rect x="1417.7" y="1148.9" width="28.0" height="28.0" fill="#3f3f3f"/>
<rect x="1445.1" y="1148.9" width="28.0" height="28.0" fill="#424242"/>
<rect x="1472.4" y="1148.9" width="28.0" height="28.0" fill="#474747"/>
<rect x="1499.8" y="1148.9" width="28.0" height="28.0" fill="#4e4e4e"/>
<rect x="1527.2" y="1148.9" width="28.0" height="28.0" fill="#535353"/>
<rect x="1554.6" y="1148.9" width="28.0" height="28.0" fill="#585858"/>
<rect x="1581.9" y="1148.9" width="28.0" height="28.0" fill="#5c5c5c"/>
<rect x="1609.3" y="1148.9" width="28.0" height="28.0" fill="#606060"/>
<rect x="1636.7" y="1148.9" width="28.0" height="28.0" fill="#666666"/>
<rect x="1664.0" y="1148.9" width="28.0" height="28.0" fill="#6b6b6b"/>
<rect x="1691.4" y="1148.9" width="28.0" height="28.0" fill="#707070"/>
<rect x="1718.8" y="1148.9" width="28.0" height="28.0" fill="#747474"/>
<rect x="1746.1" y="1148.9" width="28.0" height="28.0" fill="#797979"/>
<rect x="1773.5" y="1148.9" width="28.0" height="28.0" fill="#7f7f7f"/>
<rect x="1800.9" y="1148.9" width="28.0" height="28.0" fill="#858585"/>
<rect x="1828.3" y="1148.9" width="28.0" height="28.0" fill="#8b8b8b"/>
<rect x="1855.6" y="1148.9" width="28.0" height="28.0" fill="#8e8e8e"/>
<rect x="1883.0" y="1148.9" width="10.6" height="28.0" fill="#8f8f8f"/>
<rect x="1893.0" y="1148.9" width="10.6" height="28.0" fill="#8e8e8e"/>
<rect x="1903.0" y="1148.9" width="10.6" height="28.0" fill="#8d8d8d"/>
<rect x="1913.0" y="1148.9" width="10.6" height="28.0" fill="#8c8c8c"/>
<rect x="1923.0" y="1148.9" width="10.6" height="28.0" fill="#8b8b8b"/>
<rect x="1933.0" y="1148.9" width="10.6" height="28.0" fill="#858585"/>
<rect x="1943.0" y="1148.9" width="10.6" height="28.0" fill="#777777"/>
<rect x="1953.0" y="1148.9" width="10.6" height="28.0" fill="#686868"/>
<rect x="1963.0" y="1148.9" width="10.6" height="28.0" fill="#5e5e5e"/>
<rect x="1973.0" y="1148.9" width="45.6" height="28.0" fill="#5d5d5d"/>
<rect x="300.0" y="1176.4" width="45.6" height="28.0" fill="#1a1a1a"/>
<rect x="345.0" y="1176.4" width="10.6" height="28.0" fill="#1c1c1c"/>
<rect x="355.0" y="1176.4" width="10.6" height="28.0" fill="#262626"/>
<rect x="365.0" y="1176.4" width="10.6" height="28.0" fill="#373737"/>
<rect x="375.0" y="1176.4" width="10.6" height="28.0" fill="#4a4a4a"/>
<rect x="385.0" y="1176.4" width="10.6" height="28.0" fill="#5b5b5b"/>
<rect x="395.0" y="1176.4" width="10.6" height="28.0" fill="#676767"/>
<rect x="405.0" y="1176.4" width="28.0" height="28.0" fill="#6c6c6c"/>
<rect x="432.4" y="1176.4" width="28.0" height="28.0" fill="#707070"/>
<rect x="459.7" y="1176.4" width="55.3" height="28.0" fill="#737373"/>
<rect x="514.5" y="1176.4" width="28.0" height="28.0" fill="#727272"/>
<rect x="541.9" y="1176.4" width="28.0" height="28.0" fill="#717171"/>
<rect x="569.2" y="1176.4" width="28.0" height="28.0" fill="#6f6f6f"/>
<rect x="596.6" y="1176.4" width="28.0" height="28.0" fill="#6e6e6e"/>
<rect x="624.0" y="1176.4" width="28.0" height="28.0" fill="#6a6a6a"/>
<rect x="651.3" y="1176.4" width="28.0" height="28.0" fill="#5f5f5f"/>
<rect x="678.7" y="1176.4" width="28.0" height="28.0" fill="#525252"/>
<rect x="706.1" y="1176.4" width="28.0" height="28.0" fill="#454545"/>
<rect x="733.4" y="1176.4" width="28.0" height="28.0" fill="#393939"/>
<rect x="760.8" y="1176.4" width="28.0" height="28.0" fill="#2c2c2c"/>
<rect x="788.2" y="1176.4" width="28.0" height="28.0" fill="#1f1f1f"/>
<rect x="815.6" y="1176.4" width="28.0" height="28.0" fill="#131313"/>
<rect x="842.9" y="1176.4" width="55.3" height="28.0" fill="#0d0d0d"/>
<rect x="897.7" y="1176.4" width="28.0" height="28.0" fill="#101010"/>
<rect x="925.0" y="1176.4" width="55.3" height="28.0" fill="#121212"/>
<rect x="979.8" y="1176.4" width="28.0" height="28.0" fill="#0f0f0f"/>
<rect x="1007.1" y="1176.4" width="28.0" height="28.0" fill="#0a0a0a"/>
<rect x="1034.5" y="1176.4" width="28.0" height="28.0" fill="#070707"/>
<rect x="1061.9" y="1176.4" width="28.0" height="28.0" fill="#080808"/>
<rect x="1089.3" y="1176.4" width="28.0" height="28.0" fill="#0c0c0c"/>
<rect x="1116.6" y="1176.4" width="28.0" height="28.0" fill="#131313"/>
<rect x="1144.0" y="1176.4" width="28.0" height="28.0" fill="#1d1d1d"/>
<rect x="1171.4" y="1176.4" width="28.0" height="28.0" fill="#252525"/>
<rect x="1198.7" y="1176.4" width="28.0" height="28.0" fill="#2b2b2b"/>
<rect x="1226.1" y="1176.4" width="28.0" height="28.0" fill="#2e2e2e"/>
<rect x="1253.5" y="1176.4" width="28.0" height="28.0" fill="#303030"/>
<rect x="1280.9" y="1176.4" width="28.0" height="28.0" fill="#313131"/>
<rect x="1308.2" y="1176.4" width="28.0" height="28.0" fill="#323232"/>
<rect x="1335.6" y="1176.4" width="55.3" height="28.0" fill="#343434"/>
<rect x="1390.3" y="1176.4" width="28.0" height="28.0" fill="#363636"/>
<rect x="1417.7" y="1176.4" width="28.0" height="28.0" fill="#383838"/>
<rect x="1445.1" y="1176.4" width="28.0" height="28.0" fill="#3b3b3b"/>
<rect x="1472.4" y="1176.4" width="28.0" height="28.0" fill="#3e3e3e"/>
<rect x="1499.8" y="1176.4" width="28.0" height="28.0" fill="#414141"/>
<rect x="1527.2" y="1176.4" width="28.0" height="28.0" fill="#444444"/>
<rect x="1554.6" y="1176.4" width="28.0" height="28.0" fill="#474747"/>
<rect x="1581.9" y="1176.4" width="28.0" height="28.0" fill="#494949"/>
<rect x="1609.3" y="1176.4" width="28.0" height="28.0" fill="#4c4c4c"/>
<rect x="1636.7" y="1176.4" width="28.0" height="28.0" fill="#505050"/>
<rect x="1664.0" y="1176.4" width="28.0" height="28.0" fill="#545454"/>
<rect x="1691.4" y="1176.4" width="28.0" height="28.0" fill="#585858"/>
<rect x="1718.8" y="1176.4" width="28.0" height="28.0" fill="#5c5c5c"/>
<rect x="1746.1" y="1176.4" width="28.0" height="28.0" fill="#616161"/>
<rect x="1773.5" y="1176.4" width="28.0" height="28.0" fill="#686868"/>
<rect x="1800.9" y="1176.4" width="28.0" height="28.0" fill="#6f6f6f"/>
<rect x="1828.3" y="1176.4" width="28.0" height="28.0" fill="#757575"/>
<rect x="1855.6" y="1176.4" width="28.0" height="28.0" fill="#797979"/>
<rect x="1883.0" y="1176.4" width="30.6" height="28.0" fill="#7a7a7a"/>
<rect x="1913.0" y="1176.4" width="10.6" height="28.0" fill="#797979"/>
<rect x="1923.0" y="1176.4" width="10.6" height="28.0" fill="#787878"/>
<rect x="1933.0" y="1176.4" width="10.6" height="28.0" fill="#747474"/>
<rect x="1943.0" y="1176.4" width="10.6" height="28.0" fill="#6a6a6a"/>
<rect x="1953.0" y="1176.4" width="10.6" height="28.0" fill="#5f5f5f"/>
<rect x="1963.0" y="1176.4" width="10.6" height="28.0" fill="#575757"/>
<rect x="1973.0" y="1176.4" width="45.6" height="28.0" fill="#565656"/>
<rect x="300.0" y="1203.8" width="45.6" height="28.0" fill="#161616"/>
<rect x="345.0" y="1203.8" width="10.6" height="28.0" fill="#181818"/>
<rect x="355.0" y="1203.8" width="10.6" height="28.0" fill="#232323"/>
<rect x="365.0" y="1203.8" width="10.6" height="28.0" fill="#343434"/>
<rect x="375.0" y="1203.8" width="10.6" height="28.0" fill="#484848"/>
<rect x="385.0" y="1203.8" width="10.6" height="28.0" fill="#5b5b5b"/>
<rect x="395.0" y="1203.8" width="10.6" height="28.0" fill="#676767"/>
<rect x="405.0" y="1203.8" width="28.0" height="28.0" fill="#6a6a6a"/>
<rect x="432.4" y="1203.8" width="28.0" height="28.0" fill="#6b6b6b"/>
<rect x="459.7" y="1203.8" width="28.0" height="28.0" fill="#6a6a6a"/>
<rect x="487.1" y="1203.8" width="28.0" height="28.0" fill="#686868"/>
<rect x="514.5" y="1203.8" width="55.3" height="28.0" fill="#656565"/>
<rect x="569.2" y="1203.8" width="28.0" height="28.0" fill="#666666"/>
<rect x="596.6" y="1203.8" width="28.0" height="28.0" fill="#6b6b6b"/>
<rect x="624.0" y="1203.8" width="28.0" height="28.0" fill="#6e6e6e"/>
<rect x="651.3" y="1203.8" width="28.0" height="28.0" fill="#676767"/>
<rect x="678.7" y="1203.8" width="28.0" height="28.0" fill="#5a5a5a"/>
<rect x="706.1" y="1203.8" width="28.0" height="28.0" fill="#4b4b4b"/>
<rect x="733.4" y="1203.8" width="28.0" height="28.0" fill="#3d3d3d"/>
<rect x="760.8" y="1203.8" width="28.0" height="28.0" fill="#2e2e2e"/>
<rect x="788.2" y="1203.8" width="28.0" height="28.0" fill="#1e1e1e"/>
<rect x="815.6" y="1203.8" width="28.0" height="28.0" fill="#121212"/>
<rect x="842.9" y="1203.8" width="28.0" height="28.0" fill="#0b0b0b"/>
<rect x="870.3" y="1203.8" width="28.0" height="28.0" fill="#0a0a0a"/>
<rect x="897.7" y="1203.8" width="28.0" height="28.0" fill="#0e0e0e"/>
<rect x="925.0" y="1203.8" width="55.3" height="28.0" fill="#111111"/>
<rect x="979.8" y="1203.8" width="28.0" height="28.0" fill="#0f0f0f"/>
<rect x="1007.1" y="1203.8" width="28.0" height="28.0" fill="#0c0c0c"/>
<rect x="1034.5" y="1203.8" width="28.0" height="28.0" fill="#090909"/>
<rect x="1061.9" y="1203.8" width="28.0" height="28.0" fill="#080808"/>
<rect x="1089.3" y="1203.8" width="28.0" height="28.0" fill="#0b0b0b"/>
<rect x="1116.6" y="1203.8" width="28.0" height="28.0" fill="#111111"/>
<rect x="1144.0" y="1203.8" width="28.0" height="28.0" fill="#191919"/>
<rect x="1171.4" y="1203.8" width="28.0" height="28.0" fill="#202020"/>
<rect x="1198.7" y="1203.8" width="28.0" height="28.0" fill="#232323"/>
<rect x="1226.1" y="1203.8" width="28.0" height="28.0" fill="#252525"/>
<rect x="1253.5" y="1203.8" width="28.0" height="28.0" fill="#262626"/>
<rect x="1280.9" y="1203.8" width="28.0" height="28.0" fill="#272727"/>
<rect x="1308.2" y="1203.8" width="28.0" height="28.0" fill="#282828"/>
<rect x="1335.6" y="1203.8" width="55.3" height="28.0" fill="#292929"/>
<rect x="1390.3" y="1203.8" width="28.0" height="28.0" fill="#2b2b2b"/>
<rect x="1417.7" y="1203.8" width="28.0" height="28.0" fill="#2e2e2e"/>
<rect x="1445.1" y="1203.8" width="82.7" height="28.0" fill="#323232"/>
<rect x="1527.2" y="1203.8" width="28.0" height="28.0" fill="#333333"/>
<rect x="1554.6" y="1203.8" width="28.0" height="28.0" fill="#353535"/>
<rect x="1581.9" y="1203.8" width="28.0" height="28.0" fill="#363636"/>
<rect x="1609.3" y="1203.8" width="28.0" height="28.0" fill="#383838"/>
<rect x="1636.7" y="1203.8" width="28.0" height="28.0" fill="#3b3b3b"/>
<rect x="1664.0" y="1203.8" width="28.0" height="28.0" fill="#3e3e3e"/>
<rect x="1691.4" y="1203.8" width="28.0" height="28.0" fill="#414141"/>
<rect x="1718.8" y="1203.8" width="28.0" height="28.0" fill="#454545"/>
<rect x="1746.1" y="1203.8" width="28.0" height="28.0" fill="#4b4b4b"/>
<rect x="1773.5" y="1203.8" width="28.0" height="28.0" fill="#525252"/>
<rect x="1800.9" y="1203.8" width="28.0" height="28.0" fill="#595959"/>
<rect x="1828.3" y="1203.8" width="28.0" height="28.0" fill="#5f5f5f"/>
<rect x="1855.6" y="1203.8" width="28.0" height="28.0" fill="#636363"/>
<rect x="1883.0" y="1203.8" width="40.6" height="28.0" fill="#656565"/>
<rect x="1923.0" y="1203.8" width="10.6" height="28.0" fill="#646464"/>
<rect x="1933.0" y="1203.8" width="10.6" height="28.0" fill="#626262"/>
<rect x="1943.0" y="1203.8" width="10.6" height="28.0" fill="#5c5c5c"/>
<rect x="1953.0" y="1203.8" width="10.6" height="28.0" fill="#555555"/>
<rect x="1963.0" y="1203.8" width="10.6" height="28.0" fill="#4f4f4f"/>
<rect x="1973.0" y="1203.8" width="45.6" height="28.0" fill="#4e4e4e"/>
<rect x="300.0" y="1231.2" width="45.6" height="28.0" fill="#131313"/>
<rect x="345.0" y="1231.2" width="10.6" height="28.0" fill="#151515"/>
<rect x="355.0" y="1231.2" width="10.6" height="28.0" fill="#202020"/>
<rect x="365.0" y="1231.2" width="10.6" height="28.0" fill="#313131"/>
<rect x="375.0" y="1231.2" width="10.6" height="28.0" fill="#454545"/>
<rect x="385.0" y="1231.2" width="10.6" height="28.0" fill="#575757"/>
<rect x="395.0" y="1231.2" width="10.6" height="28.0" fill="#636363"/>
<rect x="405.0" y="1231.2" width="28.0" height="28.0" fill="#656565"/>
<rect x="432.4" y="1231.2" width="28.0" height="28.0" fill="#646464"/>
<rect x="459.7" y="1231.2" width="28.0" height="28.0" fill="#606060"/>
<rect x="487.1" y="1231.2" width="28.0" height="28.0" fill="#5a5a5a"/>
<rect x="514.5" y="1231.2" width="55.3" height="28.0" fill="#545454"/>
<rect x="569.2" y="1231.2" width="28.0" height="28.0" fill="#5a5a5a"/>
<rect x="596.6" y="1231.2" width="28.0" height="28.0" fill="#646464"/>
<rect x="624.0" y="1231.2" width="28.0" height="28.0" fill="#6c6c6c"/>
<rect x="651.3" y="1231.2" width="28.0" height="28.0" fill="#696969"/>
<rect x="678.7" y="1231.2" width="28.0" height="28.0" fill="#5e5e5e"/>
<rect x="706.1" y="1231.2" width="28.0" height="28.0" fill="#515151"/>
<rect x="733.4" y="1231.2" width="28.0" height="28.0" fill="#424242"/>
<rect x="760.8" y="1231.2" width="28.0" height="28.0" fill="#303030"/>
<rect x="788.2" y="1231.2" width="28.0" height="28.0" fill="#1f1f1f"/>
<rect x="815.6" y="1231.2" width="28.0" height="28.0" fill="#111111"/>
<rect x="842.9" y="1231.2" width="55.3" height="28.0" fill="#090909"/>
<rect x="897.7" y="1231.2" width="28.0" height="28.0" fill="#0d0d0d"/>
<rect x="925.0" y="1231.2" width="28.0" height="28.0" fill="#111111"/>
<rect x="952.4" y="1231.2" width="28.0" height="28.0" fill="#141414"/>
<rect x="979.8" y="1231.2" width="28.0" height="28.0" fill="#151515"/>
<rect x="1007.1" y="1231.2" width="28.0" height="28.0" fill="#131313"/>
<rect x="1034.5" y="1231.2" width="28.0" height="28.0" fill="#0e0e0e"/>
<rect x="1061.9" y="1231.2" width="55.3" height="28.0" fill="#0a0a0a"/>
<rect x="1116.6" y="1231.2" width="28.0" height="28.0" fill="#0e0e0e"/>
<rect x="1144.0" y="1231.2" width="28.0" height="28.0" fill="#141414"/>
<rect x="1171.4" y="1231.2" width="28.0" height="28.0" fill="#1a1a1a"/>
<rect x="1198.7" y="1231.2" width="28.0" height="28.0" fill="#1c1c1c"/>
<rect x="1226.1" y="1231.2" width="28.0" height="28.0" fill="#1d1d1d"/>
<rect x="1253.5" y="1231.2" width="137.5" height="28.0" fill="#1c1c1c"/>
<rect x="1390.3" y="1231.2" width="28.0" height="28.0" fill="#1d1d1d"/>
<rect x="1417.7" y="1231.2" width="28.0" height="28.0" fill="#202020"/>
<rect x="1445.1" y="1231.2" width="28.0" height="28.0" fill="#232323"/>
<rect x="1472.4" y="1231.2" width="28.0" height="28.0" fill="#222222"/>
<rect x="1499.8" y="1231.2" width="55.3" height="28.0" fill="#212121"/>
<rect x="1554.6" y="1231.2" width="28.0" height="28.0" fill="#222222"/>
<rect x="1581.9" y="1231.2" width="28.0" height="28.0" fill="#232323"/>
<rect x="1609.3" y="1231.2" width="28.0" height="28.0" fill="#242424"/>
<rect x="1636.7" y="1231.2" width="28.0" height="28.0" fill="#262626"/>
<rect x="1664.0" y="1231.2" width="28.0" height="28.0" fill="#2a2a2a"/>
<rect x="1691.4" y="1231.2" width="28.0" height="28.0" fill="#2e2e2e"/>
<rect x="1718.8" y="1231.2" width="28.0" height="28.0" fill="#323232"/>
<rect x="1746.1" y="1231.2" width="28.0" height="28.0" fill="#383838"/>
<rect x="1773.5" y="1231.2" width="28.0" height="28.0" fill="#3e3e3e"/>
<rect x="1800.9" y="1231.2" width="28.0" height="28.0" fill="#454545"/>
<rect x="1828.3" y="1231.2" width="28.0" height="28.0" fill="#4b4b4b"/>
<rect x="1855.6" y="1231.2" width="28.0" height="28.0" fill="#4f4f4f"/>
<rect x="1883.0" y="1231.2" width="50.6" height="28.0" fill="#515151"/>
<rect x="1933.0" y="1231.2" width="10.6" height="28.0" fill="#505050"/>
<rect x="1943.0" y="1231.2" width="10.6" height="28.0" fill="#4c4c4c"/>
<rect x="1953.0" y="1231.2" width="10.6" height="28.0" fill="#474747"/>
<rect x="1963.0" y="1231.2" width="55.6" height="28.0" fill="#434343"/>
<rect x="300.0" y="1258.7" width="45.6" height="28.0" fill="#101010"/>
<rect x="345.0" y="1258.7" width="10.6" height="28.0" fill="#121212"/>
<rect x="355.0" y="1258.7" width="10.6" height="28.0" fill="#1c1c1c"/>
<rect x="365.0" y="1258.7" width="10.6" height="28.0" fill="#2e2e2e"/>
<rect x="375.0" y="1258.7" width="10.6" height="28.0" fill="#414141"/>
<rect x="385.0" y="1258.7" width="10.6" height="28.0" fill="#535353"/>
<rect x="395.0" y="1258.7" width="10.6" height="28.0" fill="#5e5e5e"/>
<rect x="405.0" y="1258.7" width="28.0" height="28.0" fill="#5f5f5f"/>
<rect x="432.4" y="1258.7" width="28.0" height="28.0" fill="#5d5d5d"/>
<rect x="459.7" y="1258.7" width="28.0" height="28.0" fill="#575757"/>
<rect x="487.1" y="1258.7" width="28.0" height="28.0" fill="#4f4f4f"/>
<rect x="514.5" y="1258.7" width="55.3" height="28.0" fill="#474747"/>
<rect x="569.2" y="1258.7" width="28.0" height="28.0" fill="#4e4e4e"/>
<rect x="596.6" y="1258.7" width="28.0" height="28.0" fill="#595959"/>
<rect x="624.0" y="1258.7" width="55.3" height="28.0" fill="#626262"/>
<rect x="678.7" y="1258.7" width="28.0" height="28.0" fill="#5b5b5b"/>
<rect x="706.1" y="1258.7" width="28.0" height="28.0" fill="#505050"/>
<rect x="733.4" y="1258.7" width="28.0" height="28.0" fill="#424242"/>
<rect x="760.8" y="1258.7" width="28.0" height="28.0" fill="#303030"/>
<rect x="788.2" y="1258.7" width="28.0" height="28.0" fill="#1e1e1e"/>
<rect x="815.6" y="1258.7" width="28.0" height="28.0" fill="#0f0f0f"/>
<rect x="842.9" y="1258.7" width="28.0" height="28.0" fill="#080808"/>
<rect x="870.3" y="1258.7" width="28.0" height="28.0" fill="#090909"/>
<rect x="897.7" y="1258.7" width="28.0" height="28.0" fill="#0f0f0f"/>
<rect x="925.0" y="1258.7" width="28.0" height="28.0" fill="#141414"/>
<rect x="952.4" y="1258.7" width="28.0" height="28.0" fill="#171717"/>
<rect x="979.8" y="1258.7" width="28.0" height="28.0" fill="#1b1b1b"/>
<rect x="1007.1" y="1258.7" width="28.0" height="28.0" fill="#1a1a1a"/>
<rect x="1034.5" y="1258.7" width="28.0" height="28.0" fill="#131313"/>
<rect x="1061.9" y="1258.7" width="28.0" height="28.0" fill="#0c0c0c"/>
<rect x="1089.3" y="1258.7" width="28.0" height="28.0" fill="#090909"/>
<rect x="1116.6" y="1258.7" width="28.0" height="28.0" fill="#0b0b0b"/>
<rect x="1144.0" y="1258.7" width="28.0" height="28.0" fill="#0f0f0f"/>
<rect x="1171.4" y="1258.7" width="28.0" height="28.0" fill="#131313"/>
<rect x="1198.7" y="1258.7" width="55.3" height="28.0" fill="#151515"/>
<rect x="1253.5" y="1258.7" width="28.0" height="28.0" fill="#141414"/>
<rect x="1280.9" y="1258.7" width="55.3" height="28.0" fill="#121212"/>
<rect x="1335.6" y="1258.7" width="28.0" height="28.0" fill="#111111"/>
<rect x="1363.0" y="1258.7" width="28.0" height="28.0" fill="#101010"/>
<rect x="1390.3" y="1258.7" width="28.0" height="28.0" fill="#111111"/>
<rect x="1417.7" y="1258.7" width="28.0" height="28.0" fill="#131313"/>
<rect x="1445.1" y="1258.7" width="28.0" height="28.0" fill="#151515"/>
<rect x="1472.4" y="1258.7" width="28.0" height="28.0" fill="#141414"/>
<rect x="1499.8" y="1258.7" width="28.0" height="28.0" fill="#131313"/>
<rect x="1527.2" y="1258.7" width="55.3" height="28.0" fill="#121212"/>
<rect x="1581.9" y="1258.7" width="28.0" height="28.0" fill="#131313"/>
<rect x="1609.3" y="1258.7" width="28.0" height="28.0" fill="#141414"/>
<rect x="1636.7" y="1258.7" width="28.0" height="28.0" fill="#161616"/>
<rect x="1664.0" y="1258.7" width="28.0" height="28.0" fill="#181818"/>
<rect x="1691.4" y="1258.7" width="28.0" height="28.0" fill="#1c1c1c"/>
<rect x="1718.8" y="1258.7" width="28.0" height="28.0" fill="#212121"/>
<rect x="1746.1" y="1258.7" width="28.0" height="28.0" fill="#272727"/>
<rect x="1773.5" y="1258.7" width="28.0" height="28.0" fill="#2d2d2d"/>
<rect x="1800.9" y="1258.7" width="28.0" height="28.0" fill="#333333"/>
<rect x="1828.3" y="1258.7" width="28.0" height="28.0" fill="#393939"/>
<rect x="1855.6" y="1258.7" width="28.0" height="28.0" fill="#3d3d3d"/>
<rect x="1883.0" y="1258.7" width="10.6" height="28.0" fill="#3e3e3e"/>
<rect x="1893.0" y="1258.7" width="40.6" height="28.0" fill="#3f3f3f"/>
<rect x="1933.0" y="1258.7" width="10.6" height="28.0" fill="#3e3e3e"/>
<rect x="1943.0" y="1258.7" width="10.6" height="28.0" fill="#3c3c3c"/>
<rect x="1953.0" y="1258.7" width="10.6" height="28.0" fill="#393939"/>
<rect x="1963.0" y="1258.7" width="55.6" height="28.0" fill="#363636"/>
<rect x="300.0" y="1286.1" width="45.6" height="28.0" fill="#0d0d0d"/>
<rect x="345.0" y="1286.1" width="10.6" height="28.0" fill="#0e0e0e"/>
<rect x="355.0" y="1286.1" width="10.6" height="28.0" fill="#191919"/>
<rect x="365.0" y="1286.1" width="10.6" height="28.0" fill="#2a2a2a"/>
<rect x="375.0" y="1286.1" width="10.6" height="28.0" fill="#3c3c3c"/>
<rect x="385.0" y="1286.1" width="10.6" height="28.0" fill="#4d4d4d"/>
<rect x="395.0" y="1286.1" width="10.6" height="28.0" fill="#585858"/>
<rect x="405.0" y="1286.1" width="28.0" height="28.0" fill="#595959"/>
<rect x="432.4" y="1286.1" width="28.0" height="28.0" fill="#575757"/>
<rect x="459.7" y="1286.1" width="28.0" height="28.0" fill="#515151"/>
<rect x="487.1" y="1286.1" width="28.0" height="28.0" fill="#494949"/>
<rect x="514.5" y="1286.1" width="28.0" height="28.0" fill="#424242"/>
<rect x="541.9" y="1286.1" width="28.0" height="28.0" fill="#414141"/>
<rect x="569.2" y="1286.1" width="28.0" height="28.0" fill="#454545"/>
<rect x="596.6" y="1286.1" width="28.0" height="28.0" fill="#4d4d4d"/>
<rect x="624.0" y="1286.1" width="28.0" height="28.0" fill="#525252"/>
<rect x="651.3" y="1286.1" width="28.0" height="28.0" fill="#535353"/>
<rect x="678.7" y="1286.1" width="28.0" height="28.0" fill="#4e4e4e"/>
<rect x="706.1" y="1286.1" width="28.0" height="28.0" fill="#464646"/>
<rect x="733.4" y="1286.1" width="28.0" height="28.0" fill="#3b3b3b"/>
<rect x="760.8" y="1286.1" width="28.0" height="28.0" fill="#2b2b2b"/>
<rect x="788.2" y="1286.1" width="28.0" height="28.0" fill="#1b1b1b"/>
<rect x="815.6" y="1286.1" width="28.0" height="28.0" fill="#0d0d0d"/>
<rect x="842.9" y="1286.1" width="28.0" height="28.0" fill="#070707"/>
<rect x="870.3" y="1286.1" width="28.0" height="28.0" fill="#090909"/>
<rect x="897.7" y="1286.1" width="28.0" height="28.0" fill="#101010"/>
<rect x="925.0" y="1286.1" width="28.0" height="28.0" fill="#161616"/>
<rect x="952.4" y="1286.1" width="28.0" height="28.0" fill="#191919"/>
<rect x="979.8" y="1286.1" width="55.3" height="28.0" fill="#1d1d1d"/>
<rect x="1034.5" y="1286.1" width="28.0" height="28.0" fill="#161616"/>
<rect x="1061.9" y="1286.1" width="28.0" height="28.0" fill="#0c0c0c"/>
<rect x="1089.3" y="1286.1" width="55.3" height="28.0" fill="#080808"/>
<rect x="1144.0" y="1286.1" width="28.0" height="28.0" fill="#0b0b0b"/>
<rect x="1171.4" y="1286.1" width="28.0" height="28.0" fill="#0d0d0d"/>
<rect x="1198.7" y="1286.1" width="28.0" height="28.0" fill="#0e0e0e"/>
<rect x="1226.1" y="1286.1" width="28.0" height="28.0" fill="#0d0d0d"/>
<rect x="1253.5" y="1286.1" width="28.0" height="28.0" fill="#0c0c0c"/>
<rect x="1280.9" y="1286.1" width="28.0" height="28.0" fill="#0b0b0b"/>
<rect x="1308.2" y="1286.1" width="55.3" height="28.0" fill="#0a0a0a"/>
<rect x="1363.0" y="1286.1" width="55.3" height="28.0" fill="#0b0b0b"/>
<rect x="1417.7" y="1286.1" width="55.3" height="28.0" fill="#0c0c0c"/>
<rect x="1472.4" y="1286.1" width="28.0" height="28.0" fill="#0b0b0b"/>
<rect x="1499.8" y="1286.1" width="137.5" height="28.0" fill="#0a0a0a"/>
<rect x="1636.7" y="1286.1" width="28.0" height="28.0" fill="#0b0b0b"/>
<rect x="1664.0" y="1286.1" width="28.0" height="28.0" fill="#0c0c0c"/>
<rect x="1691.4" y="1286.1" width="28.0" height="28.0" fill="#0f0f0f"/>
<rect x="1718.8" y="1286.1" width="28.0" height="28.0" fill="#121212"/>
<rect x="1746.1" y="1286.1" width="28.0" height="28.0" fill="#181818"/>
<rect x="1773.5" y="1286.1" width="28.0" height="28.0" fill="#1e1e1e"/>
<rect x="1800.9" y="1286.1" width="28.0" height="28.0" fill="#242424"/>
<rect x="1828.3" y="1286.1" width="28.0" height="28.0" fill="#292929"/>
<rect x="1855.6" y="1286.1" width="28.0" height="28.0" fill="#2d2d2d"/>
<rect x="1883.0" y="1286.1" width="10.6" height="28.0" fill="#2e2e2e"/>
<rect x="1893.0" y="1286.1" width="50.6" height="28.0" fill="#2f2f2f"/>
<rect x="1943.0" y="1286.1" width="10.6" height="28.0" fill="#2d2d2d"/>
<rect x="1953.0" y="1286.1" width="10.6" height="28.0" fill="#2a2a2a"/>
<rect x="1963.0" y="1286.1" width="55.6" height="28.0" fill="#282828"/>
<rect x="300.0" y="1313.6" width="45.6" height="28.0" fill="#0a0a0a"/>
<rect x="345.0" y="1313.6" width="10.6" height="28.0" fill="#0b0b0b"/>
<rect x="355.0" y="1313.6" width="10.6" height="28.0" fill="#151515"/>
<rect x="365.0" y="1313.6" width="10.6" height="28.0" fill="#252525"/>
<rect x="375.0" y="1313.6" width="10.6" height="28.0" fill="#363636"/>
<rect x="385.0" y="1313.6" width="10.6" height="28.0" fill="#464646"/>
<rect x="395.0" y="1313.6" width="10.6" height="28.0" fill="#505050"/>
<rect x="405.0" y="1313.6" width="28.0" height="28.0" fill="#515151"/>
<rect x="432.4" y="1313.6" width="28.0" height="28.0" fill="#4e4e4e"/>
<rect x="459.7" y="1313.6" width="28.0" height="28.0" fill="#494949"/>
<rect x="487.1" y="1313.6" width="28.0" height="28.0" fill="#434343"/>
<rect x="514.5" y="1313.6" width="28.0" height="28.0" fill="#3d3d3d"/>
<rect x="541.9" y="1313.6" width="28.0" height="28.0" fill="#3b3b3b"/>
<rect x="569.2" y="1313.6" width="28.0" height="28.0" fill="#3c3c3c"/>
<rect x="596.6" y="1313.6" width="28.0" height="28.0" fill="#3f3f3f"/>
<rect x="624.0" y="1313.6" width="55.3" height="28.0" fill="#424242"/>
<rect x="678.7" y="1313.6" width="28.0" height="28.0" fill="#3f3f3f"/>
<rect x="706.1" y="1313.6" width="28.0" height="28.0" fill="#383838"/>
<rect x="733.4" y="1313.6" width="28.0" height="28.0" fill="#2f2f2f"/>
<rect x="760.8" y="1313.6" width="28.0" height="28.0" fill="#232323"/>
<rect x="788.2" y="1313.6" width="28.0" height="28.0" fill="#151515"/>
<rect x="815.6" y="1313.6" width="28.0" height="28.0" fill="#0a0a0a"/>
<rect x="842.9" y="1313.6" width="28.0" height="28.0" fill="#050505"/>
<rect x="870.3" y="1313.6" width="28.0" height="28.0" fill="#080808"/>
<rect x="897.7" y="1313.6" width="28.0" height="28.0" fill="#0f0f0f"/>
<rect x="925.0" y="1313.6" width="28.0" height="28.0" fill="#141414"/>
<rect x="952.4" y="1313.6" width="28.0" height="28.0" fill="#161616"/>
<rect x="979.8" y="1313.6" width="55.3" height="28.0" fill="#191919"/>
<rect x="1034.5" y="1313.6" width="28.0" height="28.0" fill="#131313"/>
<rect x="1061.9" y="1313.6" width="28.0" height="28.0" fill="#0b0b0b"/>
<rect x="1089.3" y="1313.6" width="55.3" height="28.0" fill="#060606"/>
<rect x="1144.0" y="1313.6" width="28.0" height="28.0" fill="#070707"/>
<rect x="1171.4" y="1313.6" width="28.0" height="28.0" fill="#080808"/>
<rect x="1198.7" y="1313.6" width="28.0" height="28.0" fill="#090909"/>
<rect x="1226.1" y="1313.6" width="55.3" height="28.0" fill="#080808"/>
<rect x="1280.9" y="1313.6" width="55.3" height="28.0" fill="#070707"/>
<rect x="1335.6" y="1313.6" width="28.0" height="28.0" fill="#080808"/>
<rect x="1363.0" y="1313.6" width="55.3" height="28.0" fill="#090909"/>
<rect x="1417.7" y="1313.6" width="28.0" height="28.0" fill="#080808"/>
<rect x="1445.1" y="1313.6" width="28.0" height="28.0" fill="#070707"/>
<rect x="1472.4" y="1313.6" width="164.8" height="28.0" fill="#060606"/>
<rect x="1636.7" y="1313.6" width="28.0" height="28.0" fill="#070707"/>
<rect x="1664.0" y="1313.6" width="28.0" height="28.0" fill="#080808"/>
<rect x="1691.4" y="1313.6" width="28.0" height="28.0" fill="#070707"/>
<rect x="1718.8" y="1313.6" width="28.0" height="28.0" fill="#090909"/>
<rect x="1746.1" y="1313.6" width="28.0" height="28.0" fill="#0d0d0d"/>
<rect x="1773.5" y="1313.6" width="28.0" height="28.0" fill="#121212"/>
<rect x="1800.9" y="1313.6" width="28.0" height="28.0" fill="#171717"/>
<rect x="1828.3" y="1313.6" width="28.0" height="28.0" fill="#1c1c1c"/>
<rect x="1855.6" y="1313.6" width="28.0" height="28.0" fill="#202020"/>
<rect x="1883.0" y="1313.6" width="10.6" height="28.0" fill="#212121"/>
<rect x="1893.0" y="1313.6" width="40.6" height="28.0" fill="#222222"/>
<rect x="1933.0" y="1313.6" width="10.6" height="28.0" fill="#212121"/>
<rect x="1943.0" y="1313.6" width="10.6" height="28.0" fill="#1f1f1f"/>
<rect x="1953.0" y="1313.6" width="10.6" height="28.0" fill="#1d1d1d"/>
<rect x="1963.0" y="1313.6" width="55.6" height="28.0" fill="#1b1b1b"/>
<rect x="300.0" y="1341.0" width="45.6" height="10.6" fill="#080808"/>
<rect x="345.0" y="1341.0" width="10.6" height="10.6" fill="#090909"/>
<rect x="355.0" y="1341.0" width="10.6" height="10.6" fill="#121212"/>
<rect x="365.0" y="1341.0" width="10.6" height="10.6" fill="#202020"/>
<rect x="375.0" y="1341.0" width="10.6" height="10.6" fill="#2f2f2f"/>
<rect x="385.0" y="1341.0" width="10.6" height="10.6" fill="#3d3d3d"/>
<rect x="395.0" y="1341.0" width="10.6" height="10.6" fill="#454545"/>
<rect x="405.0" y="1341.0" width="28.0" height="10.6" fill="#464646"/>
<rect x="432.4" y="1341.0" width="28.0" height="10.6" fill="#444444"/>
<rect x="459.7" y="1341.0" width="28.0" height="10.6" fill="#404040"/>
<rect x="487.1" y="1341.0" width="28.0" height="10.6" fill="#3b3b3b"/>
<rect x="514.5" y="1341.0" width="28.0" height="10.6" fill="#363636"/>
<rect x="541.9" y="1341.0" width="55.3" height="10.6" fill="#333333"/>
<rect x="596.6" y="1341.0" width="28.0" height="10.6" fill="#353535"/>
<rect x="624.0" y="1341.0" width="55.3" height="10.6" fill="#363636"/>
<rect x="678.7" y="1341.0" width="28.0" height="10.6" fill="#333333"/>
<rect x="706.1" y="1341.0" width="28.0" height="10.6" fill="#2d2d2d"/>
<rect x="733.4" y="1341.0" width="28.0" height="10.6" fill="#252525"/>
<rect x="760.8" y="1341.0" width="28.0" height="10.6" fill="#1b1b1b"/>
<rect x="788.2" y="1341.0" width="28.0" height="10.6" fill="#111111"/>
<rect x="815.6" y="1341.0" width="28.0" height="10.6" fill="#080808"/>
<rect x="842.9" y="1341.0" width="28.0" height="10.6" fill="#040404"/>
<rect x="870.3" y="1341.0" width="28.0" height="10.6" fill="#070707"/>
<rect x="897.7" y="1341.0" width="28.0" height="10.6" fill="#0c0c0c"/>
<rect x="925.0" y="1341.0" width="28.0" height="10.6" fill="#0f0f0f"/>
<rect x="952.4" y="1341.0" width="28.0" height="10.6" fill="#111111"/>
<rect x="979.8" y="1341.0" width="55.3" height="10.6" fill="#121212"/>
<rect x="1034.5" y="1341.0" width="28.0" height="10.6" fill="#0e0e0e"/>
<rect x="1061.9" y="1341.0" width="28.0" height="10.6" fill="#080808"/>
<rect x="1089.3" y="1341.0" width="55.3" height="10.6" fill="#050505"/>
<rect x="1144.0" y="1341.0" width="164.8" height="10.6" fill="#060606"/>
<rect x="1308.2" y="1341.0" width="28.0" height="10.6" fill="#070707"/>
<rect x="1335.6" y="1341.0" width="55.3" height="10.6" fill="#080808"/>
<rect x="1390.3" y="1341.0" width="28.0" height="10.6" fill="#070707"/>
<rect x="1417.7" y="1341.0" width="55.3" height="10.6" fill="#060606"/>
<rect x="1472.4" y="1341.0" width="137.5" height="10.6" fill="#050505"/>
<rect x="1609.3" y="1341.0" width="28.0" height="10.6" fill="#060606"/>
<rect x="1636.7" y="1341.0" width="28.0" height="10.6" fill="#070707"/>
<rect x="1664.0" y="1341.0" width="28.0" height="10.6" fill="#080808"/>
<rect x="1691.4" y="1341.0" width="55.3" height="10.6" fill="#060606"/>
<rect x="1746.1" y="1341.0" width="28.0" height="10.6" fill="#080808"/>
<rect x="1773.5" y="1341.0" width="28.0" height="10.6" fill="#0c0c0c"/>
<rect x="1800.9" y="1341.0" width="28.0" height="10.6" fill="#101010"/>
<rect x="1828.3" y="1341.0" width="28.0" height="10.6" fill="#141414"/>
<rect x="1855.6" y="1341.0" width="28.0" height="10.6" fill="#181818"/>
<rect x="1883.0" y="1341.0" width="10.6" height="10.6" fill="#191919"/>
<rect x="1893.0" y="1341.0" width="40.6" height="10.6" fill="#1a1a1a"/>
<rect x="1933.0" y="1341.0" width="10.6" height="10.6" fill="#191919"/>
<rect x="1943.0" y="1341.0" width="10.6" height="10.6" fill="#181818"/>
<rect x="1953.0" y="1341.0" width="10.6" height="10.6" fill="#161616"/>
<rect x="1963.0" y="1341.0" width="10.6" height="10.6" fill="#151515"/>
<rect x="1973.0" y="1341.0" width="45.6" height="10.6" fill="#141414"/>
<rect x="300.0" y="1351.0" width="45.6" height="10.6" fill="#070707"/>
<rect x="345.0" y="1351.0" width="10.6" height="10.6" fill="#080808"/>
<rect x="355.0" y="1351.0" width="10.6" height="10.6" fill="#0f0f0f"/>
<rect x="365.0" y="1351.0" width="10.6" height="10.6" fill="#1a1a1a"/>
<rect x="375.0" y="1351.0" width="10.6" height="10.6" fill="#272727"/>
<rect x="385.0" y="1351.0" width="10.6" height="10.6" fill="#323232"/>
<rect x="395.0" y="1351.0" width="10.6" height="10.6" fill="#383838"/>
<rect x="405.0" y="1351.0" width="28.0" height="10.6" fill="#393939"/>
<rect x="432.4" y="1351.0" width="28.0" height="10.6" fill="#373737"/>
<rect x="459.7" y="1351.0" width="28.0" height="10.6" fill="#353535"/>
<rect x="487.1" y="1351.0" width="28.0" height="10.6" fill="#313131"/>
<rect x="514.5" y="1351.0" width="28.0" height="10.6" fill="#2c2c2c"/>
<rect x="541.9" y="1351.0" width="55.3" height="10.6" fill="#292929"/>
<rect x="596.6" y="1351.0" width="28.0" height="10.6" fill="#2a2a2a"/>
<rect x="624.0" y="1351.0" width="55.3" height="10.6" fill="#2b2b2b"/>
<rect x="678.7" y="1351.0" width="28.0" height="10.6" fill="#282828"/>
<rect x="706.1" y="1351.0" width="28.0" height="10.6" fill="#242424"/>
<rect x="733.4" y="1351.0" width="28.0" height="10.6" fill="#1d1d1d"/>
<rect x="760.8" y="1351.0" width="28.0" height="10.6" fill="#151515"/>
<rect x="788.2" y="1351.0" width="28.0" height="10.6" fill="#0d0d0d"/>
<rect x="815.6" y="1351.0" width="28.0" height="10.6" fill="#070707"/>
<rect x="842.9" y="1351.0" width="28.0" height="10.6" fill="#030303"/>
<rect x="870.3" y="1351.0" width="28.0" height="10.6" fill="#050505"/>
<rect x="897.7" y="1351.0" width="28.0" height="10.6" fill="#090909"/>
<rect x="925.0" y="1351.0" width="55.3" height="10.6" fill="#0c0c0c"/>
<rect x="979.8" y="1351.0" width="55.3" height="10.6" fill="#0d0d0d"/>
<rect x="1034.5" y="1351.0" width="28.0" height="10.6" fill="#0a0a0a"/>
<rect x="1061.9" y="1351.0" width="28.0" height="10.6" fill="#060606"/>
<rect x="1089.3" y="1351.0" width="55.3" height="10.6" fill="#040404"/>
<rect x="1144.0" y="1351.0" width="137.5" height="10.6" fill="#050505"/>
<rect x="1280.9" y="1351.0" width="28.0" height="10.6" fill="#060606"/>
<rect x="1308.2" y="1351.0" width="82.7" height="10.6" fill="#070707"/>
<rect x="1390.3" y="1351.0" width="28.0" height="10.6" fill="#060606"/>
<rect x="1417.7" y="1351.0" width="192.2" height="10.6" fill="#050505"/>
<rect x="1609.3" y="1351.0" width="28.0" height="10.6" fill="#060606"/>
<rect x="1636.7" y="1351.0" width="28.0" height="10.6" fill="#070707"/>
<rect x="1664.0" y="1351.0" width="28.0" height="10.6" fill="#080808"/>
<rect x="1691.4" y="1351.0" width="28.0" height="10.6" fill="#060606"/>
<rect x="1718.8" y="1351.0" width="28.0" height="10.6" fill="#050505"/>
<rect x="1746.1" y="1351.0" width="28.0" height="10.6" fill="#060606"/>
<rect x="1773.5" y="1351.0" width="28.0" height="10.6" fill="#090909"/>
<rect x="1800.9" y="1351.0" width="28.0" height="10.6" fill="#0c0c0c"/>
<rect x="1828.3" y="1351.0" width="28.0" height="10.6" fill="#0f0f0f"/>
<rect x="1855.6" y="1351.0" width="28.0" height="10.6" fill="#121212"/>
<rect x="1883.0" y="1351.0" width="10.6" height="10.6" fill="#131313"/>
<rect x="1893.0" y="1351.0" width="40.6" height="10.6" fill="#141414"/>
<rect x="1933.0" y="1351.0" width="20.6" height="10.6" fill="#131313"/>
<rect x="1953.0" y="1351.0" width="10.6" height="10.6" fill="#121212"/>
<rect x="1963.0" y="1351.0" width="55.6" height="10.6" fill="#111111"/>
<rect x="300.0" y="1361.0" width="45.6" height="10.6" fill="#060606"/>
<rect x="345.0" y="1361.0" width="10.6" height="10.6" fill="#070707"/>
<rect x="355.0" y="1361.0" width="10.6" height="10.6" fill="#0c0c0c"/>
<rect x="365.0" y="1361.0" width="10.6" height="10.6" fill="#141414"/>
<rect x="375.0" y="1361.0" width="10.6" height="10.6" fill="#1d1d1d"/>
<rect x="385.0" y="1361.0" width="10.6" height="10.6" fill="#252525"/>
<rect x="395.0" y="1361.0" width="38.0" height="10.6" fill="#2a2a2a"/>
<rect x="432.4" y="1361.0" width="28.0" height="10.6" fill="#292929"/>
<rect x="459.7" y="1361.0" width="28.0" height="10.6" fill="#282828"/>
<rect x="487.1" y="1361.0" width="28.0" height="10.6" fill="#242424"/>
<rect x="514.5" y="1361.0" width="28.0" height="10.6" fill="#212121"/>
<rect x="541.9" y="1361.0" width="55.3" height="10.6" fill="#1e1e1e"/>
<rect x="596.6" y="1361.0" width="28.0" height="10.6" fill="#1f1f1f"/>
<rect x="624.0" y="1361.0" width="28.0" height="10.6" fill="#202020"/>
<rect x="651.3" y="1361.0" width="28.0" height="10.6" fill="#1f1f1f"/>
<rect x="678.7" y="1361.0" width="28.0" height="10.6" fill="#1d1d1d"/>
<rect x="706.1" y="1361.0" width="28.0" height="10.6" fill="#1a1a1a"/>
<rect x="733.4" y="1361.0" width="28.0" height="10.6" fill="#151515"/>
<rect x="760.8" y="1361.0" width="28.0" height="10.6" fill="#0f0f0f"/>
<rect x="788.2" y="1361.0" width="28.0" height="10.6" fill="#0a0a0a"/>
<rect x="815.6" y="1361.0" width="28.0" height="10.6" fill="#050505"/>
<rect x="842.9" y="1361.0" width="28.0" height="10.6" fill="#030303"/>
<rect x="870.3" y="1361.0" width="28.0" height="10.6" fill="#040404"/>
<rect x="897.7" y="1361.0" width="28.0" height="10.6" fill="#070707"/>
<rect x="925.0" y="1361.0" width="55.3" height="10.6" fill="#080808"/>
<rect x="979.8" y="1361.0" width="55.3" height="10.6" fill="#090909"/>
<rect x="1034.5" y="1361.0" width="28.0" height="10.6" fill="#070707"/>
<rect x="1061.9" y="1361.0" width="28.0" height="10.6" fill="#050505"/>
<rect x="1089.3" y="1361.0" width="55.3" height="10.6" fill="#030303"/>
<rect x="1144.0" y="1361.0" width="137.5" height="10.6" fill="#040404"/>
<rect x="1280.9" y="1361.0" width="28.0" height="10.6" fill="#050505"/>
<rect x="1308.2" y="1361.0" width="28.0" height="10.6" fill="#060606"/>
<rect x="1335.6" y="1361.0" width="28.0" height="10.6" fill="#070707"/>
<rect x="1363.0" y="1361.0" width="28.0" height="10.6" fill="#060606"/>
<rect x="1390.3" y="1361.0" width="28.0" height="10.6" fill="#050505"/>
<rect x="1417.7" y="1361.0" width="192.2" height="10.6" fill="#040404"/>
<rect x="1609.3" y="1361.0" width="28.0" height="10.6" fill="#050505"/>
<rect x="1636.7" y="1361.0" width="55.3" height="10.6" fill="#070707"/>
<rect x="1691.4" y="1361.0" width="28.0" height="10.6" fill="#060606"/>
<rect x="1718.8" y="1361.0" width="28.0" height="10.6" fill="#040404"/>
<rect x="1746.1" y="1361.0" width="28.0" height="10.6" fill="#050505"/>
<rect x="1773.5" y="1361.0" width="28.0" height="10.6" fill="#070707"/>
<rect x="1800.9" y="1361.0" width="28.0" height="10.6" fill="#090909"/>
<rect x="1828.3" y="1361.0" width="28.0" height="10.6" fill="#0b0b0b"/>
<rect x="1855.6" y="1361.0" width="28.0" height="10.6" fill="#0d0d0d"/>
<rect x="1883.0" y="1361.0" width="80.6" height="10.6" fill="#0e0e0e"/>
<rect x="1963.0" y="1361.0" width="55.6" height="10.6" fill="#0d0d0d"/>
<rect x="300.0" y="1371.0" width="45.6" height="10.6" fill="#050505"/>
<rect x="345.0" y="1371.0" width="10.6" height="10.6" fill="#060606"/>
<rect x="355.0" y="1371.0" width="10.6" height="10.6" fill="#090909"/>
<rect x="365.0" y="1371.0" width="10.6" height="10.6" fill="#0e0e0e"/>
<rect x="375.0" y="1371.0" width="10.6" height="10.6" fill="#141414"/>
<rect x="385.0" y="1371.0" width="10.6" height="10.6" fill="#191919"/>
<rect x="395.0" y="1371.0" width="65.3" height="10.6" fill="#1c1c1c"/>
<rect x="459.7" y="1371.0" width="28.0" height="10.6" fill="#1b1b1b"/>
<rect x="487.1" y="1371.0" width="28.0" height="10.6" fill="#191919"/>
<rect x="514.5" y="1371.0" width="28.0" height="10.6" fill="#161616"/>
<rect x="541.9" y="1371.0" width="28.0" height="10.6" fill="#151515"/>
<rect x="569.2" y="1371.0" width="28.0" height="10.6" fill="#141414"/>
<rect x="596.6" y="1371.0" width="82.7" height="10.6" fill="#151515"/>
<rect x="678.7" y="1371.0" width="28.0" height="10.6" fill="#131313"/>
<rect x="706.1" y="1371.0" width="28.0" height="10.6" fill="#111111"/>
<rect x="733.4" y="1371.0" width="28.0" height="10.6" fill="#0e0e0e"/>
<rect x="760.8" y="1371.0" width="28.0" height="10.6" fill="#0a0a0a"/>
<rect x="788.2" y="1371.0" width="28.0" height="10.6" fill="#070707"/>
<rect x="815.6" y="1371.0" width="28.0" height="10.6" fill="#040404"/>
<rect x="842.9" y="1371.0" width="55.3" height="10.6" fill="#030303"/>
<rect x="897.7" y="1371.0" width="55.3" height="10.6" fill="#050505"/>
<rect x="952.4" y="1371.0" width="82.7" height="10.6" fill="#060606"/>
<rect x="1034.5" y="1371.0" width="28.0" height="10.6" fill="#050505"/>
<rect x="1061.9" y="1371.0" width="28.0" height="10.6" fill="#040404"/>
<rect x="1089.3" y="1371.0" width="192.2" height="10.6" fill="#030303"/>
<rect x="1280.9" y="1371.0" width="28.0" height="10.6" fill="#040404"/>
<rect x="1308.2" y="1371.0" width="82.7" height="10.6" fill="#050505"/>
<rect x="1390.3" y="1371.0" width="28.0" height="10.6" fill="#040404"/>
<rect x="1417.7" y="1371.0" width="192.2" height="10.6" fill="#030303"/>
<rect x="1609.3" y="1371.0" width="28.0" height="10.6" fill="#040404"/>
<rect x="1636.7" y="1371.0" width="28.0" height="10.6" fill="#050505"/>
<rect x="1664.0" y="1371.0" width="28.0" height="10.6" fill="#060606"/>
<rect x="1691.4" y="1371.0" width="28.0" height="10.6" fill="#050505"/>
<rect x="1718.8" y="1371.0" width="55.3" height="10.6" fill="#040404"/>
<rect x="1773.5" y="1371.0" width="28.0" height="10.6" fill="#050505"/>
<rect x="1800.9" y="1371.0" width="28.0" height="10.6" fill="#060606"/>
<rect x="1828.3" y="1371.0" width="28.0" height="10.6" fill="#070707"/>
<rect x="1855.6" y="1371.0" width="48.0" height="10.6" fill="#090909"/>
<rect x="1903.0" y="1371.0" width="60.6" height="10.6" fill="#0a0a0a"/>
<rect x="1963.0" y="1371.0" width="55.6" height="10.6" fill="#0b0b0b"/>
<rect x="300.0" y="1381.0" width="45.6" height="10.6" fill="#050505"/>
<rect x="345.0" y="1381.0" width="10.6" height="10.6" fill="#060606"/>
<rect x="355.0" y="1381.0" width="10.6" height="10.6" fill="#070707"/>
<rect x="365.0" y="1381.0" width="10.6" height="10.6" fill="#090909"/>
<rect x="375.0" y="1381.0" width="10.6" height="10.6" fill="#0c0c0c"/>
<rect x="385.0" y="1381.0" width="10.6" height="10.6" fill="#0f0f0f"/>
<rect x="395.0" y="1381.0" width="65.3" height="10.6" fill="#111111"/>
<rect x="459.7" y="1381.0" width="28.0" height="10.6" fill="#101010"/>
<rect x="487.1" y="1381.0" width="28.0" height="10.6" fill="#0f0f0f"/>
<rect x="514.5" y="1381.0" width="28.0" height="10.6" fill="#0e0e0e"/>
<rect x="541.9" y="1381.0" width="137.5" height="10.6" fill="#0d0d0d"/>
<rect x="678.7" y="1381.0" width="28.0" height="10.6" fill="#0c0c0c"/>
<rect x="706.1" y="1381.0" width="28.0" height="10.6" fill="#0b0b0b"/>
<rect x="733.4" y="1381.0" width="28.0" height="10.6" fill="#090909"/>
<rect x="760.8" y="1381.0" width="28.0" height="10.6" fill="#070707"/>
<rect x="788.2" y="1381.0" width="28.0" height="10.6" fill="#050505"/>
<rect x="815.6" y="1381.0" width="28.0" height="10.6" fill="#030303"/>
<rect x="842.9" y="1381.0" width="28.0" height="10.6" fill="#020202"/>
<rect x="870.3" y="1381.0" width="55.3" height="10.6" fill="#030303"/>
<rect x="925.0" y="1381.0" width="137.5" height="10.6" fill="#040404"/>
<rect x="1061.9" y="1381.0" width="55.3" height="10.6" fill="#030303"/>
<rect x="1116.6" y="1381.0" width="137.5" height="10.6" fill="#020202"/>
<rect x="1253.5" y="1381.0" width="55.3" height="10.6" fill="#030303"/>
<rect x="1308.2" y="1381.0" width="82.7" height="10.6" fill="#040404"/>
<rect x="1390.3" y="1381.0" width="55.3" height="10.6" fill="#030303"/>
<rect x="1445.1" y="1381.0" width="110.1" height="10.6" fill="#020202"/>
<rect x="1554.6" y="1381.0" width="82.7" height="10.6" fill="#030303"/>
<rect x="1636.7" y="1381.0" width="82.7" height="10.6" fill="#040404"/>
<rect x="1718.8" y="1381.0" width="82.7" height="10.6" fill="#030303"/>
<rect x="1800.9" y="1381.0" width="28.0" height="10.6" fill="#040404"/>
<rect x="1828.3" y="1381.0" width="28.0" height="10.6" fill="#050505"/>
<rect x="1855.6" y="1381.0" width="88.0" height="10.6" fill="#060606"/>
<rect x="1943.0" y="1381.0" width="10.6" height="10.6" fill="#080808"/>
<rect x="1953.0" y="1381.0" width="10.6" height="10.6" fill="#090909"/>
<rect x="1963.0" y="1381.0" width="55.6" height="10.6" fill="#0b0b0b"/>
<rect x="300.0" y="1391.0" width="55.6" height="10.6" fill="#050505"/>
<rect x="355.0" y="1391.0" width="10.6" height="10.6" fill="#060606"/>
<rect x="365.0" y="1391.0" width="10.6" height="10.6" fill="#070707"/>
<rect x="375.0" y="1391.0" width="10.6" height="10.6" fill="#080808"/>
<rect x="385.0" y="1391.0" width="10.6" height="10.6" fill="#090909"/>
<rect x="395.0" y="1391.0" width="10.6" height="10.6" fill="#0a0a0a"/>
<rect x="405.0" y="1391.0" width="55.3" height="10.6" fill="#0b0b0b"/>
<rect x="459.7" y="1391.0" width="55.3" height="10.6" fill="#0a0a0a"/>
<rect x="514.5" y="1391.0" width="28.0" height="10.6" fill="#090909"/>
<rect x="541.9" y="1391.0" width="137.5" height="10.6" fill="#080808"/>
<rect x="678.7" y="1391.0" width="55.3" height="10.6" fill="#070707"/>
<rect x="733.4" y="1391.0" width="28.0" height="10.6" fill="#060606"/>
<rect x="760.8" y="1391.0" width="28.0" height="10.6" fill="#050505"/>
<rect x="788.2" y="1391.0" width="28.0" height="10.6" fill="#040404"/>
<rect x="815.6" y="1391.0" width="28.0" height="10.6" fill="#030303"/>
<rect x="842.9" y="1391.0" width="55.3" height="10.6" fill="#020202"/>
<rect x="897.7" y="1391.0" width="192.2" height="10.6" fill="#030303"/>
<rect x="1089.3" y="1391.0" width="192.2" height="10.6" fill="#020202"/>
<rect x="1280.9" y="1391.0" width="137.5" height="10.6" fill="#030303"/>
<rect x="1417.7" y="1391.0" width="192.2" height="10.6" fill="#020202"/>
<rect x="1609.3" y="1391.0" width="219.6" height="10.6" fill="#030303"/>
<rect x="1828.3" y="1391.0" width="105.3" height="10.6" fill="#040404"/>
<rect x="1933.0" y="1391.0" width="10.6" height="10.6" fill="#050505"/>
<rect x="1943.0" y="1391.0" width="10.6" height="10.6" fill="#060606"/>
<rect x="1953.0" y="1391.0" width="10.6" height="10.6" fill="#090909"/>
<rect x="1963.0" y="1391.0" width="10.6" height="10.6" fill="#0a0a0a"/>
<rect x="1973.0" y="1391.0" width="45.6" height="10.6" fill="#0b0b0b"/>
<rect x="300.0" y="1401.0" width="55.6" height="20.6" fill="#050505"/>
<rect x="355.0" y="1401.0" width="20.6" height="20.6" fill="#060606"/>
<rect x="375.0" y="1401.0" width="10.6" height="20.6" fill="#070707"/>
<rect x="385.0" y="1401.0" width="10.6" height="20.6" fill="#080808"/>
<rect x="395.0" y="1401.0" width="10.6" height="20.6" fill="#090909"/>
<rect x="405.0" y="1401.0" width="82.7" height="20.6" fill="#0a0a0a"/>
<rect x="487.1" y="1401.0" width="28.0" height="20.6" fill="#090909"/>
<rect x="514.5" y="1401.0" width="55.3" height="20.6" fill="#080808"/>
<rect x="569.2" y="1401.0" width="137.5" height="20.6" fill="#070707"/>
<rect x="706.1" y="1401.0" width="55.3" height="20.6" fill="#060606"/>
<rect x="760.8" y="1401.0" width="28.0" height="20.6" fill="#050505"/>
<rect x="788.2" y="1401.0" width="28.0" height="20.6" fill="#040404"/>
<rect x="815.6" y="1401.0" width="28.0" height="20.6" fill="#030303"/>
<rect x="842.9" y="1401.0" width="55.3" height="20.6" fill="#020202"/>
<rect x="897.7" y="1401.0" width="192.2" height="20.6" fill="#030303"/>
<rect x="1089.3" y="1401.0" width="192.2" height="20.6" fill="#020202"/>
<rect x="1280.9" y="1401.0" width="137.5" height="20.6" fill="#030303"/>
<rect x="1417.7" y="1401.0" width="192.2" height="20.6" fill="#020202"/>
<rect x="1609.3" y="1401.0" width="246.9" height="20.6" fill="#030303"/>
<rect x="1855.6" y="1401.0" width="88.0" height="20.6" fill="#040404"/>
<rect x="1943.0" y="1401.0" width="10.6" height="20.6" fill="#060606"/>
<rect x="1953.0" y="1401.0" width="10.6" height="20.6" fill="#090909"/>
<rect x="1963.0" y="1401.0" width="10.6" height="20.6" fill="#0a0a0a"/>
<rect x="1973.0" y="1401.0" width="45.6" height="20.6" fill="#0b0b0b"/>
<rect x="300.0" y="1421.0" width="55.6" height="25.6" fill="#050505"/>
<rect x="355.0" y="1421.0" width="20.6" height="25.6" fill="#060606"/>
<rect x="375.0" y="1421.0" width="10.6" height="25.6" fill="#070707"/>
<rect x="385.0" y="1421.0" width="10.6" height="25.6" fill="#080808"/>
<rect x="395.0" y="1421.0" width="10.6" height="25.6" fill="#090909"/>
<rect x="405.0" y="1421.0" width="82.7" height="25.6" fill="#0a0a0a"/>
<rect x="487.1" y="1421.0" width="28.0" height="25.6" fill="#090909"/>
<rect x="514.5" y="1421.0" width="55.3" height="25.6" fill="#080808"/>
<rect x="569.2" y="1421.0" width="137.5" height="25.6" fill="#070707"/>
<rect x="706.1" y="1421.0" width="55.3" height="25.6" fill="#060606"/>
<rect x="760.8" y="1421.0" width="28.0" height="25.6" fill="#050505"/>
<rect x="788.2" y="1421.0" width="28.0" height="25.6" fill="#040404"/>
<rect x="815.6" y="1421.0" width="28.0" height="25.6" fill="#030303"/>
<rect x="842.9" y="1421.0" width="55.3" height="25.6" fill="#020202"/>
<rect x="897.7" y="1421.0" width="192.2" height="25.6" fill="#030303"/>
<rect x="1089.3" y="1421.0" width="192.2" height="25.6" fill="#020202"/>
<rect x="1280.9" y="1421.0" width="137.5" height="25.6" fill="#030303"/>
<rect x="1417.7" y="1421.0" width="192.2" height="25.6" fill="#020202"/>
<rect x="1609.3" y="1421.0" width="246.9" height="25.6" fill="#030303"/>
<rect x="1855.6" y="1421.0" width="88.0" height="25.6" fill="#040404"/>
<rect x="1943.0" y="1421.0" width="10.6" height="25.6" fill="#060606"/>
<rect x="1953.0" y="1421.0" width="10.6" height="25.6" fill="#090909"/>
<rect x="1963.0" y="1421.0" width="10.6" height="25.6" fill="#0a0a0a"/>
<rect x="1973.0" y="1421.0" width="45.6" height="25.6" fill="#0b0b0b"/>
</g>
</g>

<!-- colorbar -->
<rect x="2073.0" y="675.0" width="33.0" height="638.0" fill="url(#cbg)"/>

<!-- axes, ticks, text (slightly softened like the up-scaled source) -->
<g filter="url(#soft)">
<g fill="none" stroke="#2b2b2b">
<line x1="342.5" y1="585.0" x2="1976.0" y2="585.0" stroke-width="7.5" stroke-opacity="0.66"/>
<line x1="345.0" y1="585.0" x2="345.0" y2="1403.5" stroke-width="5.0" stroke-opacity="0.92"/>
<line x1="342.5" y1="1401.5" x2="1976.0" y2="1401.5" stroke-width="5.4" stroke-opacity="0.88"/>
<line x1="1973.0" y1="585.0" x2="1973.0" y2="1403.5" stroke-width="6.4" stroke-opacity="0.78"/>
<line x1="2073.0" y1="675.0" x2="2073.0" y2="1315.0" stroke-width="4.4" stroke-opacity="0.90"/>
<line x1="2106.5" y1="675.0" x2="2106.5" y2="1315.0" stroke-width="6.6" stroke-opacity="0.80"/>
<line x1="2071.0" y1="675.0" x2="2110.0" y2="675.0" stroke-width="5.0" stroke-opacity="0.85"/>
<line x1="2071.0" y1="1313.0" x2="2110.0" y2="1313.0" stroke-width="5.0" stroke-opacity="0.85"/>
</g>
<g stroke="#2b2b2b" stroke-width="4.8" stroke-opacity="0.9">
<line x1="347.7" y1="1401.0" x2="347.7" y2="1422.0"/>
<line x1="619.0" y1="1401.0" x2="619.0" y2="1422.0"/>
<line x1="890.4" y1="1401.0" x2="890.4" y2="1422.0"/>
<line x1="1161.7" y1="1401.0" x2="1161.7" y2="1422.0"/>
<line x1="1433.0" y1="1401.0" x2="1433.0" y2="1422.0"/>
<line x1="1704.4" y1="1401.0" x2="1704.4" y2="1422.0"/>
<line x1="324.0" y1="1398.3" x2="345.0" y2="1398.3"/>
<line x1="324.0" y1="1262.3" x2="345.0" y2="1262.3"/>
<line x1="324.0" y1="1126.3" x2="345.0" y2="1126.3"/>
<line x1="324.0" y1="990.3" x2="345.0" y2="990.3"/>
<line x1="324.0" y1="854.3" x2="345.0" y2="854.3"/>
<line x1="324.0" y1="718.3" x2="345.0" y2="718.3"/>
<line x1="2106.0" y1="1313.0" x2="2126.0" y2="1313.0"/>
<line x1="2106.0" y1="1144.7" x2="2126.0" y2="1144.7"/>
<line x1="2106.0" y1="976.3" x2="2126.0" y2="976.3"/>
<line x1="2106.0" y1="808.0" x2="2126.0" y2="808.0"/>
</g>
<g class="dj" stroke="#2b2b2b" stroke-width="1.0" stroke-linejoin="round">
<text transform="translate(347.2,1483.5) scale(1.064,1)" font-size="53.6" text-anchor="middle">0</text>
<text transform="translate(618.5,1483.5) scale(1.064,1)" font-size="53.6" text-anchor="middle">50</text>
<text transform="translate(889.9,1483.5) scale(1.064,1)" font-size="53.6" text-anchor="middle">100</text>
<text transform="translate(1161.2,1483.5) scale(1.064,1)" font-size="53.6" text-anchor="middle">150</text>
<text transform="translate(1432.5,1483.5) scale(1.064,1)" font-size="53.6" text-anchor="middle">200</text>
<text transform="translate(1703.9,1483.5) scale(1.064,1)" font-size="53.6" text-anchor="middle">250</text>
<text transform="translate(302.5,1418.8) scale(1.064,1)" font-size="53.6" text-anchor="end">0</text>
<text transform="translate(302.5,1282.8) scale(1.064,1)" font-size="53.6" text-anchor="end">25</text>
<text transform="translate(302.5,1146.8) scale(1.064,1)" font-size="53.6" text-anchor="end">50</text>
<text transform="translate(302.5,1010.8) scale(1.064,1)" font-size="53.6" text-anchor="end">75</text>
<text transform="translate(302.5,874.8) scale(1.064,1)" font-size="53.6" text-anchor="end">100</text>
<text transform="translate(302.5,738.8) scale(1.064,1)" font-size="53.6" text-anchor="end">125</text>
<text transform="translate(2144.5,1334.5) scale(1.064,1)" font-size="53.6" text-anchor="start">0</text>
<text transform="translate(2144.5,1166.2) scale(1.064,1)" font-size="53.6" text-anchor="start">100</text>
<text transform="translate(2144.5,997.8) scale(1.064,1)" font-size="53.6" text-anchor="start">200</text>
<text transform="translate(2144.5,829.5) scale(1.064,1)" font-size="53.6" text-anchor="start">300</text>
<text transform="translate(1159.0,1565.0) scale(1.040,1)" font-size="56.0" text-anchor="middle">Dim X (Units)</text>
<text transform="translate(156.5,993.0) rotate(-90) scale(1.040,1)" font-size="56.0" text-anchor="middle">Dim Y (Units)</text>
<text transform="translate(1155.5,549.0) scale(0.935,1)" font-size="73.8" text-anchor="middle">Smoothed &amp; Interpolated Error - F(x,y)</text>
</g>
</g>

<circle cx="0" cy="1678" r="2.3" fill="#3a3a3a" filter="url(#soft2)"/>

<!-- annotation -->
<g filter="url(#soft2)">
<text class="hc" font-size="134.5" x="1649" y="184.3">High-Cost Regions</text>
<polygon fill="#e93222" points="2116.0,272.3 623.9,790.8 626.5,798.4 2118.0,278.1"/>
<polygon fill="#e93222" points="2114.4,273.5 1802.9,754.2 1810.0,758.8 2119.6,276.9"/>
<polygon fill="#e93222" points="558.3,818 627.1,746 657.3,831.4"/>
<polygon fill="#e93222" points="1768.1,816.9 1778.4,716.5 1853.9,766.2"/>
</g>
</svg>
</body>
</html>
